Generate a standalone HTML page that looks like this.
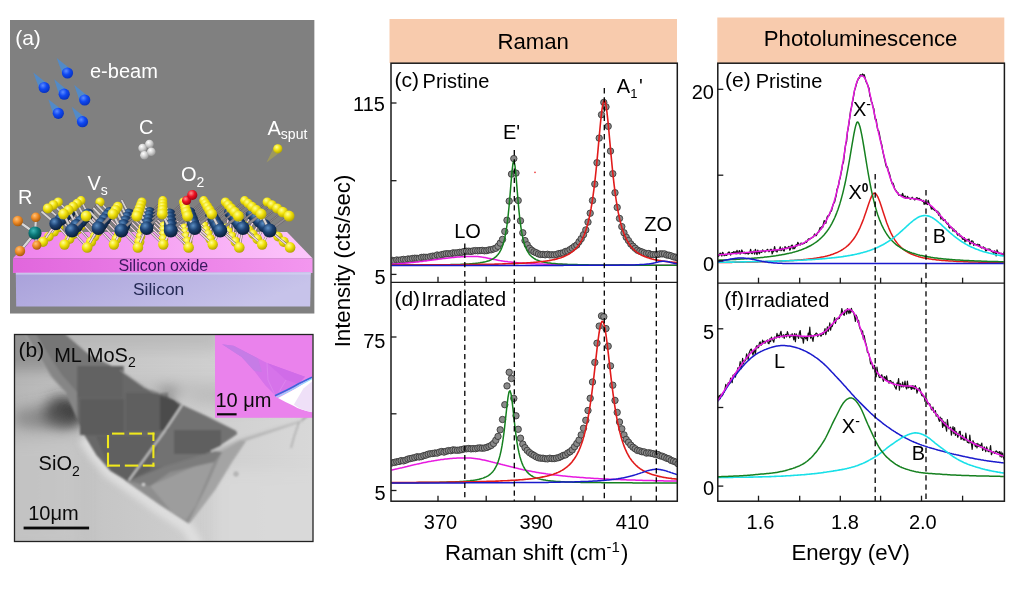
<!DOCTYPE html>
<html><head><meta charset="utf-8"><title>Figure</title>
<style>html,body{margin:0;padding:0;background:#fff}body{width:1024px;height:600px;overflow:hidden}svg{display:block}text{font-family:"Liberation Sans",Arial,sans-serif}</style>
</head><body>
<svg width="1024" height="600" viewBox="0 0 1024 600">
<defs>
<radialGradient id="gS" cx="0.38" cy="0.32" r="0.75"><stop offset="0" stop-color="#ffff9a"/><stop offset="0.45" stop-color="#f2e20c"/><stop offset="1" stop-color="#a89a00"/></radialGradient>
<radialGradient id="gMo" cx="0.38" cy="0.32" r="0.75"><stop offset="0" stop-color="#5d8fc4"/><stop offset="0.45" stop-color="#1d4272"/><stop offset="1" stop-color="#07172e"/></radialGradient>
<radialGradient id="gB" cx="0.38" cy="0.32" r="0.75"><stop offset="0" stop-color="#5c8cff"/><stop offset="0.45" stop-color="#0f48f2"/><stop offset="1" stop-color="#062eb4"/></radialGradient>
<radialGradient id="gR" cx="0.38" cy="0.32" r="0.75"><stop offset="0" stop-color="#ff8f8f"/><stop offset="0.45" stop-color="#ee1122"/><stop offset="1" stop-color="#8a0010"/></radialGradient>
<radialGradient id="gC" cx="0.38" cy="0.32" r="0.75"><stop offset="0" stop-color="#ffffff"/><stop offset="0.45" stop-color="#d4d4d4"/><stop offset="1" stop-color="#8e8e8e"/></radialGradient>
<radialGradient id="gO" cx="0.38" cy="0.32" r="0.75"><stop offset="0" stop-color="#ffc37a"/><stop offset="0.45" stop-color="#f08c28"/><stop offset="1" stop-color="#9a5208"/></radialGradient>
<radialGradient id="gT" cx="0.38" cy="0.32" r="0.75"><stop offset="0" stop-color="#3fb7b7"/><stop offset="0.45" stop-color="#0a7878"/><stop offset="1" stop-color="#033c3c"/></radialGradient>
<linearGradient id="gTop" x1="0" y1="0" x2="1" y2="0"><stop offset="0" stop-color="#ee82ec"/><stop offset="0.5" stop-color="#f6a4f3"/><stop offset="1" stop-color="#fcc6fb"/></linearGradient>
<linearGradient id="gOx" x1="0" y1="0" x2="1" y2="0"><stop offset="0" stop-color="#e166dd"/><stop offset="1" stop-color="#f397ef"/></linearGradient>
<linearGradient id="gSi" x1="0" y1="0" x2="1" y2="0.3"><stop offset="0" stop-color="#a9a1da"/><stop offset="1" stop-color="#c7c3ea"/></linearGradient>
<linearGradient id="gSem" x1="0" y1="0" x2="1" y2="0"><stop offset="0" stop-color="#b6b6b6"/><stop offset="0.3" stop-color="#c6c6c6"/><stop offset="1" stop-color="#d8d8d8"/></linearGradient>
<filter id="bl1" x="-10%" y="-10%" width="120%" height="120%"><feGaussianBlur stdDeviation="0.8"/></filter>
<filter id="bl3" x="-30%" y="-30%" width="160%" height="160%"><feGaussianBlur stdDeviation="3"/></filter>
<filter id="bl6" x="-50%" y="-50%" width="200%" height="200%"><feGaussianBlur stdDeviation="7"/></filter>
<filter id="bl05" x="-10%" y="-10%" width="120%" height="120%"><feGaussianBlur stdDeviation="0.45"/></filter>
<clipPath id="clipA"><rect x="10" y="20" width="304.6" height="293.7"/></clipPath>
<clipPath id="clipB"><rect x="14.5" y="334.5" width="298" height="206.5"/></clipPath>
<clipPath id="clipC"><rect x="391.5" y="63" width="285.5" height="219.3"/></clipPath>
<clipPath id="clipD"><rect x="391.5" y="282.3" width="285.5" height="218.7"/></clipPath>
<clipPath id="clipE"><rect x="718" y="63" width="286" height="220.2"/></clipPath>
<clipPath id="clipF"><rect x="718" y="283.2" width="286" height="217.8"/></clipPath>
</defs>
<rect width="1024" height="600" fill="#ffffff"/>
<g id="panelA" clip-path="url(#clipA)">
<rect x="10" y="20" width="304.6" height="293.7" fill="#808080"/>
<polygon points="13,258.3 312.5,258.3 287,232 37,232" fill="url(#gTop)"/>
<rect x="13" y="258.3" width="299.5" height="14.7" fill="url(#gOx)"/>
<polygon points="15.8,273 310.8,272 310.2,306.5 16.2,306.5" fill="url(#gSi)"/>
<rect x="15.8" y="272.6" width="295" height="2" fill="#d6d2f2" opacity="0.7"/>
<line x1="69.6" y1="212.6" x2="81.8" y2="225.8" stroke="#6a6468" stroke-width="2.0" stroke-linecap="round"/><line x1="69.6" y1="212.6" x2="81.8" y2="225.8" stroke="#f7dbe4" stroke-width="1.1" stroke-linecap="round"/>
<line x1="69.6" y1="212.6" x2="81.0" y2="200.6" stroke="#6a6468" stroke-width="1.8" stroke-linecap="round"/><line x1="69.6" y1="212.6" x2="81.0" y2="200.6" stroke="#8f8a8e" stroke-width="0.9" stroke-linecap="round"/>
<line x1="88.0" y1="214.2" x2="100.9" y2="227.8" stroke="#6a6468" stroke-width="2.0" stroke-linecap="round"/><line x1="88.0" y1="214.2" x2="100.9" y2="227.8" stroke="#f7dbe4" stroke-width="1.1" stroke-linecap="round"/>
<line x1="88.0" y1="214.2" x2="100.0" y2="202.0" stroke="#6a6468" stroke-width="1.8" stroke-linecap="round"/><line x1="88.0" y1="214.2" x2="100.0" y2="202.0" stroke="#8f8a8e" stroke-width="0.9" stroke-linecap="round"/>
<line x1="109.7" y1="212.6" x2="122.7" y2="225.8" stroke="#6a6468" stroke-width="2.0" stroke-linecap="round"/><line x1="109.7" y1="212.6" x2="122.7" y2="225.8" stroke="#f7dbe4" stroke-width="1.1" stroke-linecap="round"/>
<line x1="128.9" y1="214.2" x2="142.7" y2="227.8" stroke="#6a6468" stroke-width="2.0" stroke-linecap="round"/><line x1="128.9" y1="214.2" x2="142.7" y2="227.8" stroke="#f7dbe4" stroke-width="1.1" stroke-linecap="round"/>
<line x1="128.9" y1="214.2" x2="141.8" y2="202.0" stroke="#6a6468" stroke-width="1.8" stroke-linecap="round"/><line x1="128.9" y1="214.2" x2="141.8" y2="202.0" stroke="#8f8a8e" stroke-width="0.9" stroke-linecap="round"/>
<line x1="149.7" y1="212.6" x2="163.6" y2="225.8" stroke="#6a6468" stroke-width="2.0" stroke-linecap="round"/><line x1="149.7" y1="212.6" x2="163.6" y2="225.8" stroke="#f7dbe4" stroke-width="1.1" stroke-linecap="round"/>
<line x1="149.7" y1="212.6" x2="162.8" y2="200.6" stroke="#6a6468" stroke-width="1.8" stroke-linecap="round"/><line x1="149.7" y1="212.6" x2="162.8" y2="200.6" stroke="#8f8a8e" stroke-width="0.9" stroke-linecap="round"/>
<line x1="169.8" y1="214.2" x2="184.5" y2="227.8" stroke="#6a6468" stroke-width="2.0" stroke-linecap="round"/><line x1="169.8" y1="214.2" x2="184.5" y2="227.8" stroke="#f7dbe4" stroke-width="1.1" stroke-linecap="round"/>
<line x1="169.8" y1="214.2" x2="183.6" y2="202.0" stroke="#6a6468" stroke-width="1.8" stroke-linecap="round"/><line x1="169.8" y1="214.2" x2="183.6" y2="202.0" stroke="#8f8a8e" stroke-width="0.9" stroke-linecap="round"/>
<line x1="189.7" y1="212.6" x2="204.5" y2="225.8" stroke="#6a6468" stroke-width="2.0" stroke-linecap="round"/><line x1="189.7" y1="212.6" x2="204.5" y2="225.8" stroke="#f7dbe4" stroke-width="1.1" stroke-linecap="round"/>
<line x1="189.7" y1="212.6" x2="203.7" y2="200.6" stroke="#6a6468" stroke-width="1.8" stroke-linecap="round"/><line x1="189.7" y1="212.6" x2="203.7" y2="200.6" stroke="#8f8a8e" stroke-width="0.9" stroke-linecap="round"/>
<line x1="210.7" y1="214.2" x2="226.3" y2="227.8" stroke="#6a6468" stroke-width="2.0" stroke-linecap="round"/><line x1="210.7" y1="214.2" x2="226.3" y2="227.8" stroke="#f7dbe4" stroke-width="1.1" stroke-linecap="round"/>
<line x1="210.7" y1="214.2" x2="225.4" y2="202.0" stroke="#6a6468" stroke-width="1.8" stroke-linecap="round"/><line x1="210.7" y1="214.2" x2="225.4" y2="202.0" stroke="#8f8a8e" stroke-width="0.9" stroke-linecap="round"/>
<line x1="229.7" y1="212.6" x2="245.4" y2="225.8" stroke="#6a6468" stroke-width="2.0" stroke-linecap="round"/><line x1="229.7" y1="212.6" x2="245.4" y2="225.8" stroke="#f7dbe4" stroke-width="1.1" stroke-linecap="round"/>
<line x1="229.7" y1="212.6" x2="244.6" y2="200.6" stroke="#6a6468" stroke-width="1.8" stroke-linecap="round"/><line x1="229.7" y1="212.6" x2="244.6" y2="200.6" stroke="#8f8a8e" stroke-width="0.9" stroke-linecap="round"/>
<line x1="251.6" y1="214.2" x2="268.0" y2="227.8" stroke="#6a6468" stroke-width="2.0" stroke-linecap="round"/><line x1="251.6" y1="214.2" x2="268.0" y2="227.8" stroke="#f7dbe4" stroke-width="1.1" stroke-linecap="round"/>
<line x1="251.6" y1="214.2" x2="267.2" y2="202.0" stroke="#6a6468" stroke-width="1.8" stroke-linecap="round"/><line x1="251.6" y1="214.2" x2="267.2" y2="202.0" stroke="#8f8a8e" stroke-width="0.9" stroke-linecap="round"/>
<line x1="69.6" y1="212.6" x2="59.1" y2="227.8" stroke="#6a6468" stroke-width="2.3" stroke-linecap="round"/><line x1="69.6" y1="212.6" x2="59.1" y2="227.8" stroke="#f6d3df" stroke-width="1.4" stroke-linecap="round"/>
<line x1="88.0" y1="214.2" x2="81.8" y2="225.8" stroke="#6a6468" stroke-width="2.2" stroke-linecap="round"/><line x1="88.0" y1="214.2" x2="81.8" y2="225.8" stroke="#f6d3df" stroke-width="1.3" stroke-linecap="round"/>
<line x1="109.7" y1="212.6" x2="100.9" y2="227.8" stroke="#6a6468" stroke-width="2.3" stroke-linecap="round"/><line x1="109.7" y1="212.6" x2="100.9" y2="227.8" stroke="#f6d3df" stroke-width="1.4" stroke-linecap="round"/>
<line x1="128.9" y1="214.2" x2="122.7" y2="225.8" stroke="#6a6468" stroke-width="2.2" stroke-linecap="round"/><line x1="128.9" y1="214.2" x2="122.7" y2="225.8" stroke="#f6d3df" stroke-width="1.3" stroke-linecap="round"/>
<line x1="149.7" y1="212.6" x2="142.7" y2="227.8" stroke="#6a6468" stroke-width="2.3" stroke-linecap="round"/><line x1="149.7" y1="212.6" x2="142.7" y2="227.8" stroke="#f6d3df" stroke-width="1.4" stroke-linecap="round"/>
<line x1="169.8" y1="214.2" x2="163.6" y2="225.8" stroke="#6a6468" stroke-width="2.2" stroke-linecap="round"/><line x1="169.8" y1="214.2" x2="163.6" y2="225.8" stroke="#f6d3df" stroke-width="1.3" stroke-linecap="round"/>
<line x1="189.7" y1="212.6" x2="184.5" y2="227.8" stroke="#6a6468" stroke-width="2.3" stroke-linecap="round"/><line x1="189.7" y1="212.6" x2="184.5" y2="227.8" stroke="#f6d3df" stroke-width="1.4" stroke-linecap="round"/>
<line x1="210.7" y1="214.2" x2="204.5" y2="225.8" stroke="#6a6468" stroke-width="2.2" stroke-linecap="round"/><line x1="210.7" y1="214.2" x2="204.5" y2="225.8" stroke="#f6d3df" stroke-width="1.3" stroke-linecap="round"/>
<line x1="229.7" y1="212.6" x2="226.3" y2="227.8" stroke="#6a6468" stroke-width="2.3" stroke-linecap="round"/><line x1="229.7" y1="212.6" x2="226.3" y2="227.8" stroke="#f6d3df" stroke-width="1.4" stroke-linecap="round"/>
<line x1="251.6" y1="214.2" x2="245.4" y2="225.8" stroke="#6a6468" stroke-width="2.2" stroke-linecap="round"/><line x1="251.6" y1="214.2" x2="245.4" y2="225.8" stroke="#f6d3df" stroke-width="1.3" stroke-linecap="round"/>
<line x1="69.6" y1="212.6" x2="58.2" y2="202.0" stroke="#6a6468" stroke-width="2.6" stroke-linecap="round"/><line x1="69.6" y1="212.6" x2="58.2" y2="202.0" stroke="#d6d2d2" stroke-width="1.7" stroke-linecap="round"/>
<line x1="88.0" y1="214.2" x2="81.0" y2="200.6" stroke="#6a6468" stroke-width="2.6" stroke-linecap="round"/><line x1="88.0" y1="214.2" x2="81.0" y2="200.6" stroke="#d6d2d2" stroke-width="1.7" stroke-linecap="round"/>
<line x1="109.7" y1="212.6" x2="100.0" y2="202.0" stroke="#6a6468" stroke-width="2.6" stroke-linecap="round"/><line x1="109.7" y1="212.6" x2="100.0" y2="202.0" stroke="#d6d2d2" stroke-width="1.7" stroke-linecap="round"/>
<line x1="128.9" y1="214.2" x2="121.9" y2="200.6" stroke="#6a6468" stroke-width="2.6" stroke-linecap="round"/><line x1="128.9" y1="214.2" x2="121.9" y2="200.6" stroke="#d6d2d2" stroke-width="1.7" stroke-linecap="round"/>
<line x1="149.7" y1="212.6" x2="141.8" y2="202.0" stroke="#6a6468" stroke-width="2.6" stroke-linecap="round"/><line x1="149.7" y1="212.6" x2="141.8" y2="202.0" stroke="#d6d2d2" stroke-width="1.7" stroke-linecap="round"/>
<line x1="169.8" y1="214.2" x2="162.8" y2="200.6" stroke="#6a6468" stroke-width="2.6" stroke-linecap="round"/><line x1="169.8" y1="214.2" x2="162.8" y2="200.6" stroke="#d6d2d2" stroke-width="1.7" stroke-linecap="round"/>
<line x1="189.7" y1="212.6" x2="183.6" y2="202.0" stroke="#6a6468" stroke-width="2.6" stroke-linecap="round"/><line x1="189.7" y1="212.6" x2="183.6" y2="202.0" stroke="#d6d2d2" stroke-width="1.7" stroke-linecap="round"/>
<line x1="210.7" y1="214.2" x2="203.7" y2="200.6" stroke="#6a6468" stroke-width="2.6" stroke-linecap="round"/><line x1="210.7" y1="214.2" x2="203.7" y2="200.6" stroke="#d6d2d2" stroke-width="1.7" stroke-linecap="round"/>
<line x1="229.7" y1="212.6" x2="225.4" y2="202.0" stroke="#6a6468" stroke-width="2.6" stroke-linecap="round"/><line x1="229.7" y1="212.6" x2="225.4" y2="202.0" stroke="#d6d2d2" stroke-width="1.7" stroke-linecap="round"/>
<line x1="251.6" y1="214.2" x2="244.6" y2="200.6" stroke="#6a6468" stroke-width="2.6" stroke-linecap="round"/><line x1="251.6" y1="214.2" x2="244.6" y2="200.6" stroke="#d6d2d2" stroke-width="1.7" stroke-linecap="round"/>
<circle cx="69.6" cy="212.6" r="5.7" fill="url(#gMo)"/>
<circle cx="88.0" cy="214.2" r="5.8" fill="url(#gMo)"/>
<circle cx="109.7" cy="212.6" r="5.7" fill="url(#gMo)"/>
<circle cx="128.9" cy="214.2" r="5.8" fill="url(#gMo)"/>
<circle cx="149.7" cy="212.6" r="5.7" fill="url(#gMo)"/>
<circle cx="169.8" cy="214.2" r="5.8" fill="url(#gMo)"/>
<circle cx="189.7" cy="212.6" r="5.7" fill="url(#gMo)"/>
<circle cx="210.7" cy="214.2" r="5.8" fill="url(#gMo)"/>
<circle cx="229.7" cy="212.6" r="5.7" fill="url(#gMo)"/>
<circle cx="251.6" cy="214.2" r="5.8" fill="url(#gMo)"/>
<circle cx="58.2" cy="202.0" r="4.6" fill="url(#gS)"/>
<circle cx="81.0" cy="200.6" r="4.5" fill="url(#gS)"/>
<circle cx="100.0" cy="202.0" r="4.6" fill="url(#gS)"/>
<circle cx="141.8" cy="202.0" r="4.6" fill="url(#gS)"/>
<circle cx="162.8" cy="200.6" r="4.5" fill="url(#gS)"/>
<circle cx="183.6" cy="202.0" r="4.6" fill="url(#gS)"/>
<circle cx="203.7" cy="200.6" r="4.5" fill="url(#gS)"/>
<circle cx="225.4" cy="202.0" r="4.6" fill="url(#gS)"/>
<circle cx="244.6" cy="200.6" r="4.5" fill="url(#gS)"/>
<circle cx="267.2" cy="202.0" r="4.6" fill="url(#gS)"/>
<circle cx="59.1" cy="227.8" r="4.4" fill="url(#gS)"/>
<circle cx="81.8" cy="225.8" r="4.3" fill="url(#gS)"/>
<circle cx="100.9" cy="227.8" r="4.4" fill="url(#gS)"/>
<circle cx="122.7" cy="225.8" r="4.3" fill="url(#gS)"/>
<circle cx="142.7" cy="227.8" r="4.4" fill="url(#gS)"/>
<circle cx="163.6" cy="225.8" r="4.3" fill="url(#gS)"/>
<circle cx="184.5" cy="227.8" r="4.4" fill="url(#gS)"/>
<circle cx="204.5" cy="225.8" r="4.3" fill="url(#gS)"/>
<circle cx="226.3" cy="227.8" r="4.4" fill="url(#gS)"/>
<circle cx="245.4" cy="225.8" r="4.3" fill="url(#gS)"/>
<circle cx="268.0" cy="227.8" r="4.4" fill="url(#gS)"/>
<line x1="65.4" y1="215.9" x2="78.1" y2="229.9" stroke="#6a6468" stroke-width="2.1" stroke-linecap="round"/><line x1="65.4" y1="215.9" x2="78.1" y2="229.9" stroke="#f7dbe4" stroke-width="1.2" stroke-linecap="round"/>
<line x1="65.4" y1="215.9" x2="77.2" y2="203.5" stroke="#6a6468" stroke-width="1.9" stroke-linecap="round"/><line x1="65.4" y1="215.9" x2="77.2" y2="203.5" stroke="#8f8a8e" stroke-width="1.0" stroke-linecap="round"/>
<line x1="84.6" y1="217.7" x2="97.9" y2="232.0" stroke="#6a6468" stroke-width="2.0" stroke-linecap="round"/><line x1="84.6" y1="217.7" x2="97.9" y2="232.0" stroke="#f7dbe4" stroke-width="1.1" stroke-linecap="round"/>
<line x1="107.2" y1="215.9" x2="120.8" y2="229.9" stroke="#6a6468" stroke-width="2.1" stroke-linecap="round"/><line x1="107.2" y1="215.9" x2="120.8" y2="229.9" stroke="#f7dbe4" stroke-width="1.2" stroke-linecap="round"/>
<line x1="127.3" y1="217.7" x2="141.6" y2="232.0" stroke="#6a6468" stroke-width="2.0" stroke-linecap="round"/><line x1="127.3" y1="217.7" x2="141.6" y2="232.0" stroke="#f7dbe4" stroke-width="1.1" stroke-linecap="round"/>
<line x1="127.3" y1="217.7" x2="140.8" y2="205.0" stroke="#6a6468" stroke-width="1.9" stroke-linecap="round"/><line x1="127.3" y1="217.7" x2="140.8" y2="205.0" stroke="#8f8a8e" stroke-width="1.0" stroke-linecap="round"/>
<line x1="149.0" y1="215.9" x2="163.5" y2="229.9" stroke="#6a6468" stroke-width="2.1" stroke-linecap="round"/><line x1="149.0" y1="215.9" x2="163.5" y2="229.9" stroke="#f7dbe4" stroke-width="1.2" stroke-linecap="round"/>
<line x1="149.0" y1="215.9" x2="162.7" y2="203.5" stroke="#6a6468" stroke-width="1.9" stroke-linecap="round"/><line x1="149.0" y1="215.9" x2="162.7" y2="203.5" stroke="#8f8a8e" stroke-width="1.0" stroke-linecap="round"/>
<line x1="170.0" y1="217.7" x2="185.4" y2="232.0" stroke="#6a6468" stroke-width="2.0" stroke-linecap="round"/><line x1="170.0" y1="217.7" x2="185.4" y2="232.0" stroke="#f7dbe4" stroke-width="1.1" stroke-linecap="round"/>
<line x1="170.0" y1="217.7" x2="184.5" y2="205.0" stroke="#6a6468" stroke-width="1.9" stroke-linecap="round"/><line x1="170.0" y1="217.7" x2="184.5" y2="205.0" stroke="#8f8a8e" stroke-width="1.0" stroke-linecap="round"/>
<line x1="190.8" y1="215.9" x2="206.3" y2="229.9" stroke="#6a6468" stroke-width="2.1" stroke-linecap="round"/><line x1="190.8" y1="215.9" x2="206.3" y2="229.9" stroke="#f7dbe4" stroke-width="1.2" stroke-linecap="round"/>
<line x1="190.8" y1="215.9" x2="205.4" y2="203.5" stroke="#6a6468" stroke-width="1.9" stroke-linecap="round"/><line x1="190.8" y1="215.9" x2="205.4" y2="203.5" stroke="#8f8a8e" stroke-width="1.0" stroke-linecap="round"/>
<line x1="212.8" y1="217.7" x2="229.1" y2="232.0" stroke="#6a6468" stroke-width="2.0" stroke-linecap="round"/><line x1="212.8" y1="217.7" x2="229.1" y2="232.0" stroke="#f7dbe4" stroke-width="1.1" stroke-linecap="round"/>
<line x1="212.8" y1="217.7" x2="228.2" y2="205.0" stroke="#6a6468" stroke-width="1.9" stroke-linecap="round"/><line x1="212.8" y1="217.7" x2="228.2" y2="205.0" stroke="#8f8a8e" stroke-width="1.0" stroke-linecap="round"/>
<line x1="232.6" y1="215.9" x2="249.0" y2="229.9" stroke="#6a6468" stroke-width="2.1" stroke-linecap="round"/><line x1="232.6" y1="215.9" x2="249.0" y2="229.9" stroke="#f7dbe4" stroke-width="1.2" stroke-linecap="round"/>
<line x1="232.6" y1="215.9" x2="248.1" y2="203.5" stroke="#6a6468" stroke-width="1.9" stroke-linecap="round"/><line x1="232.6" y1="215.9" x2="248.1" y2="203.5" stroke="#8f8a8e" stroke-width="1.0" stroke-linecap="round"/>
<line x1="255.5" y1="217.7" x2="272.8" y2="232.0" stroke="#6a6468" stroke-width="2.0" stroke-linecap="round"/><line x1="255.5" y1="217.7" x2="272.8" y2="232.0" stroke="#f7dbe4" stroke-width="1.1" stroke-linecap="round"/>
<line x1="255.5" y1="217.7" x2="271.9" y2="205.0" stroke="#6a6468" stroke-width="1.9" stroke-linecap="round"/><line x1="255.5" y1="217.7" x2="271.9" y2="205.0" stroke="#8f8a8e" stroke-width="1.0" stroke-linecap="round"/>
<line x1="65.4" y1="215.9" x2="54.2" y2="232.0" stroke="#6a6468" stroke-width="2.3" stroke-linecap="round"/><line x1="65.4" y1="215.9" x2="54.2" y2="232.0" stroke="#f6d3df" stroke-width="1.4" stroke-linecap="round"/>
<line x1="84.6" y1="217.7" x2="78.1" y2="229.9" stroke="#6a6468" stroke-width="2.3" stroke-linecap="round"/><line x1="84.6" y1="217.7" x2="78.1" y2="229.9" stroke="#f6d3df" stroke-width="1.4" stroke-linecap="round"/>
<line x1="107.2" y1="215.9" x2="97.9" y2="232.0" stroke="#6a6468" stroke-width="2.3" stroke-linecap="round"/><line x1="107.2" y1="215.9" x2="97.9" y2="232.0" stroke="#f6d3df" stroke-width="1.4" stroke-linecap="round"/>
<line x1="127.3" y1="217.7" x2="120.8" y2="229.9" stroke="#6a6468" stroke-width="2.3" stroke-linecap="round"/><line x1="127.3" y1="217.7" x2="120.8" y2="229.9" stroke="#f6d3df" stroke-width="1.4" stroke-linecap="round"/>
<line x1="149.0" y1="215.9" x2="141.6" y2="232.0" stroke="#6a6468" stroke-width="2.3" stroke-linecap="round"/><line x1="149.0" y1="215.9" x2="141.6" y2="232.0" stroke="#f6d3df" stroke-width="1.4" stroke-linecap="round"/>
<line x1="170.0" y1="217.7" x2="163.5" y2="229.9" stroke="#6a6468" stroke-width="2.3" stroke-linecap="round"/><line x1="170.0" y1="217.7" x2="163.5" y2="229.9" stroke="#f6d3df" stroke-width="1.4" stroke-linecap="round"/>
<line x1="190.8" y1="215.9" x2="185.4" y2="232.0" stroke="#6a6468" stroke-width="2.3" stroke-linecap="round"/><line x1="190.8" y1="215.9" x2="185.4" y2="232.0" stroke="#f6d3df" stroke-width="1.4" stroke-linecap="round"/>
<line x1="212.8" y1="217.7" x2="206.3" y2="229.9" stroke="#6a6468" stroke-width="2.3" stroke-linecap="round"/><line x1="212.8" y1="217.7" x2="206.3" y2="229.9" stroke="#f6d3df" stroke-width="1.4" stroke-linecap="round"/>
<line x1="232.6" y1="215.9" x2="229.1" y2="232.0" stroke="#6a6468" stroke-width="2.3" stroke-linecap="round"/><line x1="232.6" y1="215.9" x2="229.1" y2="232.0" stroke="#f6d3df" stroke-width="1.4" stroke-linecap="round"/>
<line x1="255.5" y1="217.7" x2="249.0" y2="229.9" stroke="#6a6468" stroke-width="2.3" stroke-linecap="round"/><line x1="255.5" y1="217.7" x2="249.0" y2="229.9" stroke="#f6d3df" stroke-width="1.4" stroke-linecap="round"/>
<line x1="65.4" y1="215.9" x2="53.3" y2="205.0" stroke="#6a6468" stroke-width="2.7" stroke-linecap="round"/><line x1="65.4" y1="215.9" x2="53.3" y2="205.0" stroke="#d6d2d2" stroke-width="1.8" stroke-linecap="round"/>
<line x1="84.6" y1="217.7" x2="77.2" y2="203.5" stroke="#6a6468" stroke-width="2.6" stroke-linecap="round"/><line x1="84.6" y1="217.7" x2="77.2" y2="203.5" stroke="#d6d2d2" stroke-width="1.7" stroke-linecap="round"/>
<line x1="107.2" y1="215.9" x2="97.0" y2="205.0" stroke="#6a6468" stroke-width="2.7" stroke-linecap="round"/><line x1="107.2" y1="215.9" x2="97.0" y2="205.0" stroke="#d6d2d2" stroke-width="1.8" stroke-linecap="round"/>
<line x1="127.3" y1="217.7" x2="119.9" y2="203.5" stroke="#6a6468" stroke-width="2.6" stroke-linecap="round"/><line x1="127.3" y1="217.7" x2="119.9" y2="203.5" stroke="#d6d2d2" stroke-width="1.7" stroke-linecap="round"/>
<line x1="149.0" y1="215.9" x2="140.8" y2="205.0" stroke="#6a6468" stroke-width="2.7" stroke-linecap="round"/><line x1="149.0" y1="215.9" x2="140.8" y2="205.0" stroke="#d6d2d2" stroke-width="1.8" stroke-linecap="round"/>
<line x1="170.0" y1="217.7" x2="162.7" y2="203.5" stroke="#6a6468" stroke-width="2.6" stroke-linecap="round"/><line x1="170.0" y1="217.7" x2="162.7" y2="203.5" stroke="#d6d2d2" stroke-width="1.7" stroke-linecap="round"/>
<line x1="190.8" y1="215.9" x2="184.5" y2="205.0" stroke="#6a6468" stroke-width="2.7" stroke-linecap="round"/><line x1="190.8" y1="215.9" x2="184.5" y2="205.0" stroke="#d6d2d2" stroke-width="1.8" stroke-linecap="round"/>
<line x1="212.8" y1="217.7" x2="205.4" y2="203.5" stroke="#6a6468" stroke-width="2.6" stroke-linecap="round"/><line x1="212.8" y1="217.7" x2="205.4" y2="203.5" stroke="#d6d2d2" stroke-width="1.7" stroke-linecap="round"/>
<line x1="232.6" y1="215.9" x2="228.2" y2="205.0" stroke="#6a6468" stroke-width="2.7" stroke-linecap="round"/><line x1="232.6" y1="215.9" x2="228.2" y2="205.0" stroke="#d6d2d2" stroke-width="1.8" stroke-linecap="round"/>
<line x1="255.5" y1="217.7" x2="248.1" y2="203.5" stroke="#6a6468" stroke-width="2.6" stroke-linecap="round"/><line x1="255.5" y1="217.7" x2="248.1" y2="203.5" stroke="#d6d2d2" stroke-width="1.7" stroke-linecap="round"/>
<circle cx="65.4" cy="215.9" r="5.9" fill="url(#gMo)"/>
<circle cx="84.6" cy="217.7" r="6.1" fill="url(#gMo)"/>
<circle cx="107.2" cy="215.9" r="5.9" fill="url(#gMo)"/>
<circle cx="127.3" cy="217.7" r="6.1" fill="url(#gMo)"/>
<circle cx="149.0" cy="215.9" r="5.9" fill="url(#gMo)"/>
<circle cx="170.0" cy="217.7" r="6.1" fill="url(#gMo)"/>
<circle cx="190.8" cy="215.9" r="5.9" fill="url(#gMo)"/>
<circle cx="212.8" cy="217.7" r="6.1" fill="url(#gMo)"/>
<circle cx="232.6" cy="215.9" r="5.9" fill="url(#gMo)"/>
<circle cx="255.5" cy="217.7" r="6.1" fill="url(#gMo)"/>
<circle cx="53.3" cy="205.0" r="4.8" fill="url(#gS)"/>
<circle cx="77.2" cy="203.5" r="4.7" fill="url(#gS)"/>
<circle cx="140.8" cy="205.0" r="4.8" fill="url(#gS)"/>
<circle cx="162.7" cy="203.5" r="4.7" fill="url(#gS)"/>
<circle cx="184.5" cy="205.0" r="4.8" fill="url(#gS)"/>
<circle cx="205.4" cy="203.5" r="4.7" fill="url(#gS)"/>
<circle cx="228.2" cy="205.0" r="4.8" fill="url(#gS)"/>
<circle cx="248.1" cy="203.5" r="4.7" fill="url(#gS)"/>
<circle cx="271.9" cy="205.0" r="4.8" fill="url(#gS)"/>
<circle cx="54.2" cy="232.0" r="4.6" fill="url(#gS)"/>
<circle cx="78.1" cy="229.9" r="4.5" fill="url(#gS)"/>
<circle cx="97.9" cy="232.0" r="4.6" fill="url(#gS)"/>
<circle cx="120.8" cy="229.9" r="4.5" fill="url(#gS)"/>
<circle cx="141.6" cy="232.0" r="4.6" fill="url(#gS)"/>
<circle cx="163.5" cy="229.9" r="4.5" fill="url(#gS)"/>
<circle cx="185.4" cy="232.0" r="4.6" fill="url(#gS)"/>
<circle cx="206.3" cy="229.9" r="4.5" fill="url(#gS)"/>
<circle cx="229.1" cy="232.0" r="4.6" fill="url(#gS)"/>
<circle cx="249.0" cy="229.9" r="4.5" fill="url(#gS)"/>
<circle cx="272.8" cy="232.0" r="4.6" fill="url(#gS)"/>
<line x1="60.8" y1="219.6" x2="74.0" y2="234.3" stroke="#6a6468" stroke-width="2.1" stroke-linecap="round"/><line x1="60.8" y1="219.6" x2="74.0" y2="234.3" stroke="#f7dbe4" stroke-width="1.2" stroke-linecap="round"/>
<line x1="60.8" y1="219.6" x2="73.1" y2="206.7" stroke="#6a6468" stroke-width="1.9" stroke-linecap="round"/><line x1="60.8" y1="219.6" x2="73.1" y2="206.7" stroke="#8f8a8e" stroke-width="1.0" stroke-linecap="round"/>
<line x1="80.8" y1="221.6" x2="94.7" y2="236.6" stroke="#6a6468" stroke-width="2.1" stroke-linecap="round"/><line x1="80.8" y1="221.6" x2="94.7" y2="236.6" stroke="#f7dbe4" stroke-width="1.2" stroke-linecap="round"/>
<line x1="104.6" y1="219.6" x2="118.7" y2="234.3" stroke="#6a6468" stroke-width="2.1" stroke-linecap="round"/><line x1="104.6" y1="219.6" x2="118.7" y2="234.3" stroke="#f7dbe4" stroke-width="1.2" stroke-linecap="round"/>
<line x1="104.6" y1="219.6" x2="117.8" y2="206.7" stroke="#6a6468" stroke-width="1.9" stroke-linecap="round"/><line x1="104.6" y1="219.6" x2="117.8" y2="206.7" stroke="#8f8a8e" stroke-width="1.0" stroke-linecap="round"/>
<line x1="125.5" y1="221.6" x2="140.5" y2="236.6" stroke="#6a6468" stroke-width="2.1" stroke-linecap="round"/><line x1="125.5" y1="221.6" x2="140.5" y2="236.6" stroke="#f7dbe4" stroke-width="1.2" stroke-linecap="round"/>
<line x1="125.5" y1="221.6" x2="139.6" y2="208.4" stroke="#6a6468" stroke-width="1.9" stroke-linecap="round"/><line x1="125.5" y1="221.6" x2="139.6" y2="208.4" stroke="#8f8a8e" stroke-width="1.0" stroke-linecap="round"/>
<line x1="148.3" y1="219.6" x2="163.5" y2="234.3" stroke="#6a6468" stroke-width="2.1" stroke-linecap="round"/><line x1="148.3" y1="219.6" x2="163.5" y2="234.3" stroke="#f7dbe4" stroke-width="1.2" stroke-linecap="round"/>
<line x1="148.3" y1="219.6" x2="162.6" y2="206.7" stroke="#6a6468" stroke-width="1.9" stroke-linecap="round"/><line x1="148.3" y1="219.6" x2="162.6" y2="206.7" stroke="#8f8a8e" stroke-width="1.0" stroke-linecap="round"/>
<line x1="170.3" y1="221.6" x2="186.3" y2="236.6" stroke="#6a6468" stroke-width="2.1" stroke-linecap="round"/><line x1="170.3" y1="221.6" x2="186.3" y2="236.6" stroke="#f7dbe4" stroke-width="1.2" stroke-linecap="round"/>
<line x1="170.3" y1="221.6" x2="185.4" y2="208.4" stroke="#6a6468" stroke-width="1.9" stroke-linecap="round"/><line x1="170.3" y1="221.6" x2="185.4" y2="208.4" stroke="#8f8a8e" stroke-width="1.0" stroke-linecap="round"/>
<line x1="192.0" y1="219.6" x2="208.2" y2="234.3" stroke="#6a6468" stroke-width="2.1" stroke-linecap="round"/><line x1="192.0" y1="219.6" x2="208.2" y2="234.3" stroke="#f7dbe4" stroke-width="1.2" stroke-linecap="round"/>
<line x1="192.0" y1="219.6" x2="207.3" y2="206.7" stroke="#6a6468" stroke-width="1.9" stroke-linecap="round"/><line x1="192.0" y1="219.6" x2="207.3" y2="206.7" stroke="#8f8a8e" stroke-width="1.0" stroke-linecap="round"/>
<line x1="215.0" y1="221.6" x2="232.2" y2="236.6" stroke="#6a6468" stroke-width="2.1" stroke-linecap="round"/><line x1="215.0" y1="221.6" x2="232.2" y2="236.6" stroke="#f7dbe4" stroke-width="1.2" stroke-linecap="round"/>
<line x1="215.0" y1="221.6" x2="231.2" y2="208.4" stroke="#6a6468" stroke-width="1.9" stroke-linecap="round"/><line x1="215.0" y1="221.6" x2="231.2" y2="208.4" stroke="#8f8a8e" stroke-width="1.0" stroke-linecap="round"/>
<line x1="235.7" y1="219.6" x2="253.0" y2="234.3" stroke="#6a6468" stroke-width="2.1" stroke-linecap="round"/><line x1="235.7" y1="219.6" x2="253.0" y2="234.3" stroke="#f7dbe4" stroke-width="1.2" stroke-linecap="round"/>
<line x1="235.7" y1="219.6" x2="252.0" y2="206.7" stroke="#6a6468" stroke-width="1.9" stroke-linecap="round"/><line x1="235.7" y1="219.6" x2="252.0" y2="206.7" stroke="#8f8a8e" stroke-width="1.0" stroke-linecap="round"/>
<line x1="259.7" y1="221.6" x2="278.0" y2="236.6" stroke="#6a6468" stroke-width="2.1" stroke-linecap="round"/><line x1="259.7" y1="221.6" x2="278.0" y2="236.6" stroke="#f7dbe4" stroke-width="1.2" stroke-linecap="round"/>
<line x1="259.7" y1="221.6" x2="277.1" y2="208.4" stroke="#6a6468" stroke-width="1.9" stroke-linecap="round"/><line x1="259.7" y1="221.6" x2="277.1" y2="208.4" stroke="#8f8a8e" stroke-width="1.0" stroke-linecap="round"/>
<line x1="60.8" y1="219.6" x2="48.9" y2="236.6" stroke="#6a6468" stroke-width="2.4" stroke-linecap="round"/><line x1="60.8" y1="219.6" x2="48.9" y2="236.6" stroke="#f6d3df" stroke-width="1.5" stroke-linecap="round"/>
<line x1="80.8" y1="221.6" x2="74.0" y2="234.3" stroke="#6a6468" stroke-width="2.3" stroke-linecap="round"/><line x1="80.8" y1="221.6" x2="74.0" y2="234.3" stroke="#f6d3df" stroke-width="1.4" stroke-linecap="round"/>
<line x1="104.6" y1="219.6" x2="94.7" y2="236.6" stroke="#6a6468" stroke-width="2.4" stroke-linecap="round"/><line x1="104.6" y1="219.6" x2="94.7" y2="236.6" stroke="#f6d3df" stroke-width="1.5" stroke-linecap="round"/>
<line x1="125.5" y1="221.6" x2="118.7" y2="234.3" stroke="#6a6468" stroke-width="2.3" stroke-linecap="round"/><line x1="125.5" y1="221.6" x2="118.7" y2="234.3" stroke="#f6d3df" stroke-width="1.4" stroke-linecap="round"/>
<line x1="148.3" y1="219.6" x2="140.5" y2="236.6" stroke="#6a6468" stroke-width="2.4" stroke-linecap="round"/><line x1="148.3" y1="219.6" x2="140.5" y2="236.6" stroke="#f6d3df" stroke-width="1.5" stroke-linecap="round"/>
<line x1="170.3" y1="221.6" x2="163.5" y2="234.3" stroke="#6a6468" stroke-width="2.3" stroke-linecap="round"/><line x1="170.3" y1="221.6" x2="163.5" y2="234.3" stroke="#f6d3df" stroke-width="1.4" stroke-linecap="round"/>
<line x1="192.0" y1="219.6" x2="186.3" y2="236.6" stroke="#6a6468" stroke-width="2.4" stroke-linecap="round"/><line x1="192.0" y1="219.6" x2="186.3" y2="236.6" stroke="#f6d3df" stroke-width="1.5" stroke-linecap="round"/>
<line x1="215.0" y1="221.6" x2="208.2" y2="234.3" stroke="#6a6468" stroke-width="2.3" stroke-linecap="round"/><line x1="215.0" y1="221.6" x2="208.2" y2="234.3" stroke="#f6d3df" stroke-width="1.4" stroke-linecap="round"/>
<line x1="235.7" y1="219.6" x2="232.2" y2="236.6" stroke="#6a6468" stroke-width="2.4" stroke-linecap="round"/><line x1="235.7" y1="219.6" x2="232.2" y2="236.6" stroke="#f6d3df" stroke-width="1.5" stroke-linecap="round"/>
<line x1="259.7" y1="221.6" x2="253.0" y2="234.3" stroke="#6a6468" stroke-width="2.3" stroke-linecap="round"/><line x1="259.7" y1="221.6" x2="253.0" y2="234.3" stroke="#f6d3df" stroke-width="1.4" stroke-linecap="round"/>
<line x1="60.8" y1="219.6" x2="47.9" y2="208.4" stroke="#6a6468" stroke-width="2.8" stroke-linecap="round"/><line x1="60.8" y1="219.6" x2="47.9" y2="208.4" stroke="#d6d2d2" stroke-width="1.9" stroke-linecap="round"/>
<line x1="80.8" y1="221.6" x2="73.1" y2="206.7" stroke="#6a6468" stroke-width="2.7" stroke-linecap="round"/><line x1="80.8" y1="221.6" x2="73.1" y2="206.7" stroke="#d6d2d2" stroke-width="1.8" stroke-linecap="round"/>
<line x1="104.6" y1="219.6" x2="93.8" y2="208.4" stroke="#6a6468" stroke-width="2.8" stroke-linecap="round"/><line x1="104.6" y1="219.6" x2="93.8" y2="208.4" stroke="#d6d2d2" stroke-width="1.9" stroke-linecap="round"/>
<line x1="125.5" y1="221.6" x2="117.8" y2="206.7" stroke="#6a6468" stroke-width="2.7" stroke-linecap="round"/><line x1="125.5" y1="221.6" x2="117.8" y2="206.7" stroke="#d6d2d2" stroke-width="1.8" stroke-linecap="round"/>
<line x1="148.3" y1="219.6" x2="139.6" y2="208.4" stroke="#6a6468" stroke-width="2.8" stroke-linecap="round"/><line x1="148.3" y1="219.6" x2="139.6" y2="208.4" stroke="#d6d2d2" stroke-width="1.9" stroke-linecap="round"/>
<line x1="170.3" y1="221.6" x2="162.6" y2="206.7" stroke="#6a6468" stroke-width="2.7" stroke-linecap="round"/><line x1="170.3" y1="221.6" x2="162.6" y2="206.7" stroke="#d6d2d2" stroke-width="1.8" stroke-linecap="round"/>
<line x1="192.0" y1="219.6" x2="185.4" y2="208.4" stroke="#6a6468" stroke-width="2.8" stroke-linecap="round"/><line x1="192.0" y1="219.6" x2="185.4" y2="208.4" stroke="#d6d2d2" stroke-width="1.9" stroke-linecap="round"/>
<line x1="215.0" y1="221.6" x2="207.3" y2="206.7" stroke="#6a6468" stroke-width="2.7" stroke-linecap="round"/><line x1="215.0" y1="221.6" x2="207.3" y2="206.7" stroke="#d6d2d2" stroke-width="1.8" stroke-linecap="round"/>
<line x1="235.7" y1="219.6" x2="231.2" y2="208.4" stroke="#6a6468" stroke-width="2.8" stroke-linecap="round"/><line x1="235.7" y1="219.6" x2="231.2" y2="208.4" stroke="#d6d2d2" stroke-width="1.9" stroke-linecap="round"/>
<line x1="259.7" y1="221.6" x2="252.0" y2="206.7" stroke="#6a6468" stroke-width="2.7" stroke-linecap="round"/><line x1="259.7" y1="221.6" x2="252.0" y2="206.7" stroke="#d6d2d2" stroke-width="1.8" stroke-linecap="round"/>
<circle cx="60.8" cy="219.6" r="6.2" fill="url(#gMo)"/>
<circle cx="80.8" cy="221.6" r="6.3" fill="url(#gMo)"/>
<circle cx="104.6" cy="219.6" r="6.2" fill="url(#gMo)"/>
<circle cx="125.5" cy="221.6" r="6.3" fill="url(#gMo)"/>
<circle cx="148.3" cy="219.6" r="6.2" fill="url(#gMo)"/>
<circle cx="170.3" cy="221.6" r="6.3" fill="url(#gMo)"/>
<circle cx="192.0" cy="219.6" r="6.2" fill="url(#gMo)"/>
<circle cx="215.0" cy="221.6" r="6.3" fill="url(#gMo)"/>
<circle cx="235.7" cy="219.6" r="6.2" fill="url(#gMo)"/>
<circle cx="259.7" cy="221.6" r="6.3" fill="url(#gMo)"/>
<circle cx="47.9" cy="208.4" r="5.0" fill="url(#gS)"/>
<circle cx="73.1" cy="206.7" r="4.9" fill="url(#gS)"/>
<circle cx="117.8" cy="206.7" r="4.9" fill="url(#gS)"/>
<circle cx="139.6" cy="208.4" r="5.0" fill="url(#gS)"/>
<circle cx="162.6" cy="206.7" r="4.9" fill="url(#gS)"/>
<circle cx="185.4" cy="208.4" r="5.0" fill="url(#gS)"/>
<circle cx="207.3" cy="206.7" r="4.9" fill="url(#gS)"/>
<circle cx="231.2" cy="208.4" r="5.0" fill="url(#gS)"/>
<circle cx="252.0" cy="206.7" r="4.9" fill="url(#gS)"/>
<circle cx="277.1" cy="208.4" r="5.0" fill="url(#gS)"/>
<circle cx="48.9" cy="236.6" r="4.8" fill="url(#gS)"/>
<circle cx="74.0" cy="234.3" r="4.7" fill="url(#gS)"/>
<circle cx="94.7" cy="236.6" r="4.8" fill="url(#gS)"/>
<circle cx="118.7" cy="234.3" r="4.7" fill="url(#gS)"/>
<circle cx="140.5" cy="236.6" r="4.8" fill="url(#gS)"/>
<circle cx="163.5" cy="234.3" r="4.7" fill="url(#gS)"/>
<circle cx="186.3" cy="236.6" r="4.8" fill="url(#gS)"/>
<circle cx="208.2" cy="234.3" r="4.7" fill="url(#gS)"/>
<circle cx="232.2" cy="236.6" r="4.8" fill="url(#gS)"/>
<circle cx="253.0" cy="234.3" r="4.7" fill="url(#gS)"/>
<circle cx="278.0" cy="236.6" r="4.8" fill="url(#gS)"/>
<line x1="55.8" y1="223.7" x2="69.5" y2="239.1" stroke="#6a6468" stroke-width="2.2" stroke-linecap="round"/><line x1="55.8" y1="223.7" x2="69.5" y2="239.1" stroke="#f7dbe4" stroke-width="1.3" stroke-linecap="round"/>
<line x1="55.8" y1="223.7" x2="68.5" y2="210.1" stroke="#6a6468" stroke-width="2.0" stroke-linecap="round"/><line x1="55.8" y1="223.7" x2="68.5" y2="210.1" stroke="#8f8a8e" stroke-width="1.1" stroke-linecap="round"/>
<line x1="76.6" y1="225.8" x2="91.1" y2="241.8" stroke="#6a6468" stroke-width="2.1" stroke-linecap="round"/><line x1="76.6" y1="225.8" x2="91.1" y2="241.8" stroke="#f7dbe4" stroke-width="1.2" stroke-linecap="round"/>
<line x1="101.6" y1="223.7" x2="116.4" y2="239.1" stroke="#6a6468" stroke-width="2.2" stroke-linecap="round"/><line x1="101.6" y1="223.7" x2="116.4" y2="239.1" stroke="#f7dbe4" stroke-width="1.3" stroke-linecap="round"/>
<line x1="101.6" y1="223.7" x2="115.5" y2="210.1" stroke="#6a6468" stroke-width="2.0" stroke-linecap="round"/><line x1="101.6" y1="223.7" x2="115.5" y2="210.1" stroke="#8f8a8e" stroke-width="1.1" stroke-linecap="round"/>
<line x1="123.6" y1="225.8" x2="139.3" y2="241.8" stroke="#6a6468" stroke-width="2.1" stroke-linecap="round"/><line x1="123.6" y1="225.8" x2="139.3" y2="241.8" stroke="#f7dbe4" stroke-width="1.2" stroke-linecap="round"/>
<line x1="123.6" y1="225.8" x2="138.3" y2="212.0" stroke="#6a6468" stroke-width="1.9" stroke-linecap="round"/><line x1="123.6" y1="225.8" x2="138.3" y2="212.0" stroke="#8f8a8e" stroke-width="1.0" stroke-linecap="round"/>
<line x1="147.5" y1="223.7" x2="163.4" y2="239.1" stroke="#6a6468" stroke-width="2.2" stroke-linecap="round"/><line x1="147.5" y1="223.7" x2="163.4" y2="239.1" stroke="#f7dbe4" stroke-width="1.3" stroke-linecap="round"/>
<line x1="147.5" y1="223.7" x2="162.4" y2="210.1" stroke="#6a6468" stroke-width="2.0" stroke-linecap="round"/><line x1="147.5" y1="223.7" x2="162.4" y2="210.1" stroke="#8f8a8e" stroke-width="1.1" stroke-linecap="round"/>
<line x1="170.5" y1="225.8" x2="187.4" y2="241.8" stroke="#6a6468" stroke-width="2.1" stroke-linecap="round"/><line x1="170.5" y1="225.8" x2="187.4" y2="241.8" stroke="#f7dbe4" stroke-width="1.2" stroke-linecap="round"/>
<line x1="170.5" y1="225.8" x2="186.4" y2="212.0" stroke="#6a6468" stroke-width="1.9" stroke-linecap="round"/><line x1="170.5" y1="225.8" x2="186.4" y2="212.0" stroke="#8f8a8e" stroke-width="1.0" stroke-linecap="round"/>
<line x1="193.3" y1="223.7" x2="210.3" y2="239.1" stroke="#6a6468" stroke-width="2.2" stroke-linecap="round"/><line x1="193.3" y1="223.7" x2="210.3" y2="239.1" stroke="#f7dbe4" stroke-width="1.3" stroke-linecap="round"/>
<line x1="193.3" y1="223.7" x2="209.4" y2="210.1" stroke="#6a6468" stroke-width="2.0" stroke-linecap="round"/><line x1="193.3" y1="223.7" x2="209.4" y2="210.1" stroke="#8f8a8e" stroke-width="1.1" stroke-linecap="round"/>
<line x1="217.5" y1="225.8" x2="235.6" y2="241.8" stroke="#6a6468" stroke-width="2.1" stroke-linecap="round"/><line x1="217.5" y1="225.8" x2="235.6" y2="241.8" stroke="#f7dbe4" stroke-width="1.2" stroke-linecap="round"/>
<line x1="217.5" y1="225.8" x2="234.6" y2="212.0" stroke="#6a6468" stroke-width="1.9" stroke-linecap="round"/><line x1="217.5" y1="225.8" x2="234.6" y2="212.0" stroke="#8f8a8e" stroke-width="1.0" stroke-linecap="round"/>
<line x1="239.1" y1="223.7" x2="257.3" y2="239.1" stroke="#6a6468" stroke-width="2.2" stroke-linecap="round"/><line x1="239.1" y1="223.7" x2="257.3" y2="239.1" stroke="#f7dbe4" stroke-width="1.3" stroke-linecap="round"/>
<line x1="239.1" y1="223.7" x2="256.3" y2="210.1" stroke="#6a6468" stroke-width="2.0" stroke-linecap="round"/><line x1="239.1" y1="223.7" x2="256.3" y2="210.1" stroke="#8f8a8e" stroke-width="1.1" stroke-linecap="round"/>
<line x1="264.4" y1="225.8" x2="283.7" y2="241.8" stroke="#6a6468" stroke-width="2.1" stroke-linecap="round"/><line x1="264.4" y1="225.8" x2="283.7" y2="241.8" stroke="#f7dbe4" stroke-width="1.2" stroke-linecap="round"/>
<line x1="264.4" y1="225.8" x2="282.7" y2="212.0" stroke="#6a6468" stroke-width="1.9" stroke-linecap="round"/><line x1="264.4" y1="225.8" x2="282.7" y2="212.0" stroke="#8f8a8e" stroke-width="1.0" stroke-linecap="round"/>
<line x1="55.8" y1="223.7" x2="43.0" y2="241.8" stroke="#6a6468" stroke-width="2.5" stroke-linecap="round"/><line x1="55.8" y1="223.7" x2="43.0" y2="241.8" stroke="#f6d3df" stroke-width="1.6" stroke-linecap="round"/>
<line x1="76.6" y1="225.8" x2="69.5" y2="239.1" stroke="#6a6468" stroke-width="2.4" stroke-linecap="round"/><line x1="76.6" y1="225.8" x2="69.5" y2="239.1" stroke="#f6d3df" stroke-width="1.5" stroke-linecap="round"/>
<line x1="101.6" y1="223.7" x2="91.1" y2="241.8" stroke="#6a6468" stroke-width="2.5" stroke-linecap="round"/><line x1="101.6" y1="223.7" x2="91.1" y2="241.8" stroke="#f6d3df" stroke-width="1.6" stroke-linecap="round"/>
<line x1="123.6" y1="225.8" x2="116.4" y2="239.1" stroke="#6a6468" stroke-width="2.4" stroke-linecap="round"/><line x1="123.6" y1="225.8" x2="116.4" y2="239.1" stroke="#f6d3df" stroke-width="1.5" stroke-linecap="round"/>
<line x1="147.5" y1="223.7" x2="139.3" y2="241.8" stroke="#6a6468" stroke-width="2.5" stroke-linecap="round"/><line x1="147.5" y1="223.7" x2="139.3" y2="241.8" stroke="#f6d3df" stroke-width="1.6" stroke-linecap="round"/>
<line x1="170.5" y1="225.8" x2="163.4" y2="239.1" stroke="#6a6468" stroke-width="2.4" stroke-linecap="round"/><line x1="170.5" y1="225.8" x2="163.4" y2="239.1" stroke="#f6d3df" stroke-width="1.5" stroke-linecap="round"/>
<line x1="193.3" y1="223.7" x2="187.4" y2="241.8" stroke="#6a6468" stroke-width="2.5" stroke-linecap="round"/><line x1="193.3" y1="223.7" x2="187.4" y2="241.8" stroke="#f6d3df" stroke-width="1.6" stroke-linecap="round"/>
<line x1="217.5" y1="225.8" x2="210.3" y2="239.1" stroke="#6a6468" stroke-width="2.4" stroke-linecap="round"/><line x1="217.5" y1="225.8" x2="210.3" y2="239.1" stroke="#f6d3df" stroke-width="1.5" stroke-linecap="round"/>
<line x1="239.1" y1="223.7" x2="235.6" y2="241.8" stroke="#6a6468" stroke-width="2.5" stroke-linecap="round"/><line x1="239.1" y1="223.7" x2="235.6" y2="241.8" stroke="#f6d3df" stroke-width="1.6" stroke-linecap="round"/>
<line x1="264.4" y1="225.8" x2="257.3" y2="239.1" stroke="#6a6468" stroke-width="2.4" stroke-linecap="round"/><line x1="264.4" y1="225.8" x2="257.3" y2="239.1" stroke="#f6d3df" stroke-width="1.5" stroke-linecap="round"/>
<line x1="55.8" y1="223.7" x2="42.0" y2="212.0" stroke="#6a6468" stroke-width="2.8" stroke-linecap="round"/><line x1="55.8" y1="223.7" x2="42.0" y2="212.0" stroke="#d6d2d2" stroke-width="1.9" stroke-linecap="round"/>
<line x1="76.6" y1="225.8" x2="68.5" y2="210.1" stroke="#6a6468" stroke-width="2.8" stroke-linecap="round"/><line x1="76.6" y1="225.8" x2="68.5" y2="210.1" stroke="#d6d2d2" stroke-width="1.9" stroke-linecap="round"/>
<line x1="101.6" y1="223.7" x2="90.1" y2="212.0" stroke="#6a6468" stroke-width="2.8" stroke-linecap="round"/><line x1="101.6" y1="223.7" x2="90.1" y2="212.0" stroke="#d6d2d2" stroke-width="1.9" stroke-linecap="round"/>
<line x1="123.6" y1="225.8" x2="115.5" y2="210.1" stroke="#6a6468" stroke-width="2.8" stroke-linecap="round"/><line x1="123.6" y1="225.8" x2="115.5" y2="210.1" stroke="#d6d2d2" stroke-width="1.9" stroke-linecap="round"/>
<line x1="147.5" y1="223.7" x2="138.3" y2="212.0" stroke="#6a6468" stroke-width="2.8" stroke-linecap="round"/><line x1="147.5" y1="223.7" x2="138.3" y2="212.0" stroke="#d6d2d2" stroke-width="1.9" stroke-linecap="round"/>
<line x1="170.5" y1="225.8" x2="162.4" y2="210.1" stroke="#6a6468" stroke-width="2.8" stroke-linecap="round"/><line x1="170.5" y1="225.8" x2="162.4" y2="210.1" stroke="#d6d2d2" stroke-width="1.9" stroke-linecap="round"/>
<line x1="193.3" y1="223.7" x2="186.4" y2="212.0" stroke="#6a6468" stroke-width="2.8" stroke-linecap="round"/><line x1="193.3" y1="223.7" x2="186.4" y2="212.0" stroke="#d6d2d2" stroke-width="1.9" stroke-linecap="round"/>
<line x1="217.5" y1="225.8" x2="209.4" y2="210.1" stroke="#6a6468" stroke-width="2.8" stroke-linecap="round"/><line x1="217.5" y1="225.8" x2="209.4" y2="210.1" stroke="#d6d2d2" stroke-width="1.9" stroke-linecap="round"/>
<line x1="239.1" y1="223.7" x2="234.6" y2="212.0" stroke="#6a6468" stroke-width="2.8" stroke-linecap="round"/><line x1="239.1" y1="223.7" x2="234.6" y2="212.0" stroke="#d6d2d2" stroke-width="1.9" stroke-linecap="round"/>
<line x1="264.4" y1="225.8" x2="256.3" y2="210.1" stroke="#6a6468" stroke-width="2.8" stroke-linecap="round"/><line x1="264.4" y1="225.8" x2="256.3" y2="210.1" stroke="#d6d2d2" stroke-width="1.9" stroke-linecap="round"/>
<circle cx="55.8" cy="223.7" r="6.5" fill="url(#gMo)"/>
<circle cx="76.6" cy="225.8" r="6.7" fill="url(#gMo)"/>
<circle cx="101.6" cy="223.7" r="6.5" fill="url(#gMo)"/>
<circle cx="123.6" cy="225.8" r="6.7" fill="url(#gMo)"/>
<circle cx="147.5" cy="223.7" r="6.5" fill="url(#gMo)"/>
<circle cx="170.5" cy="225.8" r="6.7" fill="url(#gMo)"/>
<circle cx="193.3" cy="223.7" r="6.5" fill="url(#gMo)"/>
<circle cx="217.5" cy="225.8" r="6.7" fill="url(#gMo)"/>
<circle cx="239.1" cy="223.7" r="6.5" fill="url(#gMo)"/>
<circle cx="264.4" cy="225.8" r="6.7" fill="url(#gMo)"/>
<circle cx="68.5" cy="210.1" r="5.1" fill="url(#gS)"/>
<circle cx="115.5" cy="210.1" r="5.1" fill="url(#gS)"/>
<circle cx="138.3" cy="212.0" r="5.3" fill="url(#gS)"/>
<circle cx="162.4" cy="210.1" r="5.1" fill="url(#gS)"/>
<circle cx="186.4" cy="212.0" r="5.3" fill="url(#gS)"/>
<circle cx="209.4" cy="210.1" r="5.1" fill="url(#gS)"/>
<circle cx="234.6" cy="212.0" r="5.3" fill="url(#gS)"/>
<circle cx="256.3" cy="210.1" r="5.1" fill="url(#gS)"/>
<circle cx="282.7" cy="212.0" r="5.3" fill="url(#gS)"/>
<circle cx="43.0" cy="241.8" r="5.1" fill="url(#gS)"/>
<circle cx="69.5" cy="239.1" r="4.9" fill="url(#gS)"/>
<circle cx="91.1" cy="241.8" r="5.1" fill="url(#gS)"/>
<circle cx="116.4" cy="239.1" r="4.9" fill="url(#gS)"/>
<circle cx="139.3" cy="241.8" r="5.1" fill="url(#gS)"/>
<circle cx="163.4" cy="239.1" r="4.9" fill="url(#gS)"/>
<circle cx="187.4" cy="241.8" r="5.1" fill="url(#gS)"/>
<circle cx="210.3" cy="239.1" r="4.9" fill="url(#gS)"/>
<circle cx="235.6" cy="241.8" r="5.1" fill="url(#gS)"/>
<circle cx="257.3" cy="239.1" r="4.9" fill="url(#gS)"/>
<circle cx="283.7" cy="241.8" r="5.1" fill="url(#gS)"/>
<line x1="72.0" y1="230.5" x2="87.2" y2="247.4" stroke="#6a6468" stroke-width="2.2" stroke-linecap="round"/><line x1="72.0" y1="230.5" x2="87.2" y2="247.4" stroke="#f7dbe4" stroke-width="1.3" stroke-linecap="round"/>
<line x1="72.0" y1="230.5" x2="86.1" y2="216.1" stroke="#6a6468" stroke-width="2.8" stroke-linecap="round"/><line x1="72.0" y1="230.5" x2="86.1" y2="216.1" stroke="#8f8a8e" stroke-width="1.9" stroke-linecap="round"/>
<line x1="98.4" y1="228.1" x2="113.9" y2="244.5" stroke="#6a6468" stroke-width="2.2" stroke-linecap="round"/><line x1="98.4" y1="228.1" x2="113.9" y2="244.5" stroke="#f7dbe4" stroke-width="1.3" stroke-linecap="round"/>
<line x1="98.4" y1="228.1" x2="112.9" y2="214.0" stroke="#6a6468" stroke-width="2.9" stroke-linecap="round"/><line x1="98.4" y1="228.1" x2="112.9" y2="214.0" stroke="#8f8a8e" stroke-width="2.0" stroke-linecap="round"/>
<line x1="121.4" y1="230.5" x2="137.9" y2="247.4" stroke="#6a6468" stroke-width="2.2" stroke-linecap="round"/><line x1="121.4" y1="230.5" x2="137.9" y2="247.4" stroke="#f7dbe4" stroke-width="1.3" stroke-linecap="round"/>
<line x1="121.4" y1="230.5" x2="136.9" y2="216.1" stroke="#6a6468" stroke-width="2.8" stroke-linecap="round"/><line x1="121.4" y1="230.5" x2="136.9" y2="216.1" stroke="#8f8a8e" stroke-width="1.9" stroke-linecap="round"/>
<line x1="146.6" y1="228.1" x2="163.3" y2="244.5" stroke="#6a6468" stroke-width="2.2" stroke-linecap="round"/><line x1="146.6" y1="228.1" x2="163.3" y2="244.5" stroke="#f7dbe4" stroke-width="1.3" stroke-linecap="round"/>
<line x1="146.6" y1="228.1" x2="162.3" y2="214.0" stroke="#6a6468" stroke-width="2.9" stroke-linecap="round"/><line x1="146.6" y1="228.1" x2="162.3" y2="214.0" stroke="#8f8a8e" stroke-width="2.0" stroke-linecap="round"/>
<line x1="170.8" y1="230.5" x2="188.6" y2="247.4" stroke="#6a6468" stroke-width="2.2" stroke-linecap="round"/><line x1="170.8" y1="230.5" x2="188.6" y2="247.4" stroke="#f7dbe4" stroke-width="1.3" stroke-linecap="round"/>
<line x1="170.8" y1="230.5" x2="187.6" y2="216.1" stroke="#6a6468" stroke-width="2.8" stroke-linecap="round"/><line x1="170.8" y1="230.5" x2="187.6" y2="216.1" stroke="#8f8a8e" stroke-width="1.9" stroke-linecap="round"/>
<line x1="194.7" y1="228.1" x2="212.7" y2="244.5" stroke="#6a6468" stroke-width="2.2" stroke-linecap="round"/><line x1="194.7" y1="228.1" x2="212.7" y2="244.5" stroke="#f7dbe4" stroke-width="1.3" stroke-linecap="round"/>
<line x1="194.7" y1="228.1" x2="211.7" y2="214.0" stroke="#6a6468" stroke-width="2.9" stroke-linecap="round"/><line x1="194.7" y1="228.1" x2="211.7" y2="214.0" stroke="#8f8a8e" stroke-width="2.0" stroke-linecap="round"/>
<line x1="220.2" y1="230.5" x2="239.3" y2="247.4" stroke="#6a6468" stroke-width="2.2" stroke-linecap="round"/><line x1="220.2" y1="230.5" x2="239.3" y2="247.4" stroke="#f7dbe4" stroke-width="1.3" stroke-linecap="round"/>
<line x1="220.2" y1="230.5" x2="238.3" y2="216.1" stroke="#6a6468" stroke-width="2.8" stroke-linecap="round"/><line x1="220.2" y1="230.5" x2="238.3" y2="216.1" stroke="#8f8a8e" stroke-width="1.9" stroke-linecap="round"/>
<line x1="242.9" y1="228.1" x2="262.1" y2="244.5" stroke="#6a6468" stroke-width="2.2" stroke-linecap="round"/><line x1="242.9" y1="228.1" x2="262.1" y2="244.5" stroke="#f7dbe4" stroke-width="1.3" stroke-linecap="round"/>
<line x1="242.9" y1="228.1" x2="261.1" y2="214.0" stroke="#6a6468" stroke-width="2.9" stroke-linecap="round"/><line x1="242.9" y1="228.1" x2="261.1" y2="214.0" stroke="#8f8a8e" stroke-width="2.0" stroke-linecap="round"/>
<line x1="269.6" y1="230.5" x2="290.1" y2="247.4" stroke="#6a6468" stroke-width="2.2" stroke-linecap="round"/><line x1="269.6" y1="230.5" x2="290.1" y2="247.4" stroke="#f7dbe4" stroke-width="1.3" stroke-linecap="round"/>
<line x1="269.6" y1="230.5" x2="289.0" y2="216.1" stroke="#6a6468" stroke-width="2.8" stroke-linecap="round"/><line x1="269.6" y1="230.5" x2="289.0" y2="216.1" stroke="#8f8a8e" stroke-width="1.9" stroke-linecap="round"/>
<line x1="72.0" y1="230.5" x2="64.5" y2="244.5" stroke="#6a6468" stroke-width="2.5" stroke-linecap="round"/><line x1="72.0" y1="230.5" x2="64.5" y2="244.5" stroke="#f6d3df" stroke-width="1.6" stroke-linecap="round"/>
<line x1="98.4" y1="228.1" x2="87.2" y2="247.4" stroke="#6a6468" stroke-width="2.5" stroke-linecap="round"/><line x1="98.4" y1="228.1" x2="87.2" y2="247.4" stroke="#f6d3df" stroke-width="1.6" stroke-linecap="round"/>
<line x1="121.4" y1="230.5" x2="113.9" y2="244.5" stroke="#6a6468" stroke-width="2.5" stroke-linecap="round"/><line x1="121.4" y1="230.5" x2="113.9" y2="244.5" stroke="#f6d3df" stroke-width="1.6" stroke-linecap="round"/>
<line x1="146.6" y1="228.1" x2="137.9" y2="247.4" stroke="#6a6468" stroke-width="2.5" stroke-linecap="round"/><line x1="146.6" y1="228.1" x2="137.9" y2="247.4" stroke="#f6d3df" stroke-width="1.6" stroke-linecap="round"/>
<line x1="170.8" y1="230.5" x2="163.3" y2="244.5" stroke="#6a6468" stroke-width="2.5" stroke-linecap="round"/><line x1="170.8" y1="230.5" x2="163.3" y2="244.5" stroke="#f6d3df" stroke-width="1.6" stroke-linecap="round"/>
<line x1="194.7" y1="228.1" x2="188.6" y2="247.4" stroke="#6a6468" stroke-width="2.5" stroke-linecap="round"/><line x1="194.7" y1="228.1" x2="188.6" y2="247.4" stroke="#f6d3df" stroke-width="1.6" stroke-linecap="round"/>
<line x1="220.2" y1="230.5" x2="212.7" y2="244.5" stroke="#6a6468" stroke-width="2.5" stroke-linecap="round"/><line x1="220.2" y1="230.5" x2="212.7" y2="244.5" stroke="#f6d3df" stroke-width="1.6" stroke-linecap="round"/>
<line x1="242.9" y1="228.1" x2="239.3" y2="247.4" stroke="#6a6468" stroke-width="2.5" stroke-linecap="round"/><line x1="242.9" y1="228.1" x2="239.3" y2="247.4" stroke="#f6d3df" stroke-width="1.6" stroke-linecap="round"/>
<line x1="269.6" y1="230.5" x2="262.1" y2="244.5" stroke="#6a6468" stroke-width="2.5" stroke-linecap="round"/><line x1="269.6" y1="230.5" x2="262.1" y2="244.5" stroke="#f6d3df" stroke-width="1.6" stroke-linecap="round"/>
<line x1="72.0" y1="230.5" x2="63.5" y2="214.0" stroke="#6a6468" stroke-width="2.9" stroke-linecap="round"/><line x1="72.0" y1="230.5" x2="63.5" y2="214.0" stroke="#d6d2d2" stroke-width="2.0" stroke-linecap="round"/>
<line x1="98.4" y1="228.1" x2="86.1" y2="216.1" stroke="#6a6468" stroke-width="3.0" stroke-linecap="round"/><line x1="98.4" y1="228.1" x2="86.1" y2="216.1" stroke="#d6d2d2" stroke-width="2.1" stroke-linecap="round"/>
<line x1="121.4" y1="230.5" x2="112.9" y2="214.0" stroke="#6a6468" stroke-width="2.9" stroke-linecap="round"/><line x1="121.4" y1="230.5" x2="112.9" y2="214.0" stroke="#d6d2d2" stroke-width="2.0" stroke-linecap="round"/>
<line x1="146.6" y1="228.1" x2="136.9" y2="216.1" stroke="#6a6468" stroke-width="3.0" stroke-linecap="round"/><line x1="146.6" y1="228.1" x2="136.9" y2="216.1" stroke="#d6d2d2" stroke-width="2.1" stroke-linecap="round"/>
<line x1="170.8" y1="230.5" x2="162.3" y2="214.0" stroke="#6a6468" stroke-width="2.9" stroke-linecap="round"/><line x1="170.8" y1="230.5" x2="162.3" y2="214.0" stroke="#d6d2d2" stroke-width="2.0" stroke-linecap="round"/>
<line x1="194.7" y1="228.1" x2="187.6" y2="216.1" stroke="#6a6468" stroke-width="3.0" stroke-linecap="round"/><line x1="194.7" y1="228.1" x2="187.6" y2="216.1" stroke="#d6d2d2" stroke-width="2.1" stroke-linecap="round"/>
<line x1="220.2" y1="230.5" x2="211.7" y2="214.0" stroke="#6a6468" stroke-width="2.9" stroke-linecap="round"/><line x1="220.2" y1="230.5" x2="211.7" y2="214.0" stroke="#d6d2d2" stroke-width="2.0" stroke-linecap="round"/>
<line x1="242.9" y1="228.1" x2="238.3" y2="216.1" stroke="#6a6468" stroke-width="3.0" stroke-linecap="round"/><line x1="242.9" y1="228.1" x2="238.3" y2="216.1" stroke="#d6d2d2" stroke-width="2.1" stroke-linecap="round"/>
<line x1="269.6" y1="230.5" x2="261.1" y2="214.0" stroke="#6a6468" stroke-width="2.9" stroke-linecap="round"/><line x1="269.6" y1="230.5" x2="261.1" y2="214.0" stroke="#d6d2d2" stroke-width="2.0" stroke-linecap="round"/>
<circle cx="72.0" cy="230.5" r="7.0" fill="url(#gMo)"/>
<circle cx="98.4" cy="228.1" r="6.8" fill="url(#gMo)"/>
<circle cx="121.4" cy="230.5" r="7.0" fill="url(#gMo)"/>
<circle cx="146.6" cy="228.1" r="6.8" fill="url(#gMo)"/>
<circle cx="170.8" cy="230.5" r="7.0" fill="url(#gMo)"/>
<circle cx="194.7" cy="228.1" r="6.8" fill="url(#gMo)"/>
<circle cx="220.2" cy="230.5" r="7.0" fill="url(#gMo)"/>
<circle cx="242.9" cy="228.1" r="6.8" fill="url(#gMo)"/>
<circle cx="269.6" cy="230.5" r="7.0" fill="url(#gMo)"/>
<circle cx="63.5" cy="214.0" r="5.4" fill="url(#gS)"/>
<circle cx="86.1" cy="216.1" r="5.5" fill="url(#gS)"/>
<circle cx="112.9" cy="214.0" r="5.4" fill="url(#gS)"/>
<circle cx="136.9" cy="216.1" r="5.5" fill="url(#gS)"/>
<circle cx="162.3" cy="214.0" r="5.4" fill="url(#gS)"/>
<circle cx="187.6" cy="216.1" r="5.5" fill="url(#gS)"/>
<circle cx="211.7" cy="214.0" r="5.4" fill="url(#gS)"/>
<circle cx="238.3" cy="216.1" r="5.5" fill="url(#gS)"/>
<circle cx="261.1" cy="214.0" r="5.4" fill="url(#gS)"/>
<circle cx="289.0" cy="216.1" r="5.5" fill="url(#gS)"/>
<circle cx="64.5" cy="244.5" r="5.2" fill="url(#gS)"/>
<circle cx="87.2" cy="247.4" r="5.3" fill="url(#gS)"/>
<circle cx="113.9" cy="244.5" r="5.2" fill="url(#gS)"/>
<circle cx="137.9" cy="247.4" r="5.3" fill="url(#gS)"/>
<circle cx="163.3" cy="244.5" r="5.2" fill="url(#gS)"/>
<circle cx="188.6" cy="247.4" r="5.3" fill="url(#gS)"/>
<circle cx="212.7" cy="244.5" r="5.2" fill="url(#gS)"/>
<circle cx="239.3" cy="247.4" r="5.3" fill="url(#gS)"/>
<circle cx="262.1" cy="244.5" r="5.2" fill="url(#gS)"/>
<circle cx="290.1" cy="247.4" r="5.3" fill="url(#gS)"/>
<line x1="35.0" y1="233.0" x2="18.0" y2="221.0" stroke="#6a6468" stroke-width="3.1" stroke-linecap="round"/><line x1="35.0" y1="233.0" x2="18.0" y2="221.0" stroke="#d8d8d8" stroke-width="2.2" stroke-linecap="round"/>
<line x1="35.0" y1="233.0" x2="36.0" y2="217.5" stroke="#6a6468" stroke-width="3.1" stroke-linecap="round"/><line x1="35.0" y1="233.0" x2="36.0" y2="217.5" stroke="#d8d8d8" stroke-width="2.2" stroke-linecap="round"/>
<line x1="35.0" y1="233.0" x2="20.0" y2="251.0" stroke="#6a6468" stroke-width="3.1" stroke-linecap="round"/><line x1="35.0" y1="233.0" x2="20.0" y2="251.0" stroke="#d8d8d8" stroke-width="2.2" stroke-linecap="round"/>
<line x1="35.0" y1="233.0" x2="37.0" y2="245.0" stroke="#6a6468" stroke-width="3.1" stroke-linecap="round"/><line x1="35.0" y1="233.0" x2="37.0" y2="245.0" stroke="#d8d8d8" stroke-width="2.2" stroke-linecap="round"/>
<circle cx="36.8" cy="245.2" r="4.6" fill="url(#gO)"/>
<circle cx="17.8" cy="221.0" r="5.2" fill="url(#gO)"/>
<circle cx="35.8" cy="217.3" r="4.8" fill="url(#gO)"/>
<circle cx="20.0" cy="251.0" r="5.2" fill="url(#gO)"/>
<circle cx="35.0" cy="233.0" r="6.6" fill="url(#gT)"/>
<circle cx="186.6" cy="200.4" r="4.6" fill="url(#gR)"/>
<circle cx="192.3" cy="195.0" r="5.1" fill="url(#gR)"/>
<circle cx="142.6" cy="148.0" r="4.3" fill="url(#gC)"/>
<circle cx="149.4" cy="144.0" r="4.3" fill="url(#gC)"/>
<circle cx="144.4" cy="155.2" r="4.3" fill="url(#gC)"/>
<circle cx="151.3" cy="151.8" r="4.3" fill="url(#gC)"/>
<polygon points="266.5,162.5 274.3,146.5 281,151.5" fill="#b0a84a" opacity="0.6"/>
<circle cx="277.8" cy="148.8" r="4.6" fill="url(#gS)"/>
<polygon points="56.7,58.0 63.3,76.0 71.7,70.0" fill="#4a8cd4" opacity="0.85"/>
<circle cx="67.5" cy="73.0" r="5.6" fill="url(#gB)"/>
<polygon points="33.3,72.5 40.0,90.6 48.4,84.4" fill="#4a8cd4" opacity="0.85"/>
<circle cx="44.2" cy="87.5" r="5.6" fill="url(#gB)"/>
<polygon points="54.2,79.2 59.9,97.1 68.5,91.3" fill="#4a8cd4" opacity="0.85"/>
<circle cx="64.2" cy="94.2" r="5.6" fill="url(#gB)"/>
<polygon points="74.2,85.0 80.4,103.0 89.0,97.0" fill="#4a8cd4" opacity="0.85"/>
<circle cx="84.7" cy="100.0" r="5.6" fill="url(#gB)"/>
<polygon points="48.3,99.2 54.1,116.3 62.5,110.3" fill="#4a8cd4" opacity="0.85"/>
<circle cx="58.3" cy="113.3" r="5.6" fill="url(#gB)"/>
<polygon points="71.7,106.7 78.3,124.7 86.7,118.7" fill="#4a8cd4" opacity="0.85"/>
<circle cx="82.5" cy="121.7" r="5.6" fill="url(#gB)"/>
</g>
<text x="15.2" y="44.8" font-size="21" fill="#ffffff" text-anchor="start" >(a)</text>
<text x="90" y="78.3" font-size="20" fill="#ffffff" text-anchor="start" >e-beam</text>
<text x="139" y="133.6" font-size="20" fill="#ffffff" text-anchor="start" >C</text>
<text x="18" y="203.7" font-size="20" fill="#ffffff" text-anchor="start" >R</text>
<text x="87.5" y="190" font-size="20" fill="#ffffff">V<tspan font-size="14" dy="5">s</tspan></text>
<text x="181" y="181.2" font-size="20" fill="#ffffff">O<tspan font-size="14" dy="5.5">2</tspan></text>
<text x="267.5" y="134.8" font-size="20" fill="#ffffff">A<tspan font-size="14" dy="4.5">sput</tspan></text>
<text x="118.4" y="270.6" font-size="16" fill="#3a1a60" text-anchor="start" >Silicon oxide</text>
<text x="133" y="294.8" font-size="17.4" fill="#252a55" text-anchor="start" >Silicon</text>
<g id="panelB" clip-path="url(#clipB)">
<rect x="14" y="334" width="299" height="208" fill="url(#gSem)"/>
<g filter="url(#bl6)">
<rect x="0" y="320" width="60" height="50" fill="#8a8a8a" opacity="0.8"/>
<rect x="60" y="320" width="160" height="30" fill="#b0b0b0" opacity="0.6"/>
<rect x="100" y="382" width="220" height="14" fill="#b2b2b2" opacity="0.55"/>
<ellipse cx="64" cy="413" rx="21" ry="16" fill="#2c2c2c" opacity="0.95"/>
<ellipse cx="42" cy="418" rx="30" ry="11" fill="#6c6c6c" opacity="0.6"/>
<ellipse cx="168" cy="393" rx="10" ry="5" fill="#4a4a4a" opacity="0.7"/>
<ellipse cx="235" cy="400" rx="50" ry="6" fill="#aaa" opacity="0.5"/>
<rect x="215" y="470" width="120" height="90" fill="#dadada" opacity="0.8"/>
<rect x="0" y="440" width="80" height="110" fill="#c8c8c8" opacity="0.7"/>
</g>
<g filter="url(#bl3)">
<path d="M84,438 L94,454 L109,472 L126,484 L156,506 L187,527 L198,546" fill="none" stroke="#e0e0e0" stroke-width="12" opacity="0.9"/>
</g>
<g filter="url(#bl1)">
<polygon points="211,450 238,438.5 302,419.5 303,421.5 246,441 232,462 215,490 189,524 172,512" fill="#b6b6b6"/>
<polygon points="220,452 240,441 246,441 232,462 215,490 190,523 186,520 205,490" fill="#a4a4a4"/>
<polygon points="127,482 96,455 165,431 211,451 222,452 205,490 188,523 160,505" fill="#8e8e8e"/>
<polygon points="150,486 200,464 214,462 196,505 186,520 172,512" fill="#9d9d9d"/>
<polygon points="128,481 165,466 211,451 222,452 214,462 170,472 150,486" fill="#7c7c7c"/>
<polygon points="25,334 64.5,334 88.6,354.5 118.5,369.5 144.6,388 163.3,394 174,400 182,405 205.5,415.8 236,431 237,434 211,451.5 165,466 128,481.5 110.4,471 96,454.6 83,433 77.4,419.8 66.2,393.7 51.3,377 42,362" fill="#686868"/>
<polygon points="25,334 64.5,334 88.6,354.5 118.5,369.5 124,373 124,366 77,366 77,400 66.2,393.7 51.3,377 42,362" fill="#767676"/>
<polygon points="182,405 205.5,415.8 236,431 237,434 211,451.5 165,466 140,470 164.7,431" fill="#727272"/>
<polygon points="25,334 36,334 52,360 62,375 77,392 77.4,419.8 66.2,393.7 51.3,377 42,362" fill="#868686"/>
<rect x="77.5" y="366" width="45" height="31.5" fill="#626262"/>
<rect x="80" y="399" width="44" height="36" fill="#5b5b5b"/>
<rect x="126" y="393" width="42" height="38" fill="#5e5e5e"/>
<polygon points="160,396 174,400 180,406 166,430 160,430" fill="#4c4c4c"/>
<polygon points="96,436 160,436 150,470 128,481 110,470" fill="#606060"/>
<polygon points="174,430 221,430 221,446 211,451 205,454 174,454" fill="#5f5f5f"/>
<path d="M182,405 L164.7,431 L128.8,480.5" fill="none" stroke="#cfcfcf" stroke-width="1.7"/>
<path d="M120,370 L152,392 L172,396 L182,405" fill="none" stroke="#9a9a9a" stroke-width="1"/>
<path d="M211,451.5 L238.5,439 L302,420" fill="none" stroke="#cccccc" stroke-width="1.6"/>
<path d="M302,420 L310,414" fill="none" stroke="#888" stroke-width="1.2"/>
<path d="M299,422 L294,437 L291,448" fill="none" stroke="#999" stroke-width="1"/>
<path d="M25,334 L42,362 L51.3,377 L66.2,393.7" fill="none" stroke="#a8a8a8" stroke-width="1.2"/>
<circle cx="143.5" cy="484.5" r="1.2" fill="#fff"/>
<circle cx="236" cy="474" r="1.8" fill="none" stroke="#777" stroke-width="0.8"/>
</g>
<rect x="215" y="334" width="98" height="83.8" fill="#ea82ec"/>
<g filter="url(#bl05)">
<polygon points="222,344.2 233.7,345.8 267,363 305,376.7 298.6,383.8 275,395 265.4,385.4 254.3,371 241.6,357" fill="#d673ea"/>
<polygon points="222,344.2 233.7,345.8 258,358.5 262,372 254.3,371 241.6,357" fill="#c67be6"/>
<polygon points="267,363 305,376.7 298.6,383.8 286,380" fill="#d06ce8"/>
<path d="M267,363 L268,380 L275,395 M286,380 L279,392" fill="none" stroke="#dd86ee" stroke-width="0.8"/>
<path d="M278,398 Q296,389 312.5,378.3 L312.5,412.3 Q300,410 293.9,406 Q285,402 278,398 Z" fill="#ffffff"/>
<path d="M293.9,404.4 L303.4,388.5 L312.5,381 L312.5,412.3 Q300,410 293.9,404.4 Z" fill="#efe0f8"/>
<path d="M274.9,395.7 Q290,389 298.6,383.8 L312,377.3" fill="none" stroke="#3b66dc" stroke-width="1.6"/>
<path d="M276.5,397.2 Q291,390.5 300,385 L312,378.8" fill="none" stroke="#8fe0ff" stroke-width="1.1"/>
</g>
</g>
<rect x="14.5" y="334.5" width="298.5" height="207" fill="none" stroke="#222" stroke-width="1.3"/>
<line x1="112" y1="433.6" x2="124.4" y2="433.6" stroke="#f0e81c" stroke-width="2.1"/>
<line x1="129.2" y1="433.6" x2="142" y2="433.6" stroke="#f0e81c" stroke-width="2.1"/>
<line x1="147.6" y1="433.6" x2="154.4" y2="433.6" stroke="#f0e81c" stroke-width="2.1"/>
<line x1="107" y1="465.6" x2="120" y2="465.6" stroke="#f0e81c" stroke-width="2.1"/>
<line x1="124.8" y1="465.6" x2="138.4" y2="465.6" stroke="#f0e81c" stroke-width="2.1"/>
<line x1="142.8" y1="465.6" x2="154.4" y2="465.6" stroke="#f0e81c" stroke-width="2.1"/>
<line x1="108" y1="435" x2="108" y2="448.2" stroke="#f0e81c" stroke-width="2.1"/>
<line x1="108" y1="452.6" x2="108" y2="466.6" stroke="#f0e81c" stroke-width="2.1"/>
<line x1="153.4" y1="432.6" x2="153.4" y2="441" stroke="#f0e81c" stroke-width="2.1"/>
<line x1="153.4" y1="445" x2="153.4" y2="458.2" stroke="#f0e81c" stroke-width="2.1"/>
<line x1="153.4" y1="462.6" x2="153.4" y2="466.6" stroke="#f0e81c" stroke-width="2.1"/>
<rect x="23.6" y="526.6" width="65.5" height="2.8" fill="#0a0a0a"/>
<rect x="217" y="413.2" width="19.6" height="2.2" fill="#0a0a0a"/>
<text x="18.6" y="356.5" font-size="21" fill="#0a0a0a" text-anchor="start" >(b)</text>
<text x="54.2" y="362" font-size="20" fill="#0a0a0a">ML MoS<tspan font-size="14" dy="5">2</tspan></text>
<text x="38.6" y="470" font-size="20" fill="#0a0a0a">SiO<tspan font-size="14" dy="5.5">2</tspan></text>
<text x="28.2" y="519.8" font-size="20" fill="#0a0a0a" text-anchor="start" >10μm</text>
<text x="215.5" y="407.3" font-size="20" fill="#0a0a0a" text-anchor="start" >10 μm</text>
<rect x="389.5" y="19" width="287.5" height="44" fill="#f8cbad"/>
<rect x="717.3" y="17.5" width="287" height="45.5" fill="#f8cbad"/>
<text x="533.2" y="48.8" font-size="22.2" fill="#000" text-anchor="middle" >Raman</text>
<text x="860.6" y="46.3" font-size="22.2" fill="#000" text-anchor="middle" >Photoluminescence</text>
<g clip-path="url(#clipC)">
<circle cx="390.0" cy="260.7" r="3.2" fill="#8a8a8a" stroke="#3a3a3a" stroke-width="0.9"/>
<circle cx="392.2" cy="260.4" r="3.2" fill="#8a8a8a" stroke="#3a3a3a" stroke-width="0.9"/>
<circle cx="394.5" cy="260.8" r="3.2" fill="#8a8a8a" stroke="#3a3a3a" stroke-width="0.9"/>
<circle cx="396.8" cy="260.0" r="3.2" fill="#8a8a8a" stroke="#3a3a3a" stroke-width="0.9"/>
<circle cx="399.0" cy="260.3" r="3.2" fill="#8a8a8a" stroke="#3a3a3a" stroke-width="0.9"/>
<circle cx="401.2" cy="259.9" r="3.2" fill="#8a8a8a" stroke="#3a3a3a" stroke-width="0.9"/>
<circle cx="403.5" cy="259.4" r="3.2" fill="#8a8a8a" stroke="#3a3a3a" stroke-width="0.9"/>
<circle cx="405.8" cy="259.7" r="3.2" fill="#8a8a8a" stroke="#3a3a3a" stroke-width="0.9"/>
<circle cx="408.0" cy="259.0" r="3.2" fill="#8a8a8a" stroke="#3a3a3a" stroke-width="0.9"/>
<circle cx="410.2" cy="259.1" r="3.2" fill="#8a8a8a" stroke="#3a3a3a" stroke-width="0.9"/>
<circle cx="412.5" cy="258.5" r="3.2" fill="#8a8a8a" stroke="#3a3a3a" stroke-width="0.9"/>
<circle cx="414.8" cy="258.2" r="3.2" fill="#8a8a8a" stroke="#3a3a3a" stroke-width="0.9"/>
<circle cx="417.0" cy="258.3" r="3.2" fill="#8a8a8a" stroke="#3a3a3a" stroke-width="0.9"/>
<circle cx="419.2" cy="258.4" r="3.2" fill="#8a8a8a" stroke="#3a3a3a" stroke-width="0.9"/>
<circle cx="421.5" cy="257.4" r="3.2" fill="#8a8a8a" stroke="#3a3a3a" stroke-width="0.9"/>
<circle cx="423.8" cy="257.2" r="3.2" fill="#8a8a8a" stroke="#3a3a3a" stroke-width="0.9"/>
<circle cx="426.0" cy="257.3" r="3.2" fill="#8a8a8a" stroke="#3a3a3a" stroke-width="0.9"/>
<circle cx="428.2" cy="257.3" r="3.2" fill="#8a8a8a" stroke="#3a3a3a" stroke-width="0.9"/>
<circle cx="430.5" cy="256.6" r="3.2" fill="#8a8a8a" stroke="#3a3a3a" stroke-width="0.9"/>
<circle cx="432.8" cy="256.1" r="3.2" fill="#8a8a8a" stroke="#3a3a3a" stroke-width="0.9"/>
<circle cx="435.0" cy="256.3" r="3.2" fill="#8a8a8a" stroke="#3a3a3a" stroke-width="0.9"/>
<circle cx="437.2" cy="255.0" r="3.2" fill="#8a8a8a" stroke="#3a3a3a" stroke-width="0.9"/>
<circle cx="439.5" cy="255.5" r="3.2" fill="#8a8a8a" stroke="#3a3a3a" stroke-width="0.9"/>
<circle cx="441.8" cy="254.6" r="3.2" fill="#8a8a8a" stroke="#3a3a3a" stroke-width="0.9"/>
<circle cx="444.0" cy="254.1" r="3.2" fill="#8a8a8a" stroke="#3a3a3a" stroke-width="0.9"/>
<circle cx="446.2" cy="253.8" r="3.2" fill="#8a8a8a" stroke="#3a3a3a" stroke-width="0.9"/>
<circle cx="448.5" cy="253.7" r="3.2" fill="#8a8a8a" stroke="#3a3a3a" stroke-width="0.9"/>
<circle cx="450.8" cy="253.9" r="3.2" fill="#8a8a8a" stroke="#3a3a3a" stroke-width="0.9"/>
<circle cx="453.0" cy="252.9" r="3.2" fill="#8a8a8a" stroke="#3a3a3a" stroke-width="0.9"/>
<circle cx="455.2" cy="253.0" r="3.2" fill="#8a8a8a" stroke="#3a3a3a" stroke-width="0.9"/>
<circle cx="457.5" cy="252.8" r="3.2" fill="#8a8a8a" stroke="#3a3a3a" stroke-width="0.9"/>
<circle cx="459.8" cy="252.3" r="3.2" fill="#8a8a8a" stroke="#3a3a3a" stroke-width="0.9"/>
<circle cx="462.0" cy="252.2" r="3.2" fill="#8a8a8a" stroke="#3a3a3a" stroke-width="0.9"/>
<circle cx="464.2" cy="251.5" r="3.2" fill="#8a8a8a" stroke="#3a3a3a" stroke-width="0.9"/>
<circle cx="466.5" cy="251.2" r="3.2" fill="#8a8a8a" stroke="#3a3a3a" stroke-width="0.9"/>
<circle cx="468.8" cy="251.2" r="3.2" fill="#8a8a8a" stroke="#3a3a3a" stroke-width="0.9"/>
<circle cx="471.0" cy="251.4" r="3.2" fill="#8a8a8a" stroke="#3a3a3a" stroke-width="0.9"/>
<circle cx="473.2" cy="250.9" r="3.2" fill="#8a8a8a" stroke="#3a3a3a" stroke-width="0.9"/>
<circle cx="475.5" cy="250.6" r="3.2" fill="#8a8a8a" stroke="#3a3a3a" stroke-width="0.9"/>
<circle cx="477.8" cy="250.8" r="3.2" fill="#8a8a8a" stroke="#3a3a3a" stroke-width="0.9"/>
<circle cx="480.0" cy="250.6" r="3.2" fill="#8a8a8a" stroke="#3a3a3a" stroke-width="0.9"/>
<circle cx="482.2" cy="250.4" r="3.2" fill="#8a8a8a" stroke="#3a3a3a" stroke-width="0.9"/>
<circle cx="484.5" cy="250.8" r="3.2" fill="#8a8a8a" stroke="#3a3a3a" stroke-width="0.9"/>
<circle cx="486.8" cy="250.6" r="3.2" fill="#8a8a8a" stroke="#3a3a3a" stroke-width="0.9"/>
<circle cx="489.0" cy="249.9" r="3.2" fill="#8a8a8a" stroke="#3a3a3a" stroke-width="0.9"/>
<circle cx="491.2" cy="249.8" r="3.2" fill="#8a8a8a" stroke="#3a3a3a" stroke-width="0.9"/>
<circle cx="493.5" cy="249.0" r="3.2" fill="#8a8a8a" stroke="#3a3a3a" stroke-width="0.9"/>
<circle cx="495.8" cy="248.2" r="3.2" fill="#8a8a8a" stroke="#3a3a3a" stroke-width="0.9"/>
<circle cx="498.0" cy="246.3" r="3.2" fill="#8a8a8a" stroke="#3a3a3a" stroke-width="0.9"/>
<circle cx="500.2" cy="243.1" r="3.2" fill="#8a8a8a" stroke="#3a3a3a" stroke-width="0.9"/>
<circle cx="502.5" cy="239.4" r="3.2" fill="#8a8a8a" stroke="#3a3a3a" stroke-width="0.9"/>
<circle cx="504.8" cy="231.5" r="3.2" fill="#8a8a8a" stroke="#3a3a3a" stroke-width="0.9"/>
<circle cx="507.0" cy="220.2" r="3.2" fill="#8a8a8a" stroke="#3a3a3a" stroke-width="0.9"/>
<circle cx="509.2" cy="201.1" r="3.2" fill="#8a8a8a" stroke="#3a3a3a" stroke-width="0.9"/>
<circle cx="511.5" cy="174.1" r="3.2" fill="#8a8a8a" stroke="#3a3a3a" stroke-width="0.9"/>
<circle cx="513.8" cy="158.6" r="3.2" fill="#8a8a8a" stroke="#3a3a3a" stroke-width="0.9"/>
<circle cx="516.0" cy="173.1" r="3.2" fill="#8a8a8a" stroke="#3a3a3a" stroke-width="0.9"/>
<circle cx="518.2" cy="200.5" r="3.2" fill="#8a8a8a" stroke="#3a3a3a" stroke-width="0.9"/>
<circle cx="520.5" cy="220.8" r="3.2" fill="#8a8a8a" stroke="#3a3a3a" stroke-width="0.9"/>
<circle cx="522.8" cy="232.8" r="3.2" fill="#8a8a8a" stroke="#3a3a3a" stroke-width="0.9"/>
<circle cx="525.0" cy="240.6" r="3.2" fill="#8a8a8a" stroke="#3a3a3a" stroke-width="0.9"/>
<circle cx="527.2" cy="244.8" r="3.2" fill="#8a8a8a" stroke="#3a3a3a" stroke-width="0.9"/>
<circle cx="529.5" cy="248.3" r="3.2" fill="#8a8a8a" stroke="#3a3a3a" stroke-width="0.9"/>
<circle cx="531.8" cy="250.3" r="3.2" fill="#8a8a8a" stroke="#3a3a3a" stroke-width="0.9"/>
<circle cx="534.0" cy="251.8" r="3.2" fill="#8a8a8a" stroke="#3a3a3a" stroke-width="0.9"/>
<circle cx="536.2" cy="252.7" r="3.2" fill="#8a8a8a" stroke="#3a3a3a" stroke-width="0.9"/>
<circle cx="538.5" cy="253.9" r="3.2" fill="#8a8a8a" stroke="#3a3a3a" stroke-width="0.9"/>
<circle cx="540.8" cy="254.5" r="3.2" fill="#8a8a8a" stroke="#3a3a3a" stroke-width="0.9"/>
<circle cx="543.0" cy="254.4" r="3.2" fill="#8a8a8a" stroke="#3a3a3a" stroke-width="0.9"/>
<circle cx="545.2" cy="254.8" r="3.2" fill="#8a8a8a" stroke="#3a3a3a" stroke-width="0.9"/>
<circle cx="547.5" cy="254.3" r="3.2" fill="#8a8a8a" stroke="#3a3a3a" stroke-width="0.9"/>
<circle cx="549.8" cy="254.9" r="3.2" fill="#8a8a8a" stroke="#3a3a3a" stroke-width="0.9"/>
<circle cx="552.0" cy="254.8" r="3.2" fill="#8a8a8a" stroke="#3a3a3a" stroke-width="0.9"/>
<circle cx="554.2" cy="254.9" r="3.2" fill="#8a8a8a" stroke="#3a3a3a" stroke-width="0.9"/>
<circle cx="556.5" cy="254.5" r="3.2" fill="#8a8a8a" stroke="#3a3a3a" stroke-width="0.9"/>
<circle cx="558.8" cy="253.6" r="3.2" fill="#8a8a8a" stroke="#3a3a3a" stroke-width="0.9"/>
<circle cx="561.0" cy="253.2" r="3.2" fill="#8a8a8a" stroke="#3a3a3a" stroke-width="0.9"/>
<circle cx="563.2" cy="252.9" r="3.2" fill="#8a8a8a" stroke="#3a3a3a" stroke-width="0.9"/>
<circle cx="565.5" cy="251.5" r="3.2" fill="#8a8a8a" stroke="#3a3a3a" stroke-width="0.9"/>
<circle cx="567.8" cy="251.0" r="3.2" fill="#8a8a8a" stroke="#3a3a3a" stroke-width="0.9"/>
<circle cx="570.0" cy="249.6" r="3.2" fill="#8a8a8a" stroke="#3a3a3a" stroke-width="0.9"/>
<circle cx="572.2" cy="248.2" r="3.2" fill="#8a8a8a" stroke="#3a3a3a" stroke-width="0.9"/>
<circle cx="574.5" cy="246.4" r="3.2" fill="#8a8a8a" stroke="#3a3a3a" stroke-width="0.9"/>
<circle cx="576.8" cy="245.0" r="3.2" fill="#8a8a8a" stroke="#3a3a3a" stroke-width="0.9"/>
<circle cx="579.0" cy="241.8" r="3.2" fill="#8a8a8a" stroke="#3a3a3a" stroke-width="0.9"/>
<circle cx="581.2" cy="238.7" r="3.2" fill="#8a8a8a" stroke="#3a3a3a" stroke-width="0.9"/>
<circle cx="583.5" cy="234.7" r="3.2" fill="#8a8a8a" stroke="#3a3a3a" stroke-width="0.9"/>
<circle cx="585.8" cy="229.9" r="3.2" fill="#8a8a8a" stroke="#3a3a3a" stroke-width="0.9"/>
<circle cx="588.0" cy="222.1" r="3.2" fill="#8a8a8a" stroke="#3a3a3a" stroke-width="0.9"/>
<circle cx="590.2" cy="213.2" r="3.2" fill="#8a8a8a" stroke="#3a3a3a" stroke-width="0.9"/>
<circle cx="592.5" cy="200.5" r="3.2" fill="#8a8a8a" stroke="#3a3a3a" stroke-width="0.9"/>
<circle cx="594.8" cy="184.1" r="3.2" fill="#8a8a8a" stroke="#3a3a3a" stroke-width="0.9"/>
<circle cx="597.0" cy="162.7" r="3.2" fill="#8a8a8a" stroke="#3a3a3a" stroke-width="0.9"/>
<circle cx="599.2" cy="138.1" r="3.2" fill="#8a8a8a" stroke="#3a3a3a" stroke-width="0.9"/>
<circle cx="601.5" cy="114.7" r="3.2" fill="#8a8a8a" stroke="#3a3a3a" stroke-width="0.9"/>
<circle cx="603.8" cy="102.4" r="3.2" fill="#8a8a8a" stroke="#3a3a3a" stroke-width="0.9"/>
<circle cx="606.0" cy="106.9" r="3.2" fill="#8a8a8a" stroke="#3a3a3a" stroke-width="0.9"/>
<circle cx="608.2" cy="126.3" r="3.2" fill="#8a8a8a" stroke="#3a3a3a" stroke-width="0.9"/>
<circle cx="610.5" cy="151.1" r="3.2" fill="#8a8a8a" stroke="#3a3a3a" stroke-width="0.9"/>
<circle cx="612.8" cy="173.7" r="3.2" fill="#8a8a8a" stroke="#3a3a3a" stroke-width="0.9"/>
<circle cx="615.0" cy="192.7" r="3.2" fill="#8a8a8a" stroke="#3a3a3a" stroke-width="0.9"/>
<circle cx="617.2" cy="207.4" r="3.2" fill="#8a8a8a" stroke="#3a3a3a" stroke-width="0.9"/>
<circle cx="619.5" cy="218.4" r="3.2" fill="#8a8a8a" stroke="#3a3a3a" stroke-width="0.9"/>
<circle cx="621.8" cy="226.6" r="3.2" fill="#8a8a8a" stroke="#3a3a3a" stroke-width="0.9"/>
<circle cx="624.0" cy="232.8" r="3.2" fill="#8a8a8a" stroke="#3a3a3a" stroke-width="0.9"/>
<circle cx="626.2" cy="237.2" r="3.2" fill="#8a8a8a" stroke="#3a3a3a" stroke-width="0.9"/>
<circle cx="628.5" cy="240.6" r="3.2" fill="#8a8a8a" stroke="#3a3a3a" stroke-width="0.9"/>
<circle cx="630.8" cy="244.0" r="3.2" fill="#8a8a8a" stroke="#3a3a3a" stroke-width="0.9"/>
<circle cx="633.0" cy="246.2" r="3.2" fill="#8a8a8a" stroke="#3a3a3a" stroke-width="0.9"/>
<circle cx="635.2" cy="248.3" r="3.2" fill="#8a8a8a" stroke="#3a3a3a" stroke-width="0.9"/>
<circle cx="637.5" cy="250.2" r="3.2" fill="#8a8a8a" stroke="#3a3a3a" stroke-width="0.9"/>
<circle cx="639.8" cy="251.2" r="3.2" fill="#8a8a8a" stroke="#3a3a3a" stroke-width="0.9"/>
<circle cx="642.0" cy="252.0" r="3.2" fill="#8a8a8a" stroke="#3a3a3a" stroke-width="0.9"/>
<circle cx="644.2" cy="252.9" r="3.2" fill="#8a8a8a" stroke="#3a3a3a" stroke-width="0.9"/>
<circle cx="646.5" cy="253.6" r="3.2" fill="#8a8a8a" stroke="#3a3a3a" stroke-width="0.9"/>
<circle cx="648.8" cy="253.5" r="3.2" fill="#8a8a8a" stroke="#3a3a3a" stroke-width="0.9"/>
<circle cx="651.0" cy="254.6" r="3.2" fill="#8a8a8a" stroke="#3a3a3a" stroke-width="0.9"/>
<circle cx="653.2" cy="254.6" r="3.2" fill="#8a8a8a" stroke="#3a3a3a" stroke-width="0.9"/>
<circle cx="655.5" cy="254.7" r="3.2" fill="#8a8a8a" stroke="#3a3a3a" stroke-width="0.9"/>
<circle cx="657.8" cy="254.4" r="3.2" fill="#8a8a8a" stroke="#3a3a3a" stroke-width="0.9"/>
<circle cx="660.0" cy="253.9" r="3.2" fill="#8a8a8a" stroke="#3a3a3a" stroke-width="0.9"/>
<circle cx="662.2" cy="253.9" r="3.2" fill="#8a8a8a" stroke="#3a3a3a" stroke-width="0.9"/>
<circle cx="664.5" cy="253.9" r="3.2" fill="#8a8a8a" stroke="#3a3a3a" stroke-width="0.9"/>
<circle cx="666.8" cy="255.0" r="3.2" fill="#8a8a8a" stroke="#3a3a3a" stroke-width="0.9"/>
<circle cx="669.0" cy="255.2" r="3.2" fill="#8a8a8a" stroke="#3a3a3a" stroke-width="0.9"/>
<circle cx="671.2" cy="255.9" r="3.2" fill="#8a8a8a" stroke="#3a3a3a" stroke-width="0.9"/>
<circle cx="673.5" cy="256.8" r="3.2" fill="#8a8a8a" stroke="#3a3a3a" stroke-width="0.9"/>
<circle cx="675.8" cy="257.3" r="3.2" fill="#8a8a8a" stroke="#3a3a3a" stroke-width="0.9"/>
<circle cx="678.0" cy="258.0" r="3.2" fill="#8a8a8a" stroke="#3a3a3a" stroke-width="0.9"/>
<path d="M391.0,264.2 L392.0,264.2 L393.0,264.1 L394.0,264.1 L395.0,264.0 L396.0,263.9 L397.0,263.9 L398.0,263.8 L399.0,263.7 L400.0,263.6 L401.0,263.6 L402.0,263.5 L403.0,263.4 L404.0,263.3 L405.0,263.2 L406.0,263.1 L407.0,263.0 L408.0,262.9 L409.0,262.8 L410.0,262.7 L411.0,262.6 L412.0,262.5 L413.0,262.4 L414.0,262.3 L415.0,262.2 L416.0,262.1 L417.0,262.0 L418.0,261.9 L419.0,261.7 L420.0,261.6 L421.0,261.5 L422.0,261.4 L423.0,261.2 L424.0,261.1 L425.0,261.0 L426.0,260.9 L427.0,260.7 L428.0,260.6 L429.0,260.5 L430.0,260.3 L431.0,260.2 L432.0,260.1 L433.0,259.9 L434.0,259.8 L435.0,259.7 L436.0,259.5 L437.0,259.4 L438.0,259.3 L439.0,259.1 L440.0,259.0 L441.0,258.9 L442.0,258.8 L443.0,258.6 L444.0,258.5 L445.0,258.4 L446.0,258.3 L447.0,258.2 L448.0,258.0 L449.0,257.9 L450.0,257.8 L451.0,257.7 L452.0,257.6 L453.0,257.5 L454.0,257.4 L455.0,257.3 L456.0,257.2 L457.0,257.1 L458.0,257.1 L459.0,257.0 L460.0,256.9 L461.0,256.8 L462.0,256.8 L463.0,256.7 L464.0,256.7 L465.0,256.6 L466.0,256.6 L467.0,256.5 L468.0,256.5 L469.0,256.5 L470.0,256.4 L471.0,256.4 L472.0,256.4 L473.0,256.4 L474.0,256.4 L475.0,256.4 L476.0,256.4 L477.0,256.5 L478.0,256.6 L479.0,256.7 L480.0,256.8 L481.0,256.9 L482.0,257.1 L483.0,257.2 L484.0,257.4 L485.0,257.6 L486.0,257.8 L487.0,258.0 L488.0,258.2 L489.0,258.4 L490.0,258.6 L491.0,258.8 L492.0,259.0 L493.0,259.2 L494.0,259.4 L495.0,259.6 L496.0,259.8 L497.0,260.0 L498.0,260.2 L499.0,260.4 L500.0,260.6 L501.0,260.7 L502.0,260.9 L503.0,261.1 L504.0,261.2 L505.0,261.4 L506.0,261.5 L507.0,261.6 L508.0,261.8 L509.0,261.9 L510.0,262.0 L511.0,262.1 L512.0,262.2 L513.0,262.3 L514.0,262.4 L515.0,262.5 L516.0,262.6 L517.0,262.7 L518.0,262.8 L519.0,262.9 L520.0,263.0 L521.0,263.0 L522.0,263.1 L523.0,263.2 L524.0,263.3 L525.0,263.3 L526.0,263.4 L527.0,263.4 L528.0,263.5 L529.0,263.5 L530.0,263.6 L531.0,263.7 L532.0,263.7 L533.0,263.7 L534.0,263.8 L535.0,263.8 L536.0,263.9 L537.0,263.9 L538.0,264.0 L539.0,264.0 L540.0,264.0 L541.0,264.1 L542.0,264.1 L543.0,264.1 L544.0,264.2 L545.0,264.2 L546.0,264.2 L547.0,264.2 L548.0,264.3 L549.0,264.3 L550.0,264.3 L551.0,264.3 L552.0,264.4 L553.0,264.4 L554.0,264.4 L555.0,264.4 L556.0,264.5 L557.0,264.5 L558.0,264.5 L559.0,264.5 L560.0,264.5 L561.0,264.6 L562.0,264.6 L563.0,264.6 L564.0,264.6 L565.0,264.6 L566.0,264.6 L567.0,264.7 L568.0,264.7 L569.0,264.7 L570.0,264.7 L571.0,264.7 L572.0,264.7 L573.0,264.7 L574.0,264.7 L575.0,264.8 L576.0,264.8 L577.0,264.8 L578.0,264.8 L579.0,264.8 L580.0,264.8 L581.0,264.8 L582.0,264.8 L583.0,264.8 L584.0,264.9 L585.0,264.9 L586.0,264.9 L587.0,264.9 L588.0,264.9 L589.0,264.9 L590.0,264.9 L591.0,264.9 L592.0,264.9 L593.0,264.9 L594.0,264.9 L595.0,264.9 L596.0,264.9 L597.0,265.0 L598.0,265.0 L599.0,265.0 L600.0,265.0 L601.0,265.0 L602.0,265.0 L603.0,265.0 L604.0,265.0 L605.0,265.0 L606.0,265.0 L607.0,265.0 L608.0,265.0 L609.0,265.0 L610.0,265.0 L611.0,265.0 L612.0,265.0 L613.0,265.0 L614.0,265.1 L615.0,265.1 L616.0,265.1 L617.0,265.1 L618.0,265.1 L619.0,265.1 L620.0,265.1 L621.0,265.1 L622.0,265.1 L623.0,265.1 L624.0,265.1 L625.0,265.1 L626.0,265.1 L627.0,265.1 L628.0,265.1 L629.0,265.1 L630.0,265.1 L631.0,265.1 L632.0,265.1 L633.0,265.1 L634.0,265.1 L635.0,265.1 L636.0,265.1 L637.0,265.1 L638.0,265.1 L639.0,265.1 L640.0,265.2 L641.0,265.2 L642.0,265.2 L643.0,265.2 L644.0,265.2 L645.0,265.2 L646.0,265.2 L647.0,265.2 L648.0,265.2 L649.0,265.2 L650.0,265.2 L651.0,265.2 L652.0,265.2 L653.0,265.2 L654.0,265.2 L655.0,265.2 L656.0,265.2 L657.0,265.2 L658.0,265.2 L659.0,265.2 L660.0,265.2 L661.0,265.2 L662.0,265.2 L663.0,265.2 L664.0,265.2 L665.0,265.2 L666.0,265.2 L667.0,265.2 L668.0,265.2 L669.0,265.2 L670.0,265.2 L671.0,265.2 L672.0,265.2 L673.0,265.2 L674.0,265.2 L675.0,265.2 L676.0,265.2 L677.0,265.2" fill="none" stroke="#e718e0" stroke-width="1.5" stroke-linejoin="round" />
<path d="M391.0,265.2 L392.0,265.2 L393.0,265.2 L394.0,265.2 L395.0,265.2 L396.0,265.2 L397.0,265.2 L398.0,265.2 L399.0,265.2 L400.0,265.2 L401.0,265.2 L402.0,265.2 L403.0,265.2 L404.0,265.1 L405.0,265.1 L406.0,265.1 L407.0,265.1 L408.0,265.1 L409.0,265.1 L410.0,265.1 L411.0,265.1 L412.0,265.1 L413.0,265.1 L414.0,265.1 L415.0,265.1 L416.0,265.1 L417.0,265.1 L418.0,265.1 L419.0,265.1 L420.0,265.1 L421.0,265.0 L422.0,265.0 L423.0,265.0 L424.0,265.0 L425.0,265.0 L426.0,265.0 L427.0,265.0 L428.0,265.0 L429.0,265.0 L430.0,265.0 L431.0,265.0 L432.0,264.9 L433.0,264.9 L434.0,264.9 L435.0,264.9 L436.0,264.9 L437.0,264.9 L438.0,264.9 L439.0,264.9 L440.0,264.8 L441.0,264.8 L442.0,264.8 L443.0,264.8 L444.0,264.8 L445.0,264.8 L446.0,264.7 L447.0,264.7 L448.0,264.7 L449.0,264.7 L450.0,264.7 L451.0,264.6 L452.0,264.6 L453.0,264.6 L454.0,264.6 L455.0,264.5 L456.0,264.5 L457.0,264.5 L458.0,264.4 L459.0,264.4 L460.0,264.4 L461.0,264.3 L462.0,264.3 L463.0,264.2 L464.0,264.2 L465.0,264.1 L466.0,264.1 L467.0,264.0 L468.0,264.0 L469.0,263.9 L470.0,263.8 L471.0,263.8 L472.0,263.7 L473.0,263.6 L474.0,263.5 L475.0,263.4 L476.0,263.3 L477.0,263.2 L478.0,263.1 L479.0,262.9 L480.0,262.8 L481.0,262.6 L482.0,262.5 L483.0,262.3 L484.0,262.1 L485.0,261.9 L486.0,261.6 L487.0,261.3 L488.0,261.0 L489.0,260.7 L490.0,260.3 L491.0,259.8 L492.0,259.4 L493.0,258.8 L494.0,258.2 L495.0,257.4 L496.0,256.6 L497.0,255.6 L498.0,254.5 L499.0,253.1 L500.0,251.5 L501.0,249.6 L502.0,247.3 L503.0,244.5 L504.0,241.1 L505.0,236.8 L506.0,231.5 L507.0,225.0 L508.0,216.9 L509.0,207.0 L510.0,195.5 L511.0,183.0 L512.0,171.3 L513.0,163.1 L514.0,161.0 L515.0,165.8 L516.0,175.8 L517.0,188.1 L518.0,200.3 L519.0,211.2 L520.0,220.3 L521.0,227.8 L522.0,233.8 L523.0,238.6 L524.0,242.5 L525.0,245.7 L526.0,248.3 L527.0,250.4 L528.0,252.2 L529.0,253.7 L530.0,255.0 L531.0,256.0 L532.0,256.9 L533.0,257.7 L534.0,258.4 L535.0,259.0 L536.0,259.6 L537.0,260.0 L538.0,260.4 L539.0,260.8 L540.0,261.1 L541.0,261.4 L542.0,261.7 L543.0,261.9 L544.0,262.2 L545.0,262.4 L546.0,262.5 L547.0,262.7 L548.0,262.9 L549.0,263.0 L550.0,263.1 L551.0,263.2 L552.0,263.4 L553.0,263.5 L554.0,263.5 L555.0,263.6 L556.0,263.7 L557.0,263.8 L558.0,263.9 L559.0,263.9 L560.0,264.0 L561.0,264.0 L562.0,264.1 L563.0,264.2 L564.0,264.2 L565.0,264.3 L566.0,264.3 L567.0,264.3 L568.0,264.4 L569.0,264.4 L570.0,264.4 L571.0,264.5 L572.0,264.5 L573.0,264.5 L574.0,264.6 L575.0,264.6 L576.0,264.6 L577.0,264.6 L578.0,264.7 L579.0,264.7 L580.0,264.7 L581.0,264.7 L582.0,264.7 L583.0,264.8 L584.0,264.8 L585.0,264.8 L586.0,264.8 L587.0,264.8 L588.0,264.8 L589.0,264.9 L590.0,264.9 L591.0,264.9 L592.0,264.9 L593.0,264.9 L594.0,264.9 L595.0,264.9 L596.0,265.0 L597.0,265.0 L598.0,265.0 L599.0,265.0 L600.0,265.0 L601.0,265.0 L602.0,265.0 L603.0,265.0 L604.0,265.0 L605.0,265.0 L606.0,265.0 L607.0,265.1 L608.0,265.1 L609.0,265.1 L610.0,265.1 L611.0,265.1 L612.0,265.1 L613.0,265.1 L614.0,265.1 L615.0,265.1 L616.0,265.1 L617.0,265.1 L618.0,265.1 L619.0,265.1 L620.0,265.1 L621.0,265.1 L622.0,265.1 L623.0,265.1 L624.0,265.1 L625.0,265.2 L626.0,265.2 L627.0,265.2 L628.0,265.2 L629.0,265.2 L630.0,265.2 L631.0,265.2 L632.0,265.2 L633.0,265.2 L634.0,265.2 L635.0,265.2 L636.0,265.2 L637.0,265.2 L638.0,265.2 L639.0,265.2 L640.0,265.2 L641.0,265.2 L642.0,265.2 L643.0,265.2 L644.0,265.2 L645.0,265.2 L646.0,265.2 L647.0,265.2 L648.0,265.2 L649.0,265.2 L650.0,265.2 L651.0,265.2 L652.0,265.2 L653.0,265.2 L654.0,265.2 L655.0,265.2 L656.0,265.2 L657.0,265.3 L658.0,265.3 L659.0,265.3 L660.0,265.3 L661.0,265.3 L662.0,265.3 L663.0,265.3 L664.0,265.3 L665.0,265.3 L666.0,265.3 L667.0,265.3 L668.0,265.3 L669.0,265.3 L670.0,265.3 L671.0,265.3 L672.0,265.3 L673.0,265.3 L674.0,265.3 L675.0,265.3 L676.0,265.3 L677.0,265.3" fill="none" stroke="#15801f" stroke-width="1.5" stroke-linejoin="round" />
<path d="M391.0,265.1 L392.0,265.1 L393.0,265.1 L394.0,265.1 L395.0,265.1 L396.0,265.1 L397.0,265.0 L398.0,265.0 L399.0,265.0 L400.0,265.0 L401.0,265.0 L402.0,265.0 L403.0,265.0 L404.0,265.0 L405.0,265.0 L406.0,265.0 L407.0,265.0 L408.0,265.0 L409.0,265.0 L410.0,265.0 L411.0,265.0 L412.0,265.0 L413.0,265.0 L414.0,265.0 L415.0,265.0 L416.0,265.0 L417.0,265.0 L418.0,265.0 L419.0,265.0 L420.0,265.0 L421.0,264.9 L422.0,264.9 L423.0,264.9 L424.0,264.9 L425.0,264.9 L426.0,264.9 L427.0,264.9 L428.0,264.9 L429.0,264.9 L430.0,264.9 L431.0,264.9 L432.0,264.9 L433.0,264.9 L434.0,264.9 L435.0,264.9 L436.0,264.9 L437.0,264.9 L438.0,264.9 L439.0,264.8 L440.0,264.8 L441.0,264.8 L442.0,264.8 L443.0,264.8 L444.0,264.8 L445.0,264.8 L446.0,264.8 L447.0,264.8 L448.0,264.8 L449.0,264.8 L450.0,264.8 L451.0,264.8 L452.0,264.7 L453.0,264.7 L454.0,264.7 L455.0,264.7 L456.0,264.7 L457.0,264.7 L458.0,264.7 L459.0,264.7 L460.0,264.7 L461.0,264.7 L462.0,264.7 L463.0,264.6 L464.0,264.6 L465.0,264.6 L466.0,264.6 L467.0,264.6 L468.0,264.6 L469.0,264.6 L470.0,264.6 L471.0,264.5 L472.0,264.5 L473.0,264.5 L474.0,264.5 L475.0,264.5 L476.0,264.5 L477.0,264.5 L478.0,264.5 L479.0,264.4 L480.0,264.4 L481.0,264.4 L482.0,264.4 L483.0,264.4 L484.0,264.4 L485.0,264.3 L486.0,264.3 L487.0,264.3 L488.0,264.3 L489.0,264.3 L490.0,264.2 L491.0,264.2 L492.0,264.2 L493.0,264.2 L494.0,264.2 L495.0,264.1 L496.0,264.1 L497.0,264.1 L498.0,264.1 L499.0,264.0 L500.0,264.0 L501.0,264.0 L502.0,264.0 L503.0,263.9 L504.0,263.9 L505.0,263.9 L506.0,263.8 L507.0,263.8 L508.0,263.8 L509.0,263.7 L510.0,263.7 L511.0,263.7 L512.0,263.6 L513.0,263.6 L514.0,263.6 L515.0,263.5 L516.0,263.5 L517.0,263.4 L518.0,263.4 L519.0,263.3 L520.0,263.3 L521.0,263.2 L522.0,263.2 L523.0,263.1 L524.0,263.1 L525.0,263.0 L526.0,263.0 L527.0,262.9 L528.0,262.8 L529.0,262.8 L530.0,262.7 L531.0,262.6 L532.0,262.5 L533.0,262.5 L534.0,262.4 L535.0,262.3 L536.0,262.2 L537.0,262.1 L538.0,262.0 L539.0,261.9 L540.0,261.8 L541.0,261.7 L542.0,261.6 L543.0,261.5 L544.0,261.3 L545.0,261.2 L546.0,261.0 L547.0,260.9 L548.0,260.7 L549.0,260.6 L550.0,260.4 L551.0,260.2 L552.0,260.0 L553.0,259.8 L554.0,259.6 L555.0,259.4 L556.0,259.1 L557.0,258.9 L558.0,258.6 L559.0,258.3 L560.0,258.0 L561.0,257.7 L562.0,257.3 L563.0,256.9 L564.0,256.5 L565.0,256.1 L566.0,255.6 L567.0,255.1 L568.0,254.6 L569.0,254.0 L570.0,253.4 L571.0,252.7 L572.0,252.0 L573.0,251.2 L574.0,250.3 L575.0,249.4 L576.0,248.4 L577.0,247.2 L578.0,246.0 L579.0,244.6 L580.0,243.1 L581.0,241.5 L582.0,239.6 L583.0,237.5 L584.0,235.2 L585.0,232.7 L586.0,229.8 L587.0,226.6 L588.0,222.9 L589.0,218.8 L590.0,214.1 L591.0,208.9 L592.0,202.9 L593.0,196.2 L594.0,188.7 L595.0,180.3 L596.0,171.0 L597.0,160.9 L598.0,150.1 L599.0,138.9 L600.0,128.0 L601.0,117.8 L602.0,109.4 L603.0,103.4 L604.0,100.6 L605.0,101.3 L606.0,105.4 L607.0,112.5 L608.0,121.7 L609.0,132.3 L610.0,143.4 L611.0,154.4 L612.0,165.0 L613.0,174.8 L614.0,183.8 L615.0,191.8 L616.0,199.0 L617.0,205.4 L618.0,211.1 L619.0,216.1 L620.0,220.5 L621.0,224.4 L622.0,227.9 L623.0,231.0 L624.0,233.7 L625.0,236.2 L626.0,238.4 L627.0,240.4 L628.0,242.1 L629.0,243.7 L630.0,245.2 L631.0,246.5 L632.0,247.7 L633.0,248.8 L634.0,249.8 L635.0,250.7 L636.0,251.5 L637.0,252.3 L638.0,253.0 L639.0,253.7 L640.0,254.3 L641.0,254.8 L642.0,255.4 L643.0,255.8 L644.0,256.3 L645.0,256.7 L646.0,257.1 L647.0,257.5 L648.0,257.8 L649.0,258.1 L650.0,258.4 L651.0,258.7 L652.0,259.0 L653.0,259.2 L654.0,259.5 L655.0,259.7 L656.0,259.9 L657.0,260.1 L658.0,260.3 L659.0,260.5 L660.0,260.6 L661.0,260.8 L662.0,261.0 L663.0,261.1 L664.0,261.2 L665.0,261.4 L666.0,261.5 L667.0,261.6 L668.0,261.7 L669.0,261.8 L670.0,262.0 L671.0,262.1 L672.0,262.1 L673.0,262.2 L674.0,262.3 L675.0,262.4 L676.0,262.5 L677.0,262.6" fill="none" stroke="#e11b1b" stroke-width="1.6" stroke-linejoin="round" />
<path d="M391.0,265.4 L392.0,265.4 L393.0,265.4 L394.0,265.4 L395.0,265.4 L396.0,265.4 L397.0,265.4 L398.0,265.4 L399.0,265.4 L400.0,265.4 L401.0,265.4 L402.0,265.4 L403.0,265.4 L404.0,265.4 L405.0,265.4 L406.0,265.4 L407.0,265.4 L408.0,265.4 L409.0,265.4 L410.0,265.4 L411.0,265.4 L412.0,265.4 L413.0,265.4 L414.0,265.4 L415.0,265.4 L416.0,265.4 L417.0,265.4 L418.0,265.4 L419.0,265.4 L420.0,265.4 L421.0,265.4 L422.0,265.4 L423.0,265.4 L424.0,265.4 L425.0,265.4 L426.0,265.4 L427.0,265.4 L428.0,265.4 L429.0,265.4 L430.0,265.4 L431.0,265.4 L432.0,265.4 L433.0,265.4 L434.0,265.4 L435.0,265.4 L436.0,265.4 L437.0,265.4 L438.0,265.4 L439.0,265.4 L440.0,265.4 L441.0,265.4 L442.0,265.4 L443.0,265.4 L444.0,265.4 L445.0,265.4 L446.0,265.4 L447.0,265.4 L448.0,265.4 L449.0,265.4 L450.0,265.4 L451.0,265.4 L452.0,265.4 L453.0,265.4 L454.0,265.4 L455.0,265.4 L456.0,265.4 L457.0,265.4 L458.0,265.4 L459.0,265.4 L460.0,265.4 L461.0,265.4 L462.0,265.4 L463.0,265.4 L464.0,265.4 L465.0,265.4 L466.0,265.4 L467.0,265.4 L468.0,265.4 L469.0,265.4 L470.0,265.4 L471.0,265.4 L472.0,265.4 L473.0,265.4 L474.0,265.4 L475.0,265.4 L476.0,265.4 L477.0,265.4 L478.0,265.4 L479.0,265.4 L480.0,265.4 L481.0,265.4 L482.0,265.4 L483.0,265.4 L484.0,265.4 L485.0,265.4 L486.0,265.4 L487.0,265.4 L488.0,265.4 L489.0,265.4 L490.0,265.4 L491.0,265.4 L492.0,265.4 L493.0,265.4 L494.0,265.4 L495.0,265.4 L496.0,265.4 L497.0,265.4 L498.0,265.4 L499.0,265.4 L500.0,265.4 L501.0,265.4 L502.0,265.4 L503.0,265.4 L504.0,265.4 L505.0,265.4 L506.0,265.4 L507.0,265.4 L508.0,265.4 L509.0,265.4 L510.0,265.4 L511.0,265.4 L512.0,265.4 L513.0,265.4 L514.0,265.4 L515.0,265.4 L516.0,265.4 L517.0,265.4 L518.0,265.4 L519.0,265.4 L520.0,265.4 L521.0,265.4 L522.0,265.4 L523.0,265.4 L524.0,265.4 L525.0,265.4 L526.0,265.4 L527.0,265.4 L528.0,265.4 L529.0,265.4 L530.0,265.4 L531.0,265.4 L532.0,265.4 L533.0,265.4 L534.0,265.4 L535.0,265.4 L536.0,265.4 L537.0,265.4 L538.0,265.4 L539.0,265.4 L540.0,265.4 L541.0,265.4 L542.0,265.4 L543.0,265.4 L544.0,265.4 L545.0,265.4 L546.0,265.4 L547.0,265.4 L548.0,265.4 L549.0,265.4 L550.0,265.4 L551.0,265.4 L552.0,265.4 L553.0,265.4 L554.0,265.4 L555.0,265.4 L556.0,265.4 L557.0,265.4 L558.0,265.4 L559.0,265.4 L560.0,265.4 L561.0,265.4 L562.0,265.4 L563.0,265.4 L564.0,265.3 L565.0,265.3 L566.0,265.3 L567.0,265.3 L568.0,265.3 L569.0,265.3 L570.0,265.3 L571.0,265.3 L572.0,265.3 L573.0,265.3 L574.0,265.3 L575.0,265.3 L576.0,265.3 L577.0,265.3 L578.0,265.3 L579.0,265.3 L580.0,265.3 L581.0,265.3 L582.0,265.3 L583.0,265.3 L584.0,265.3 L585.0,265.3 L586.0,265.3 L587.0,265.3 L588.0,265.3 L589.0,265.3 L590.0,265.3 L591.0,265.3 L592.0,265.3 L593.0,265.3 L594.0,265.3 L595.0,265.3 L596.0,265.3 L597.0,265.3 L598.0,265.3 L599.0,265.3 L600.0,265.3 L601.0,265.3 L602.0,265.3 L603.0,265.3 L604.0,265.3 L605.0,265.3 L606.0,265.3 L607.0,265.2 L608.0,265.2 L609.0,265.2 L610.0,265.2 L611.0,265.2 L612.0,265.2 L613.0,265.2 L614.0,265.2 L615.0,265.2 L616.0,265.2 L617.0,265.2 L618.0,265.2 L619.0,265.2 L620.0,265.1 L621.0,265.1 L622.0,265.1 L623.0,265.1 L624.0,265.1 L625.0,265.1 L626.0,265.1 L627.0,265.1 L628.0,265.0 L629.0,265.0 L630.0,265.0 L631.0,265.0 L632.0,264.9 L633.0,264.9 L634.0,264.9 L635.0,264.9 L636.0,264.8 L637.0,264.8 L638.0,264.7 L639.0,264.7 L640.0,264.6 L641.0,264.6 L642.0,264.5 L643.0,264.5 L644.0,264.4 L645.0,264.3 L646.0,264.2 L647.0,264.1 L648.0,264.0 L649.0,263.9 L650.0,263.7 L651.0,263.6 L652.0,263.4 L653.0,263.2 L654.0,263.0 L655.0,262.8 L656.0,262.5 L657.0,262.3 L658.0,262.0 L659.0,261.8 L660.0,261.6 L661.0,261.4 L662.0,261.3 L663.0,261.2 L664.0,261.2 L665.0,261.3 L666.0,261.4 L667.0,261.6 L668.0,261.8 L669.0,262.0 L670.0,262.3 L671.0,262.5 L672.0,262.8 L673.0,263.0 L674.0,263.2 L675.0,263.4 L676.0,263.6 L677.0,263.7" fill="none" stroke="#1a1acc" stroke-width="1.5" stroke-linejoin="round" />
</g>
<g clip-path="url(#clipD)">
<circle cx="390.0" cy="463.4" r="3.2" fill="#8a8a8a" stroke="#3a3a3a" stroke-width="0.9"/>
<circle cx="392.2" cy="462.8" r="3.2" fill="#8a8a8a" stroke="#3a3a3a" stroke-width="0.9"/>
<circle cx="394.5" cy="462.4" r="3.2" fill="#8a8a8a" stroke="#3a3a3a" stroke-width="0.9"/>
<circle cx="396.8" cy="461.8" r="3.2" fill="#8a8a8a" stroke="#3a3a3a" stroke-width="0.9"/>
<circle cx="399.0" cy="461.5" r="3.2" fill="#8a8a8a" stroke="#3a3a3a" stroke-width="0.9"/>
<circle cx="401.2" cy="460.6" r="3.2" fill="#8a8a8a" stroke="#3a3a3a" stroke-width="0.9"/>
<circle cx="403.5" cy="460.9" r="3.2" fill="#8a8a8a" stroke="#3a3a3a" stroke-width="0.9"/>
<circle cx="405.8" cy="460.1" r="3.2" fill="#8a8a8a" stroke="#3a3a3a" stroke-width="0.9"/>
<circle cx="408.0" cy="459.1" r="3.2" fill="#8a8a8a" stroke="#3a3a3a" stroke-width="0.9"/>
<circle cx="410.2" cy="458.6" r="3.2" fill="#8a8a8a" stroke="#3a3a3a" stroke-width="0.9"/>
<circle cx="412.5" cy="458.1" r="3.2" fill="#8a8a8a" stroke="#3a3a3a" stroke-width="0.9"/>
<circle cx="414.8" cy="457.6" r="3.2" fill="#8a8a8a" stroke="#3a3a3a" stroke-width="0.9"/>
<circle cx="417.0" cy="456.8" r="3.2" fill="#8a8a8a" stroke="#3a3a3a" stroke-width="0.9"/>
<circle cx="419.2" cy="457.0" r="3.2" fill="#8a8a8a" stroke="#3a3a3a" stroke-width="0.9"/>
<circle cx="421.5" cy="456.6" r="3.2" fill="#8a8a8a" stroke="#3a3a3a" stroke-width="0.9"/>
<circle cx="423.8" cy="455.6" r="3.2" fill="#8a8a8a" stroke="#3a3a3a" stroke-width="0.9"/>
<circle cx="426.0" cy="455.1" r="3.2" fill="#8a8a8a" stroke="#3a3a3a" stroke-width="0.9"/>
<circle cx="428.2" cy="454.2" r="3.2" fill="#8a8a8a" stroke="#3a3a3a" stroke-width="0.9"/>
<circle cx="430.5" cy="453.7" r="3.2" fill="#8a8a8a" stroke="#3a3a3a" stroke-width="0.9"/>
<circle cx="432.8" cy="453.5" r="3.2" fill="#8a8a8a" stroke="#3a3a3a" stroke-width="0.9"/>
<circle cx="435.0" cy="453.0" r="3.2" fill="#8a8a8a" stroke="#3a3a3a" stroke-width="0.9"/>
<circle cx="437.2" cy="453.1" r="3.2" fill="#8a8a8a" stroke="#3a3a3a" stroke-width="0.9"/>
<circle cx="439.5" cy="452.1" r="3.2" fill="#8a8a8a" stroke="#3a3a3a" stroke-width="0.9"/>
<circle cx="441.8" cy="451.5" r="3.2" fill="#8a8a8a" stroke="#3a3a3a" stroke-width="0.9"/>
<circle cx="444.0" cy="452.1" r="3.2" fill="#8a8a8a" stroke="#3a3a3a" stroke-width="0.9"/>
<circle cx="446.2" cy="451.3" r="3.2" fill="#8a8a8a" stroke="#3a3a3a" stroke-width="0.9"/>
<circle cx="448.5" cy="450.6" r="3.2" fill="#8a8a8a" stroke="#3a3a3a" stroke-width="0.9"/>
<circle cx="450.8" cy="450.7" r="3.2" fill="#8a8a8a" stroke="#3a3a3a" stroke-width="0.9"/>
<circle cx="453.0" cy="449.9" r="3.2" fill="#8a8a8a" stroke="#3a3a3a" stroke-width="0.9"/>
<circle cx="455.2" cy="450.1" r="3.2" fill="#8a8a8a" stroke="#3a3a3a" stroke-width="0.9"/>
<circle cx="457.5" cy="450.3" r="3.2" fill="#8a8a8a" stroke="#3a3a3a" stroke-width="0.9"/>
<circle cx="459.8" cy="450.0" r="3.2" fill="#8a8a8a" stroke="#3a3a3a" stroke-width="0.9"/>
<circle cx="462.0" cy="449.6" r="3.2" fill="#8a8a8a" stroke="#3a3a3a" stroke-width="0.9"/>
<circle cx="464.2" cy="448.9" r="3.2" fill="#8a8a8a" stroke="#3a3a3a" stroke-width="0.9"/>
<circle cx="466.5" cy="448.8" r="3.2" fill="#8a8a8a" stroke="#3a3a3a" stroke-width="0.9"/>
<circle cx="468.8" cy="448.5" r="3.2" fill="#8a8a8a" stroke="#3a3a3a" stroke-width="0.9"/>
<circle cx="471.0" cy="448.9" r="3.2" fill="#8a8a8a" stroke="#3a3a3a" stroke-width="0.9"/>
<circle cx="473.2" cy="448.6" r="3.2" fill="#8a8a8a" stroke="#3a3a3a" stroke-width="0.9"/>
<circle cx="475.5" cy="448.7" r="3.2" fill="#8a8a8a" stroke="#3a3a3a" stroke-width="0.9"/>
<circle cx="477.8" cy="448.1" r="3.2" fill="#8a8a8a" stroke="#3a3a3a" stroke-width="0.9"/>
<circle cx="480.0" cy="447.9" r="3.2" fill="#8a8a8a" stroke="#3a3a3a" stroke-width="0.9"/>
<circle cx="482.2" cy="448.2" r="3.2" fill="#8a8a8a" stroke="#3a3a3a" stroke-width="0.9"/>
<circle cx="484.5" cy="448.0" r="3.2" fill="#8a8a8a" stroke="#3a3a3a" stroke-width="0.9"/>
<circle cx="486.8" cy="447.4" r="3.2" fill="#8a8a8a" stroke="#3a3a3a" stroke-width="0.9"/>
<circle cx="489.0" cy="446.5" r="3.2" fill="#8a8a8a" stroke="#3a3a3a" stroke-width="0.9"/>
<circle cx="491.2" cy="445.4" r="3.2" fill="#8a8a8a" stroke="#3a3a3a" stroke-width="0.9"/>
<circle cx="493.5" cy="443.5" r="3.2" fill="#8a8a8a" stroke="#3a3a3a" stroke-width="0.9"/>
<circle cx="495.8" cy="440.3" r="3.2" fill="#8a8a8a" stroke="#3a3a3a" stroke-width="0.9"/>
<circle cx="498.0" cy="436.4" r="3.2" fill="#8a8a8a" stroke="#3a3a3a" stroke-width="0.9"/>
<circle cx="500.2" cy="429.8" r="3.2" fill="#8a8a8a" stroke="#3a3a3a" stroke-width="0.9"/>
<circle cx="502.5" cy="419.5" r="3.2" fill="#8a8a8a" stroke="#3a3a3a" stroke-width="0.9"/>
<circle cx="504.8" cy="404.7" r="3.2" fill="#8a8a8a" stroke="#3a3a3a" stroke-width="0.9"/>
<circle cx="507.0" cy="385.9" r="3.2" fill="#8a8a8a" stroke="#3a3a3a" stroke-width="0.9"/>
<circle cx="509.2" cy="372.3" r="3.2" fill="#8a8a8a" stroke="#3a3a3a" stroke-width="0.9"/>
<circle cx="511.5" cy="378.5" r="3.2" fill="#8a8a8a" stroke="#3a3a3a" stroke-width="0.9"/>
<circle cx="513.8" cy="398.4" r="3.2" fill="#8a8a8a" stroke="#3a3a3a" stroke-width="0.9"/>
<circle cx="516.0" cy="415.8" r="3.2" fill="#8a8a8a" stroke="#3a3a3a" stroke-width="0.9"/>
<circle cx="518.2" cy="429.3" r="3.2" fill="#8a8a8a" stroke="#3a3a3a" stroke-width="0.9"/>
<circle cx="520.5" cy="438.2" r="3.2" fill="#8a8a8a" stroke="#3a3a3a" stroke-width="0.9"/>
<circle cx="522.8" cy="444.1" r="3.2" fill="#8a8a8a" stroke="#3a3a3a" stroke-width="0.9"/>
<circle cx="525.0" cy="447.7" r="3.2" fill="#8a8a8a" stroke="#3a3a3a" stroke-width="0.9"/>
<circle cx="527.2" cy="450.4" r="3.2" fill="#8a8a8a" stroke="#3a3a3a" stroke-width="0.9"/>
<circle cx="529.5" cy="452.6" r="3.2" fill="#8a8a8a" stroke="#3a3a3a" stroke-width="0.9"/>
<circle cx="531.8" cy="454.2" r="3.2" fill="#8a8a8a" stroke="#3a3a3a" stroke-width="0.9"/>
<circle cx="534.0" cy="455.4" r="3.2" fill="#8a8a8a" stroke="#3a3a3a" stroke-width="0.9"/>
<circle cx="536.2" cy="456.8" r="3.2" fill="#8a8a8a" stroke="#3a3a3a" stroke-width="0.9"/>
<circle cx="538.5" cy="457.8" r="3.2" fill="#8a8a8a" stroke="#3a3a3a" stroke-width="0.9"/>
<circle cx="540.8" cy="458.2" r="3.2" fill="#8a8a8a" stroke="#3a3a3a" stroke-width="0.9"/>
<circle cx="543.0" cy="458.2" r="3.2" fill="#8a8a8a" stroke="#3a3a3a" stroke-width="0.9"/>
<circle cx="545.2" cy="458.7" r="3.2" fill="#8a8a8a" stroke="#3a3a3a" stroke-width="0.9"/>
<circle cx="547.5" cy="458.9" r="3.2" fill="#8a8a8a" stroke="#3a3a3a" stroke-width="0.9"/>
<circle cx="549.8" cy="458.2" r="3.2" fill="#8a8a8a" stroke="#3a3a3a" stroke-width="0.9"/>
<circle cx="552.0" cy="458.6" r="3.2" fill="#8a8a8a" stroke="#3a3a3a" stroke-width="0.9"/>
<circle cx="554.2" cy="458.6" r="3.2" fill="#8a8a8a" stroke="#3a3a3a" stroke-width="0.9"/>
<circle cx="556.5" cy="458.1" r="3.2" fill="#8a8a8a" stroke="#3a3a3a" stroke-width="0.9"/>
<circle cx="558.8" cy="457.6" r="3.2" fill="#8a8a8a" stroke="#3a3a3a" stroke-width="0.9"/>
<circle cx="561.0" cy="456.6" r="3.2" fill="#8a8a8a" stroke="#3a3a3a" stroke-width="0.9"/>
<circle cx="563.2" cy="455.4" r="3.2" fill="#8a8a8a" stroke="#3a3a3a" stroke-width="0.9"/>
<circle cx="565.5" cy="454.9" r="3.2" fill="#8a8a8a" stroke="#3a3a3a" stroke-width="0.9"/>
<circle cx="567.8" cy="453.0" r="3.2" fill="#8a8a8a" stroke="#3a3a3a" stroke-width="0.9"/>
<circle cx="570.0" cy="451.8" r="3.2" fill="#8a8a8a" stroke="#3a3a3a" stroke-width="0.9"/>
<circle cx="572.2" cy="449.9" r="3.2" fill="#8a8a8a" stroke="#3a3a3a" stroke-width="0.9"/>
<circle cx="574.5" cy="446.7" r="3.2" fill="#8a8a8a" stroke="#3a3a3a" stroke-width="0.9"/>
<circle cx="576.8" cy="443.5" r="3.2" fill="#8a8a8a" stroke="#3a3a3a" stroke-width="0.9"/>
<circle cx="579.0" cy="440.1" r="3.2" fill="#8a8a8a" stroke="#3a3a3a" stroke-width="0.9"/>
<circle cx="581.2" cy="434.9" r="3.2" fill="#8a8a8a" stroke="#3a3a3a" stroke-width="0.9"/>
<circle cx="583.5" cy="428.2" r="3.2" fill="#8a8a8a" stroke="#3a3a3a" stroke-width="0.9"/>
<circle cx="585.8" cy="420.3" r="3.2" fill="#8a8a8a" stroke="#3a3a3a" stroke-width="0.9"/>
<circle cx="588.0" cy="410.5" r="3.2" fill="#8a8a8a" stroke="#3a3a3a" stroke-width="0.9"/>
<circle cx="590.2" cy="398.3" r="3.2" fill="#8a8a8a" stroke="#3a3a3a" stroke-width="0.9"/>
<circle cx="592.5" cy="382.0" r="3.2" fill="#8a8a8a" stroke="#3a3a3a" stroke-width="0.9"/>
<circle cx="594.8" cy="362.4" r="3.2" fill="#8a8a8a" stroke="#3a3a3a" stroke-width="0.9"/>
<circle cx="597.0" cy="343.2" r="3.2" fill="#8a8a8a" stroke="#3a3a3a" stroke-width="0.9"/>
<circle cx="599.2" cy="326.1" r="3.2" fill="#8a8a8a" stroke="#3a3a3a" stroke-width="0.9"/>
<circle cx="601.5" cy="315.9" r="3.2" fill="#8a8a8a" stroke="#3a3a3a" stroke-width="0.9"/>
<circle cx="603.8" cy="316.7" r="3.2" fill="#8a8a8a" stroke="#3a3a3a" stroke-width="0.9"/>
<circle cx="606.0" cy="328.6" r="3.2" fill="#8a8a8a" stroke="#3a3a3a" stroke-width="0.9"/>
<circle cx="608.2" cy="346.2" r="3.2" fill="#8a8a8a" stroke="#3a3a3a" stroke-width="0.9"/>
<circle cx="610.5" cy="365.9" r="3.2" fill="#8a8a8a" stroke="#3a3a3a" stroke-width="0.9"/>
<circle cx="612.8" cy="385.2" r="3.2" fill="#8a8a8a" stroke="#3a3a3a" stroke-width="0.9"/>
<circle cx="615.0" cy="400.4" r="3.2" fill="#8a8a8a" stroke="#3a3a3a" stroke-width="0.9"/>
<circle cx="617.2" cy="412.4" r="3.2" fill="#8a8a8a" stroke="#3a3a3a" stroke-width="0.9"/>
<circle cx="619.5" cy="422.0" r="3.2" fill="#8a8a8a" stroke="#3a3a3a" stroke-width="0.9"/>
<circle cx="621.8" cy="428.8" r="3.2" fill="#8a8a8a" stroke="#3a3a3a" stroke-width="0.9"/>
<circle cx="624.0" cy="434.9" r="3.2" fill="#8a8a8a" stroke="#3a3a3a" stroke-width="0.9"/>
<circle cx="626.2" cy="439.4" r="3.2" fill="#8a8a8a" stroke="#3a3a3a" stroke-width="0.9"/>
<circle cx="628.5" cy="442.3" r="3.2" fill="#8a8a8a" stroke="#3a3a3a" stroke-width="0.9"/>
<circle cx="630.8" cy="445.1" r="3.2" fill="#8a8a8a" stroke="#3a3a3a" stroke-width="0.9"/>
<circle cx="633.0" cy="447.2" r="3.2" fill="#8a8a8a" stroke="#3a3a3a" stroke-width="0.9"/>
<circle cx="635.2" cy="448.8" r="3.2" fill="#8a8a8a" stroke="#3a3a3a" stroke-width="0.9"/>
<circle cx="637.5" cy="450.4" r="3.2" fill="#8a8a8a" stroke="#3a3a3a" stroke-width="0.9"/>
<circle cx="639.8" cy="450.9" r="3.2" fill="#8a8a8a" stroke="#3a3a3a" stroke-width="0.9"/>
<circle cx="642.0" cy="451.8" r="3.2" fill="#8a8a8a" stroke="#3a3a3a" stroke-width="0.9"/>
<circle cx="644.2" cy="451.9" r="3.2" fill="#8a8a8a" stroke="#3a3a3a" stroke-width="0.9"/>
<circle cx="646.5" cy="453.1" r="3.2" fill="#8a8a8a" stroke="#3a3a3a" stroke-width="0.9"/>
<circle cx="648.8" cy="452.8" r="3.2" fill="#8a8a8a" stroke="#3a3a3a" stroke-width="0.9"/>
<circle cx="651.0" cy="453.2" r="3.2" fill="#8a8a8a" stroke="#3a3a3a" stroke-width="0.9"/>
<circle cx="653.2" cy="453.7" r="3.2" fill="#8a8a8a" stroke="#3a3a3a" stroke-width="0.9"/>
<circle cx="655.5" cy="454.4" r="3.2" fill="#8a8a8a" stroke="#3a3a3a" stroke-width="0.9"/>
<circle cx="657.8" cy="454.5" r="3.2" fill="#8a8a8a" stroke="#3a3a3a" stroke-width="0.9"/>
<circle cx="660.0" cy="455.8" r="3.2" fill="#8a8a8a" stroke="#3a3a3a" stroke-width="0.9"/>
<circle cx="662.2" cy="456.2" r="3.2" fill="#8a8a8a" stroke="#3a3a3a" stroke-width="0.9"/>
<circle cx="664.5" cy="457.2" r="3.2" fill="#8a8a8a" stroke="#3a3a3a" stroke-width="0.9"/>
<circle cx="666.8" cy="458.3" r="3.2" fill="#8a8a8a" stroke="#3a3a3a" stroke-width="0.9"/>
<circle cx="669.0" cy="458.9" r="3.2" fill="#8a8a8a" stroke="#3a3a3a" stroke-width="0.9"/>
<circle cx="671.2" cy="460.4" r="3.2" fill="#8a8a8a" stroke="#3a3a3a" stroke-width="0.9"/>
<circle cx="673.5" cy="461.2" r="3.2" fill="#8a8a8a" stroke="#3a3a3a" stroke-width="0.9"/>
<circle cx="675.8" cy="462.1" r="3.2" fill="#8a8a8a" stroke="#3a3a3a" stroke-width="0.9"/>
<circle cx="678.0" cy="463.8" r="3.2" fill="#8a8a8a" stroke="#3a3a3a" stroke-width="0.9"/>
<path d="M391.0,470.3 L392.0,470.0 L393.0,469.8 L394.0,469.6 L395.0,469.3 L396.0,469.1 L397.0,468.9 L398.0,468.6 L399.0,468.4 L400.0,468.1 L401.0,467.9 L402.0,467.7 L403.0,467.4 L404.0,467.2 L405.0,466.9 L406.0,466.7 L407.0,466.5 L408.0,466.2 L409.0,466.0 L410.0,465.8 L411.0,465.5 L412.0,465.3 L413.0,465.1 L414.0,464.8 L415.0,464.6 L416.0,464.4 L417.0,464.1 L418.0,463.9 L419.0,463.7 L420.0,463.5 L421.0,463.3 L422.0,463.0 L423.0,462.8 L424.0,462.6 L425.0,462.4 L426.0,462.2 L427.0,462.0 L428.0,461.8 L429.0,461.6 L430.0,461.4 L431.0,461.3 L432.0,461.1 L433.0,460.9 L434.0,460.7 L435.0,460.6 L436.0,460.4 L437.0,460.2 L438.0,460.1 L439.0,459.9 L440.0,459.8 L441.0,459.6 L442.0,459.5 L443.0,459.4 L444.0,459.2 L445.0,459.1 L446.0,459.0 L447.0,458.9 L448.0,458.8 L449.0,458.7 L450.0,458.6 L451.0,458.5 L452.0,458.4 L453.0,458.3 L454.0,458.3 L455.0,458.2 L456.0,458.2 L457.0,458.1 L458.0,458.1 L459.0,458.0 L460.0,458.0 L461.0,457.9 L462.0,457.9 L463.0,457.9 L464.0,457.9 L465.0,457.9 L466.0,457.9 L467.0,457.9 L468.0,458.0 L469.0,458.0 L470.0,458.1 L471.0,458.1 L472.0,458.2 L473.0,458.3 L474.0,458.4 L475.0,458.5 L476.0,458.7 L477.0,458.8 L478.0,459.0 L479.0,459.1 L480.0,459.3 L481.0,459.5 L482.0,459.7 L483.0,459.9 L484.0,460.1 L485.0,460.3 L486.0,460.5 L487.0,460.7 L488.0,460.9 L489.0,461.2 L490.0,461.4 L491.0,461.7 L492.0,461.9 L493.0,462.2 L494.0,462.4 L495.0,462.7 L496.0,462.9 L497.0,463.2 L498.0,463.5 L499.0,463.7 L500.0,464.0 L501.0,464.3 L502.0,464.5 L503.0,464.8 L504.0,465.0 L505.0,465.3 L506.0,465.6 L507.0,465.8 L508.0,466.1 L509.0,466.3 L510.0,466.6 L511.0,466.8 L512.0,467.1 L513.0,467.3 L514.0,467.6 L515.0,467.8 L516.0,468.1 L517.0,468.3 L518.0,468.5 L519.0,468.8 L520.0,469.0 L521.0,469.2 L522.0,469.4 L523.0,469.7 L524.0,469.9 L525.0,470.1 L526.0,470.3 L527.0,470.5 L528.0,470.7 L529.0,470.9 L530.0,471.1 L531.0,471.3 L532.0,471.5 L533.0,471.7 L534.0,471.8 L535.0,472.0 L536.0,472.2 L537.0,472.4 L538.0,472.5 L539.0,472.7 L540.0,472.9 L541.0,473.0 L542.0,473.2 L543.0,473.3 L544.0,473.5 L545.0,473.6 L546.0,473.8 L547.0,473.9 L548.0,474.1 L549.0,474.2 L550.0,474.3 L551.0,474.5 L552.0,474.6 L553.0,474.7 L554.0,474.9 L555.0,475.0 L556.0,475.1 L557.0,475.2 L558.0,475.3 L559.0,475.5 L560.0,475.6 L561.0,475.7 L562.0,475.8 L563.0,475.9 L564.0,476.0 L565.0,476.1 L566.0,476.2 L567.0,476.3 L568.0,476.4 L569.0,476.5 L570.0,476.6 L571.0,476.7 L572.0,476.8 L573.0,476.9 L574.0,476.9 L575.0,477.0 L576.0,477.1 L577.0,477.2 L578.0,477.3 L579.0,477.3 L580.0,477.4 L581.0,477.5 L582.0,477.6 L583.0,477.6 L584.0,477.7 L585.0,477.8 L586.0,477.9 L587.0,477.9 L588.0,478.0 L589.0,478.1 L590.0,478.1 L591.0,478.2 L592.0,478.3 L593.0,478.3 L594.0,478.4 L595.0,478.4 L596.0,478.5 L597.0,478.5 L598.0,478.6 L599.0,478.7 L600.0,478.7 L601.0,478.8 L602.0,478.8 L603.0,478.9 L604.0,478.9 L605.0,479.0 L606.0,479.0 L607.0,479.1 L608.0,479.1 L609.0,479.2 L610.0,479.2 L611.0,479.2 L612.0,479.3 L613.0,479.3 L614.0,479.4 L615.0,479.4 L616.0,479.5 L617.0,479.5 L618.0,479.5 L619.0,479.6 L620.0,479.6 L621.0,479.7 L622.0,479.7 L623.0,479.7 L624.0,479.8 L625.0,479.8 L626.0,479.8 L627.0,479.9 L628.0,479.9 L629.0,479.9 L630.0,480.0 L631.0,480.0 L632.0,480.0 L633.0,480.1 L634.0,480.1 L635.0,480.1 L636.0,480.2 L637.0,480.2 L638.0,480.2 L639.0,480.3 L640.0,480.3 L641.0,480.3 L642.0,480.3 L643.0,480.4 L644.0,480.4 L645.0,480.4 L646.0,480.5 L647.0,480.5 L648.0,480.5 L649.0,480.5 L650.0,480.6 L651.0,480.6 L652.0,480.6 L653.0,480.6 L654.0,480.7 L655.0,480.7 L656.0,480.7 L657.0,480.7 L658.0,480.7 L659.0,480.8 L660.0,480.8 L661.0,480.8 L662.0,480.8 L663.0,480.8 L664.0,480.9 L665.0,480.9 L666.0,480.9 L667.0,480.9 L668.0,480.9 L669.0,481.0 L670.0,481.0 L671.0,481.0 L672.0,481.0 L673.0,481.0 L674.0,481.1 L675.0,481.1 L676.0,481.1 L677.0,481.1" fill="none" stroke="#e718e0" stroke-width="1.5" stroke-linejoin="round" />
<path d="M391.0,482.8 L392.0,482.8 L393.0,482.8 L394.0,482.8 L395.0,482.8 L396.0,482.8 L397.0,482.8 L398.0,482.8 L399.0,482.8 L400.0,482.8 L401.0,482.8 L402.0,482.8 L403.0,482.8 L404.0,482.8 L405.0,482.8 L406.0,482.7 L407.0,482.7 L408.0,482.7 L409.0,482.7 L410.0,482.7 L411.0,482.7 L412.0,482.7 L413.0,482.7 L414.0,482.7 L415.0,482.7 L416.0,482.7 L417.0,482.7 L418.0,482.7 L419.0,482.6 L420.0,482.6 L421.0,482.6 L422.0,482.6 L423.0,482.6 L424.0,482.6 L425.0,482.6 L426.0,482.6 L427.0,482.6 L428.0,482.5 L429.0,482.5 L430.0,482.5 L431.0,482.5 L432.0,482.5 L433.0,482.5 L434.0,482.4 L435.0,482.4 L436.0,482.4 L437.0,482.4 L438.0,482.4 L439.0,482.4 L440.0,482.3 L441.0,482.3 L442.0,482.3 L443.0,482.3 L444.0,482.2 L445.0,482.2 L446.0,482.2 L447.0,482.1 L448.0,482.1 L449.0,482.1 L450.0,482.1 L451.0,482.0 L452.0,482.0 L453.0,481.9 L454.0,481.9 L455.0,481.9 L456.0,481.8 L457.0,481.8 L458.0,481.7 L459.0,481.7 L460.0,481.6 L461.0,481.5 L462.0,481.5 L463.0,481.4 L464.0,481.3 L465.0,481.2 L466.0,481.2 L467.0,481.1 L468.0,481.0 L469.0,480.9 L470.0,480.8 L471.0,480.6 L472.0,480.5 L473.0,480.4 L474.0,480.2 L475.0,480.1 L476.0,479.9 L477.0,479.7 L478.0,479.5 L479.0,479.3 L480.0,479.0 L481.0,478.7 L482.0,478.4 L483.0,478.1 L484.0,477.7 L485.0,477.3 L486.0,476.9 L487.0,476.3 L488.0,475.8 L489.0,475.1 L490.0,474.3 L491.0,473.5 L492.0,472.5 L493.0,471.4 L494.0,470.1 L495.0,468.5 L496.0,466.7 L497.0,464.6 L498.0,462.1 L499.0,459.1 L500.0,455.4 L501.0,451.1 L502.0,445.9 L503.0,439.7 L504.0,432.3 L505.0,423.9 L506.0,414.7 L507.0,405.5 L508.0,397.4 L509.0,392.0 L510.0,390.7 L511.0,393.7 L512.0,400.4 L513.0,409.1 L514.0,418.4 L515.0,427.4 L516.0,435.4 L517.0,442.3 L518.0,448.1 L519.0,452.9 L520.0,457.0 L521.0,460.3 L522.0,463.1 L523.0,465.5 L524.0,467.5 L525.0,469.2 L526.0,470.6 L527.0,471.9 L528.0,472.9 L529.0,473.9 L530.0,474.7 L531.0,475.4 L532.0,476.0 L533.0,476.6 L534.0,477.1 L535.0,477.5 L536.0,477.9 L537.0,478.2 L538.0,478.6 L539.0,478.9 L540.0,479.1 L541.0,479.4 L542.0,479.6 L543.0,479.8 L544.0,480.0 L545.0,480.1 L546.0,480.3 L547.0,480.4 L548.0,480.6 L549.0,480.7 L550.0,480.8 L551.0,480.9 L552.0,481.0 L553.0,481.1 L554.0,481.2 L555.0,481.3 L556.0,481.4 L557.0,481.4 L558.0,481.5 L559.0,481.6 L560.0,481.6 L561.0,481.7 L562.0,481.7 L563.0,481.8 L564.0,481.8 L565.0,481.9 L566.0,481.9 L567.0,482.0 L568.0,482.0 L569.0,482.0 L570.0,482.1 L571.0,482.1 L572.0,482.1 L573.0,482.2 L574.0,482.2 L575.0,482.2 L576.0,482.2 L577.0,482.3 L578.0,482.3 L579.0,482.3 L580.0,482.3 L581.0,482.4 L582.0,482.4 L583.0,482.4 L584.0,482.4 L585.0,482.4 L586.0,482.5 L587.0,482.5 L588.0,482.5 L589.0,482.5 L590.0,482.5 L591.0,482.5 L592.0,482.5 L593.0,482.6 L594.0,482.6 L595.0,482.6 L596.0,482.6 L597.0,482.6 L598.0,482.6 L599.0,482.6 L600.0,482.6 L601.0,482.6 L602.0,482.7 L603.0,482.7 L604.0,482.7 L605.0,482.7 L606.0,482.7 L607.0,482.7 L608.0,482.7 L609.0,482.7 L610.0,482.7 L611.0,482.7 L612.0,482.7 L613.0,482.7 L614.0,482.8 L615.0,482.8 L616.0,482.8 L617.0,482.8 L618.0,482.8 L619.0,482.8 L620.0,482.8 L621.0,482.8 L622.0,482.8 L623.0,482.8 L624.0,482.8 L625.0,482.8 L626.0,482.8 L627.0,482.8 L628.0,482.8 L629.0,482.8 L630.0,482.8 L631.0,482.8 L632.0,482.8 L633.0,482.9 L634.0,482.9 L635.0,482.9 L636.0,482.9 L637.0,482.9 L638.0,482.9 L639.0,482.9 L640.0,482.9 L641.0,482.9 L642.0,482.9 L643.0,482.9 L644.0,482.9 L645.0,482.9 L646.0,482.9 L647.0,482.9 L648.0,482.9 L649.0,482.9 L650.0,482.9 L651.0,482.9 L652.0,482.9 L653.0,482.9 L654.0,482.9 L655.0,482.9 L656.0,482.9 L657.0,482.9 L658.0,482.9 L659.0,482.9 L660.0,482.9 L661.0,482.9 L662.0,482.9 L663.0,482.9 L664.0,482.9 L665.0,482.9 L666.0,482.9 L667.0,482.9 L668.0,482.9 L669.0,483.0 L670.0,483.0 L671.0,483.0 L672.0,483.0 L673.0,483.0 L674.0,483.0 L675.0,483.0 L676.0,483.0 L677.0,483.0" fill="none" stroke="#15801f" stroke-width="1.5" stroke-linejoin="round" />
<path d="M391.0,482.6 L392.0,482.6 L393.0,482.6 L394.0,482.6 L395.0,482.6 L396.0,482.6 L397.0,482.6 L398.0,482.6 L399.0,482.6 L400.0,482.6 L401.0,482.5 L402.0,482.5 L403.0,482.5 L404.0,482.5 L405.0,482.5 L406.0,482.5 L407.0,482.5 L408.0,482.5 L409.0,482.5 L410.0,482.5 L411.0,482.5 L412.0,482.5 L413.0,482.5 L414.0,482.5 L415.0,482.5 L416.0,482.5 L417.0,482.4 L418.0,482.4 L419.0,482.4 L420.0,482.4 L421.0,482.4 L422.0,482.4 L423.0,482.4 L424.0,482.4 L425.0,482.4 L426.0,482.4 L427.0,482.4 L428.0,482.4 L429.0,482.4 L430.0,482.3 L431.0,482.3 L432.0,482.3 L433.0,482.3 L434.0,482.3 L435.0,482.3 L436.0,482.3 L437.0,482.3 L438.0,482.3 L439.0,482.3 L440.0,482.2 L441.0,482.2 L442.0,482.2 L443.0,482.2 L444.0,482.2 L445.0,482.2 L446.0,482.2 L447.0,482.2 L448.0,482.2 L449.0,482.1 L450.0,482.1 L451.0,482.1 L452.0,482.1 L453.0,482.1 L454.0,482.1 L455.0,482.1 L456.0,482.1 L457.0,482.0 L458.0,482.0 L459.0,482.0 L460.0,482.0 L461.0,482.0 L462.0,482.0 L463.0,481.9 L464.0,481.9 L465.0,481.9 L466.0,481.9 L467.0,481.9 L468.0,481.9 L469.0,481.8 L470.0,481.8 L471.0,481.8 L472.0,481.8 L473.0,481.8 L474.0,481.7 L475.0,481.7 L476.0,481.7 L477.0,481.7 L478.0,481.7 L479.0,481.6 L480.0,481.6 L481.0,481.6 L482.0,481.6 L483.0,481.5 L484.0,481.5 L485.0,481.5 L486.0,481.5 L487.0,481.4 L488.0,481.4 L489.0,481.4 L490.0,481.3 L491.0,481.3 L492.0,481.3 L493.0,481.2 L494.0,481.2 L495.0,481.2 L496.0,481.1 L497.0,481.1 L498.0,481.1 L499.0,481.0 L500.0,481.0 L501.0,480.9 L502.0,480.9 L503.0,480.8 L504.0,480.8 L505.0,480.8 L506.0,480.7 L507.0,480.7 L508.0,480.6 L509.0,480.6 L510.0,480.5 L511.0,480.4 L512.0,480.4 L513.0,480.3 L514.0,480.3 L515.0,480.2 L516.0,480.1 L517.0,480.1 L518.0,480.0 L519.0,479.9 L520.0,479.8 L521.0,479.8 L522.0,479.7 L523.0,479.6 L524.0,479.5 L525.0,479.4 L526.0,479.3 L527.0,479.2 L528.0,479.1 L529.0,479.0 L530.0,478.9 L531.0,478.8 L532.0,478.7 L533.0,478.5 L534.0,478.4 L535.0,478.3 L536.0,478.1 L537.0,478.0 L538.0,477.8 L539.0,477.7 L540.0,477.5 L541.0,477.3 L542.0,477.1 L543.0,476.9 L544.0,476.7 L545.0,476.5 L546.0,476.3 L547.0,476.1 L548.0,475.8 L549.0,475.6 L550.0,475.3 L551.0,475.0 L552.0,474.7 L553.0,474.4 L554.0,474.0 L555.0,473.6 L556.0,473.3 L557.0,472.8 L558.0,472.4 L559.0,471.9 L560.0,471.5 L561.0,470.9 L562.0,470.4 L563.0,469.8 L564.0,469.1 L565.0,468.4 L566.0,467.7 L567.0,466.9 L568.0,466.0 L569.0,465.1 L570.0,464.1 L571.0,463.1 L572.0,461.9 L573.0,460.6 L574.0,459.3 L575.0,457.8 L576.0,456.1 L577.0,454.3 L578.0,452.4 L579.0,450.3 L580.0,447.9 L581.0,445.3 L582.0,442.5 L583.0,439.4 L584.0,435.9 L585.0,432.1 L586.0,427.8 L587.0,423.2 L588.0,418.0 L589.0,412.3 L590.0,406.1 L591.0,399.3 L592.0,391.9 L593.0,384.0 L594.0,375.6 L595.0,366.8 L596.0,357.9 L597.0,349.2 L598.0,340.9 L599.0,333.5 L600.0,327.5 L601.0,323.3 L602.0,321.3 L603.0,321.5 L604.0,324.0 L605.0,328.6 L606.0,334.9 L607.0,342.5 L608.0,350.9 L609.0,359.7 L610.0,368.6 L611.0,377.3 L612.0,385.6 L613.0,393.4 L614.0,400.7 L615.0,407.4 L616.0,413.5 L617.0,419.1 L618.0,424.1 L619.0,428.7 L620.0,432.9 L621.0,436.6 L622.0,440.0 L623.0,443.1 L624.0,445.9 L625.0,448.4 L626.0,450.7 L627.0,452.8 L628.0,454.7 L629.0,456.5 L630.0,458.1 L631.0,459.5 L632.0,460.9 L633.0,462.1 L634.0,463.3 L635.0,464.3 L636.0,465.3 L637.0,466.2 L638.0,467.1 L639.0,467.8 L640.0,468.6 L641.0,469.3 L642.0,469.9 L643.0,470.5 L644.0,471.0 L645.0,471.6 L646.0,472.0 L647.0,472.5 L648.0,472.9 L649.0,473.3 L650.0,473.7 L651.0,474.1 L652.0,474.4 L653.0,474.7 L654.0,475.0 L655.0,475.3 L656.0,475.6 L657.0,475.9 L658.0,476.1 L659.0,476.4 L660.0,476.6 L661.0,476.8 L662.0,477.0 L663.0,477.2 L664.0,477.4 L665.0,477.5 L666.0,477.7 L667.0,477.9 L668.0,478.0 L669.0,478.2 L670.0,478.3 L671.0,478.4 L672.0,478.6 L673.0,478.7 L674.0,478.8 L675.0,478.9 L676.0,479.0 L677.0,479.1" fill="none" stroke="#e11b1b" stroke-width="1.6" stroke-linejoin="round" />
<path d="M391.0,483.0 L392.0,483.0 L393.0,483.0 L394.0,483.0 L395.0,483.0 L396.0,483.0 L397.0,483.0 L398.0,483.0 L399.0,483.0 L400.0,483.0 L401.0,483.0 L402.0,483.0 L403.0,483.0 L404.0,483.0 L405.0,483.0 L406.0,483.0 L407.0,483.0 L408.0,483.0 L409.0,482.9 L410.0,482.9 L411.0,482.9 L412.0,482.9 L413.0,482.9 L414.0,482.9 L415.0,482.9 L416.0,482.9 L417.0,482.9 L418.0,482.9 L419.0,482.9 L420.0,482.9 L421.0,482.9 L422.0,482.9 L423.0,482.9 L424.0,482.9 L425.0,482.9 L426.0,482.9 L427.0,482.9 L428.0,482.9 L429.0,482.9 L430.0,482.9 L431.0,482.9 L432.0,482.9 L433.0,482.9 L434.0,482.9 L435.0,482.9 L436.0,482.9 L437.0,482.9 L438.0,482.9 L439.0,482.9 L440.0,482.9 L441.0,482.9 L442.0,482.9 L443.0,482.9 L444.0,482.9 L445.0,482.9 L446.0,482.9 L447.0,482.9 L448.0,482.9 L449.0,482.9 L450.0,482.9 L451.0,482.9 L452.0,482.9 L453.0,482.9 L454.0,482.9 L455.0,482.9 L456.0,482.9 L457.0,482.9 L458.0,482.9 L459.0,482.9 L460.0,482.9 L461.0,482.9 L462.0,482.9 L463.0,482.9 L464.0,482.9 L465.0,482.9 L466.0,482.8 L467.0,482.8 L468.0,482.8 L469.0,482.8 L470.0,482.8 L471.0,482.8 L472.0,482.8 L473.0,482.8 L474.0,482.8 L475.0,482.8 L476.0,482.8 L477.0,482.8 L478.0,482.8 L479.0,482.8 L480.0,482.8 L481.0,482.8 L482.0,482.8 L483.0,482.8 L484.0,482.8 L485.0,482.8 L486.0,482.8 L487.0,482.8 L488.0,482.8 L489.0,482.8 L490.0,482.8 L491.0,482.8 L492.0,482.8 L493.0,482.8 L494.0,482.8 L495.0,482.8 L496.0,482.7 L497.0,482.7 L498.0,482.7 L499.0,482.7 L500.0,482.7 L501.0,482.7 L502.0,482.7 L503.0,482.7 L504.0,482.7 L505.0,482.7 L506.0,482.7 L507.0,482.7 L508.0,482.7 L509.0,482.7 L510.0,482.7 L511.0,482.7 L512.0,482.7 L513.0,482.7 L514.0,482.7 L515.0,482.6 L516.0,482.6 L517.0,482.6 L518.0,482.6 L519.0,482.6 L520.0,482.6 L521.0,482.6 L522.0,482.6 L523.0,482.6 L524.0,482.6 L525.0,482.6 L526.0,482.6 L527.0,482.6 L528.0,482.6 L529.0,482.5 L530.0,482.5 L531.0,482.5 L532.0,482.5 L533.0,482.5 L534.0,482.5 L535.0,482.5 L536.0,482.5 L537.0,482.5 L538.0,482.5 L539.0,482.5 L540.0,482.4 L541.0,482.4 L542.0,482.4 L543.0,482.4 L544.0,482.4 L545.0,482.4 L546.0,482.4 L547.0,482.4 L548.0,482.4 L549.0,482.3 L550.0,482.3 L551.0,482.3 L552.0,482.3 L553.0,482.3 L554.0,482.3 L555.0,482.3 L556.0,482.2 L557.0,482.2 L558.0,482.2 L559.0,482.2 L560.0,482.2 L561.0,482.1 L562.0,482.1 L563.0,482.1 L564.0,482.1 L565.0,482.1 L566.0,482.0 L567.0,482.0 L568.0,482.0 L569.0,482.0 L570.0,482.0 L571.0,481.9 L572.0,481.9 L573.0,481.9 L574.0,481.9 L575.0,481.8 L576.0,481.8 L577.0,481.8 L578.0,481.7 L579.0,481.7 L580.0,481.7 L581.0,481.6 L582.0,481.6 L583.0,481.6 L584.0,481.5 L585.0,481.5 L586.0,481.4 L587.0,481.4 L588.0,481.4 L589.0,481.3 L590.0,481.3 L591.0,481.2 L592.0,481.2 L593.0,481.1 L594.0,481.1 L595.0,481.0 L596.0,480.9 L597.0,480.9 L598.0,480.8 L599.0,480.8 L600.0,480.7 L601.0,480.6 L602.0,480.5 L603.0,480.5 L604.0,480.4 L605.0,480.3 L606.0,480.2 L607.0,480.1 L608.0,480.0 L609.0,479.9 L610.0,479.8 L611.0,479.7 L612.0,479.6 L613.0,479.5 L614.0,479.3 L615.0,479.2 L616.0,479.1 L617.0,478.9 L618.0,478.8 L619.0,478.6 L620.0,478.5 L621.0,478.3 L622.0,478.1 L623.0,477.9 L624.0,477.7 L625.0,477.5 L626.0,477.3 L627.0,477.1 L628.0,476.8 L629.0,476.6 L630.0,476.3 L631.0,476.1 L632.0,475.8 L633.0,475.5 L634.0,475.2 L635.0,474.9 L636.0,474.6 L637.0,474.3 L638.0,473.9 L639.0,473.6 L640.0,473.3 L641.0,472.9 L642.0,472.6 L643.0,472.2 L644.0,471.9 L645.0,471.6 L646.0,471.2 L647.0,470.9 L648.0,470.6 L649.0,470.4 L650.0,470.1 L651.0,469.9 L652.0,469.7 L653.0,469.5 L654.0,469.4 L655.0,469.3 L656.0,469.3 L657.0,469.3 L658.0,469.3 L659.0,469.4 L660.0,469.5 L661.0,469.7 L662.0,469.9 L663.0,470.1 L664.0,470.4 L665.0,470.6 L666.0,470.9 L667.0,471.2 L668.0,471.6 L669.0,471.9 L670.0,472.2 L671.0,472.6 L672.0,472.9 L673.0,473.3 L674.0,473.6 L675.0,473.9 L676.0,474.3 L677.0,474.6" fill="none" stroke="#1a1acc" stroke-width="1.5" stroke-linejoin="round" />
</g>
<g clip-path="url(#clipE)">
<path d="M717.8,255.7 L718.6,256.2 L719.4,254.6 L720.2,253.1 L721.0,254.0 L721.8,256.0 L722.6,252.4 L723.4,253.7 L724.2,255.7 L725.0,255.4 L725.8,254.3 L726.6,255.2 L727.4,254.3 L728.2,252.5 L729.0,252.0 L729.8,253.1 L730.6,255.1 L731.4,253.1 L732.2,252.6 L733.0,252.7 L733.8,251.6 L734.6,253.4 L735.4,251.9 L736.2,253.9 L737.0,250.3 L737.8,253.7 L738.6,252.4 L739.4,250.6 L740.2,254.0 L741.0,252.6 L741.8,250.0 L742.6,251.7 L743.4,253.2 L744.2,252.1 L745.0,253.6 L745.8,253.5 L746.6,253.4 L747.4,252.8 L748.2,254.1 L749.0,253.1 L749.8,252.8 L750.6,249.4 L751.4,253.2 L752.2,253.6 L753.0,251.5 L753.8,251.2 L754.6,254.2 L755.4,249.3 L756.2,252.2 L757.0,254.6 L757.8,250.2 L758.6,252.2 L759.4,253.7 L760.2,251.1 L761.0,251.9 L761.8,252.3 L762.6,249.9 L763.4,250.9 L764.2,251.3 L765.0,252.0 L765.8,250.8 L766.6,250.5 L767.4,249.4 L768.2,250.2 L769.0,251.7 L769.8,250.6 L770.6,249.3 L771.4,249.3 L772.2,253.8 L773.0,251.7 L773.8,251.0 L774.6,246.7 L775.4,250.8 L776.2,250.5 L777.0,252.0 L777.8,250.2 L778.6,249.5 L779.4,250.1 L780.2,246.8 L781.0,250.6 L781.8,249.5 L782.6,248.1 L783.4,250.6 L784.2,251.0 L785.0,246.7 L785.8,247.5 L786.6,248.6 L787.4,248.3 L788.2,247.3 L789.0,246.4 L789.8,250.2 L790.6,248.6 L791.4,245.5 L792.2,245.1 L793.0,248.8 L793.8,247.7 L794.6,248.5 L795.4,247.0 L796.2,244.6 L797.0,245.8 L797.8,242.4 L798.6,244.0 L799.4,244.6 L800.2,245.0 L801.0,243.1 L801.8,243.6 L802.6,244.0 L803.4,243.5 L804.2,243.4 L805.0,242.5 L805.8,241.3 L806.6,242.3 L807.4,240.8 L808.2,239.2 L809.0,238.9 L809.8,239.1 L810.6,238.4 L811.4,238.2 L812.2,237.4 L813.0,237.1 L813.8,236.1 L814.6,234.0 L815.4,235.5 L816.2,235.6 L817.0,234.0 L817.8,232.4 L818.6,232.4 L819.4,229.7 L820.2,227.5 L821.0,229.0 L821.8,226.6 L822.6,227.6 L823.4,224.0 L824.2,220.7 L825.0,221.3 L825.8,223.3 L826.6,219.3 L827.4,216.5 L828.2,215.7 L829.0,215.6 L829.8,213.8 L830.6,211.5 L831.4,211.2 L832.2,208.0 L833.0,204.8 L833.8,203.2 L834.6,202.0 L835.4,198.3 L836.2,195.5 L837.0,189.6 L837.8,187.5 L838.6,185.1 L839.4,180.1 L840.2,178.0 L841.0,173.4 L841.8,169.6 L842.6,163.8 L843.4,162.7 L844.2,155.9 L845.0,148.8 L845.8,143.7 L846.6,141.5 L847.4,132.2 L848.2,128.3 L849.0,123.2 L849.8,117.0 L850.6,110.7 L851.4,107.7 L852.2,103.2 L853.0,99.6 L853.8,95.0 L854.6,90.1 L855.4,87.9 L856.2,84.8 L857.0,82.0 L857.8,79.9 L858.6,78.0 L859.4,78.0 L860.2,74.9 L861.0,75.0 L861.8,75.7 L862.6,74.0 L863.4,75.9 L864.2,74.7 L865.0,77.7 L865.8,80.9 L866.6,82.7 L867.4,84.1 L868.2,86.6 L869.0,88.2 L869.8,95.8 L870.6,97.6 L871.4,101.9 L872.2,102.9 L873.0,107.2 L873.8,108.6 L874.6,115.6 L875.4,119.5 L876.2,119.5 L877.0,125.6 L877.8,130.2 L878.6,130.7 L879.4,134.1 L880.2,138.5 L881.0,142.5 L881.8,144.9 L882.6,150.1 L883.4,153.8 L884.2,157.5 L885.0,160.8 L885.8,164.9 L886.6,167.4 L887.4,166.9 L888.2,170.7 L889.0,172.5 L889.8,175.0 L890.6,178.7 L891.4,181.1 L892.2,183.9 L893.0,183.1 L893.8,185.4 L894.6,188.7 L895.4,189.9 L896.2,191.0 L897.0,192.4 L897.8,192.5 L898.6,195.1 L899.4,195.3 L900.2,195.3 L901.0,195.1 L901.8,196.2 L902.6,193.4 L903.4,196.0 L904.2,197.7 L905.0,195.9 L905.8,198.3 L906.6,198.3 L907.4,196.4 L908.2,197.9 L909.0,197.9 L909.8,198.9 L910.6,199.1 L911.4,198.3 L912.2,197.3 L913.0,198.4 L913.8,198.6 L914.6,199.8 L915.4,199.4 L916.2,198.2 L917.0,197.6 L917.8,199.0 L918.6,198.7 L919.4,198.4 L920.2,199.9 L921.0,199.6 L921.8,200.6 L922.6,201.4 L923.4,200.5 L924.2,204.4 L925.0,201.3 L925.8,203.6 L926.6,202.8 L927.4,204.5 L928.2,200.5 L929.0,203.2 L929.8,205.1 L930.6,206.2 L931.4,209.1 L932.2,207.2 L933.0,209.2 L933.8,209.3 L934.6,210.3 L935.4,210.6 L936.2,210.6 L937.0,212.4 L937.8,211.3 L938.6,215.1 L939.4,213.2 L940.2,215.8 L941.0,219.1 L941.8,217.0 L942.6,218.2 L943.4,220.6 L944.2,219.9 L945.0,219.7 L945.8,221.9 L946.6,223.2 L947.4,224.2 L948.2,223.2 L949.0,227.3 L949.8,228.0 L950.6,226.7 L951.4,227.9 L952.2,227.8 L953.0,231.0 L953.8,229.0 L954.6,231.6 L955.4,230.9 L956.2,231.3 L957.0,233.9 L957.8,235.3 L958.6,234.3 L959.4,234.0 L960.2,236.6 L961.0,236.0 L961.8,237.1 L962.6,239.2 L963.4,239.3 L964.2,237.7 L965.0,241.8 L965.8,239.4 L966.6,240.9 L967.4,239.5 L968.2,240.8 L969.0,239.0 L969.8,244.0 L970.6,243.9 L971.4,241.0 L972.2,241.0 L973.0,241.3 L973.8,245.3 L974.6,243.6 L975.4,244.5 L976.2,244.6 L977.0,245.2 L977.8,244.3 L978.6,246.1 L979.4,244.6 L980.2,246.7 L981.0,247.5 L981.8,248.1 L982.6,247.5 L983.4,246.9 L984.2,248.6 L985.0,248.0 L985.8,251.0 L986.6,250.2 L987.4,249.4 L988.2,249.2 L989.0,249.1 L989.8,249.1 L990.6,250.1 L991.4,251.2 L992.2,251.7 L993.0,252.0 L993.8,254.2 L994.6,250.8 L995.4,252.0 L996.2,255.8 L997.0,250.0 L997.8,251.9 L998.6,253.0 L999.4,253.2 L1000.2,253.8 L1001.0,253.2 L1001.8,254.2 L1002.6,254.0 L1003.4,255.1 L1004.2,251.8 L1005.0,253.3" fill="none" stroke="#111" stroke-width="1.3" stroke-linejoin="round" />
<path d="M717.8,262.5 L718.8,262.5 L719.8,262.5 L720.8,262.5 L721.8,262.5 L722.8,262.5 L723.8,262.5 L724.8,262.4 L725.8,262.4 L726.8,262.4 L727.8,262.4 L728.8,262.4 L729.8,262.4 L730.8,262.4 L731.8,262.4 L732.8,262.3 L733.8,262.3 L734.8,262.3 L735.8,262.3 L736.8,262.3 L737.8,262.3 L738.8,262.2 L739.8,262.2 L740.8,262.2 L741.8,262.2 L742.8,262.2 L743.8,262.2 L744.8,262.1 L745.8,262.1 L746.8,262.1 L747.8,262.1 L748.8,262.1 L749.8,262.0 L750.8,262.0 L751.8,262.0 L752.8,262.0 L753.8,262.0 L754.8,261.9 L755.8,261.9 L756.8,261.9 L757.8,261.9 L758.8,261.8 L759.8,261.8 L760.8,261.8 L761.8,261.8 L762.8,261.7 L763.8,261.7 L764.8,261.7 L765.8,261.6 L766.8,261.6 L767.8,261.6 L768.8,261.6 L769.8,261.5 L770.8,261.5 L771.8,261.5 L772.8,261.4 L773.8,261.4 L774.8,261.3 L775.8,261.3 L776.8,261.3 L777.8,261.2 L778.8,261.2 L779.8,261.1 L780.8,261.1 L781.8,261.1 L782.8,261.0 L783.8,261.0 L784.8,260.9 L785.8,260.9 L786.8,260.8 L787.8,260.7 L788.8,260.7 L789.8,260.6 L790.8,260.6 L791.8,260.5 L792.8,260.5 L793.8,260.4 L794.8,260.3 L795.8,260.2 L796.8,260.2 L797.8,260.1 L798.8,260.0 L799.8,259.9 L800.8,259.9 L801.8,259.8 L802.8,259.7 L803.8,259.6 L804.8,259.5 L805.8,259.4 L806.8,259.3 L807.8,259.2 L808.8,259.1 L809.8,259.0 L810.8,258.8 L811.8,258.7 L812.8,258.6 L813.8,258.4 L814.8,258.3 L815.8,258.2 L816.8,258.0 L817.8,257.8 L818.8,257.7 L819.8,257.5 L820.8,257.3 L821.8,257.1 L822.8,256.9 L823.8,256.7 L824.8,256.5 L825.8,256.2 L826.8,256.0 L827.8,255.7 L828.8,255.4 L829.8,255.2 L830.8,254.8 L831.8,254.5 L832.8,254.2 L833.8,253.8 L834.8,253.4 L835.8,253.0 L836.8,252.6 L837.8,252.2 L838.8,251.7 L839.8,251.2 L840.8,250.6 L841.8,250.0 L842.8,249.4 L843.8,248.7 L844.8,248.0 L845.8,247.3 L846.8,246.4 L847.8,245.6 L848.8,244.6 L849.8,243.6 L850.8,242.5 L851.8,241.3 L852.8,240.1 L853.8,238.7 L854.8,237.3 L855.8,235.7 L856.8,234.0 L857.8,232.2 L858.8,230.2 L859.8,228.1 L860.8,225.8 L861.8,223.4 L862.8,220.9 L863.8,218.2 L864.8,215.3 L865.8,212.4 L866.8,209.4 L867.8,206.4 L868.8,203.5 L869.8,200.7 L870.8,198.1 L871.8,195.9 L872.8,194.3 L873.8,193.3 L874.8,193.2 L875.8,193.8 L876.8,195.1 L877.8,196.9 L878.8,199.2 L879.8,201.8 L880.8,204.7 L881.8,207.8 L882.8,210.9 L883.8,214.0 L884.8,217.1 L885.8,220.1 L886.8,222.9 L887.8,225.5 L888.8,228.1 L889.8,230.4 L890.8,232.6 L891.8,234.6 L892.8,236.5 L893.8,238.2 L894.8,239.8 L895.8,241.3 L896.8,242.6 L897.8,243.9 L898.8,245.1 L899.8,246.1 L900.8,247.1 L901.8,248.0 L902.8,248.9 L903.8,249.6 L904.8,250.4 L905.8,251.1 L906.8,251.7 L907.8,252.3 L908.8,252.8 L909.8,253.3 L910.8,253.8 L911.8,254.2 L912.8,254.6 L913.8,255.0 L914.8,255.4 L915.8,255.7 L916.8,256.1 L917.8,256.4 L918.8,256.7 L919.8,256.9 L920.8,257.2 L921.8,257.4 L922.8,257.7 L923.8,257.9 L924.8,258.1 L925.8,258.3 L926.8,258.4 L927.8,258.6 L928.8,258.8 L929.8,258.9 L930.8,259.1 L931.8,259.2 L932.8,259.4 L933.8,259.5 L934.8,259.6 L935.8,259.7 L936.8,259.9 L937.8,260.0 L938.8,260.1 L939.8,260.2 L940.8,260.3 L941.8,260.4 L942.8,260.4 L943.8,260.5 L944.8,260.6 L945.8,260.7 L946.8,260.8 L947.8,260.8 L948.8,260.9 L949.8,261.0 L950.8,261.0 L951.8,261.1 L952.8,261.1 L953.8,261.2 L954.8,261.3 L955.8,261.3 L956.8,261.4 L957.8,261.4 L958.8,261.5 L959.8,261.5 L960.8,261.5 L961.8,261.6 L962.8,261.6 L963.8,261.7 L964.8,261.7 L965.8,261.8 L966.8,261.8 L967.8,261.8 L968.8,261.9 L969.8,261.9 L970.8,261.9 L971.8,262.0 L972.8,262.0 L973.8,262.0 L974.8,262.0 L975.8,262.1 L976.8,262.1 L977.8,262.1 L978.8,262.2 L979.8,262.2 L980.8,262.2 L981.8,262.2 L982.8,262.2 L983.8,262.3 L984.8,262.3 L985.8,262.3 L986.8,262.3 L987.8,262.4 L988.8,262.4 L989.8,262.4 L990.8,262.4 L991.8,262.4 L992.8,262.4 L993.8,262.5 L994.8,262.5 L995.8,262.5 L996.8,262.5 L997.8,262.5 L998.8,262.5 L999.8,262.6 L1000.8,262.6 L1001.8,262.6 L1002.8,262.6 L1003.8,262.6" fill="none" stroke="#e11b1b" stroke-width="1.5" stroke-linejoin="round" />
<path d="M717.8,260.2 L718.8,260.2 L719.8,260.1 L720.8,260.1 L721.8,260.0 L722.8,260.0 L723.8,260.0 L724.8,259.9 L725.8,259.9 L726.8,259.8 L727.8,259.8 L728.8,259.7 L729.8,259.7 L730.8,259.6 L731.8,259.6 L732.8,259.5 L733.8,259.5 L734.8,259.4 L735.8,259.4 L736.8,259.3 L737.8,259.3 L738.8,259.2 L739.8,259.2 L740.8,259.1 L741.8,259.0 L742.8,259.0 L743.8,258.9 L744.8,258.8 L745.8,258.8 L746.8,258.7 L747.8,258.6 L748.8,258.6 L749.8,258.5 L750.8,258.4 L751.8,258.3 L752.8,258.3 L753.8,258.2 L754.8,258.1 L755.8,258.0 L756.8,257.9 L757.8,257.8 L758.8,257.7 L759.8,257.7 L760.8,257.6 L761.8,257.5 L762.8,257.4 L763.8,257.3 L764.8,257.1 L765.8,257.0 L766.8,256.9 L767.8,256.8 L768.8,256.7 L769.8,256.6 L770.8,256.4 L771.8,256.3 L772.8,256.2 L773.8,256.0 L774.8,255.9 L775.8,255.8 L776.8,255.6 L777.8,255.5 L778.8,255.3 L779.8,255.1 L780.8,255.0 L781.8,254.8 L782.8,254.6 L783.8,254.4 L784.8,254.2 L785.8,254.0 L786.8,253.8 L787.8,253.6 L788.8,253.4 L789.8,253.1 L790.8,252.9 L791.8,252.7 L792.8,252.4 L793.8,252.1 L794.8,251.9 L795.8,251.6 L796.8,251.3 L797.8,251.0 L798.8,250.6 L799.8,250.3 L800.8,250.0 L801.8,249.6 L802.8,249.2 L803.8,248.8 L804.8,248.4 L805.8,248.0 L806.8,247.5 L807.8,247.0 L808.8,246.5 L809.8,246.0 L810.8,245.5 L811.8,244.9 L812.8,244.3 L813.8,243.7 L814.8,243.0 L815.8,242.3 L816.8,241.6 L817.8,240.8 L818.8,240.0 L819.8,239.1 L820.8,238.2 L821.8,237.3 L822.8,236.2 L823.8,235.2 L824.8,234.0 L825.8,232.8 L826.8,231.5 L827.8,230.1 L828.8,228.7 L829.8,227.1 L830.8,225.4 L831.8,223.6 L832.8,221.7 L833.8,219.7 L834.8,217.5 L835.8,215.1 L836.8,212.6 L837.8,209.9 L838.8,207.0 L839.8,203.9 L840.8,200.5 L841.8,196.9 L842.8,193.1 L843.8,188.9 L844.8,184.5 L845.8,179.8 L846.8,174.7 L847.8,169.4 L848.8,163.9 L849.8,158.1 L850.8,152.2 L851.8,146.2 L852.8,140.3 L853.8,134.7 L854.8,129.7 L855.8,125.4 L856.8,122.5 L857.8,122.0 L858.8,123.4 L859.8,126.3 L860.8,130.3 L861.8,135.1 L862.8,140.6 L863.8,146.5 L864.8,152.7 L865.8,158.9 L866.8,165.0 L867.8,171.0 L868.8,176.7 L869.8,182.2 L870.8,187.3 L871.8,192.2 L872.8,196.7 L873.8,200.9 L874.8,204.8 L875.8,208.4 L876.8,211.8 L877.8,214.9 L878.8,217.7 L879.8,220.4 L880.8,222.8 L881.8,225.1 L882.8,227.2 L883.8,229.1 L884.8,230.9 L885.8,232.6 L886.8,234.2 L887.8,235.6 L888.8,237.0 L889.8,238.2 L890.8,239.4 L891.8,240.5 L892.8,241.5 L893.8,242.5 L894.8,243.4 L895.8,244.3 L896.8,245.1 L897.8,245.8 L898.8,246.5 L899.8,247.2 L900.8,247.8 L901.8,248.4 L902.8,249.0 L903.8,249.5 L904.8,250.0 L905.8,250.5 L906.8,250.9 L907.8,251.4 L908.8,251.8 L909.8,252.2 L910.8,252.5 L911.8,252.9 L912.8,253.2 L913.8,253.5 L914.8,253.8 L915.8,254.1 L916.8,254.4 L917.8,254.7 L918.8,254.9 L919.8,255.2 L920.8,255.4 L921.8,255.6 L922.8,255.8 L923.8,256.0 L924.8,256.2 L925.8,256.4 L926.8,256.6 L927.8,256.8 L928.8,257.0 L929.8,257.1 L930.8,257.3 L931.8,257.4 L932.8,257.6 L933.8,257.7 L934.8,257.9 L935.8,258.0 L936.8,258.1 L937.8,258.2 L938.8,258.4 L939.8,258.5 L940.8,258.6 L941.8,258.7 L942.8,258.8 L943.8,258.9 L944.8,259.0 L945.8,259.1 L946.8,259.2 L947.8,259.3 L948.8,259.3 L949.8,259.4 L950.8,259.5 L951.8,259.6 L952.8,259.7 L953.8,259.7 L954.8,259.8 L955.8,259.9 L956.8,259.9 L957.8,260.0 L958.8,260.1 L959.8,260.1 L960.8,260.2 L961.8,260.2 L962.8,260.3 L963.8,260.4 L964.8,260.4 L965.8,260.5 L966.8,260.5 L967.8,260.6 L968.8,260.6 L969.8,260.7 L970.8,260.7 L971.8,260.8 L972.8,260.8 L973.8,260.8 L974.8,260.9 L975.8,260.9 L976.8,261.0 L977.8,261.0 L978.8,261.0 L979.8,261.1 L980.8,261.1 L981.8,261.2 L982.8,261.2 L983.8,261.2 L984.8,261.3 L985.8,261.3 L986.8,261.3 L987.8,261.4 L988.8,261.4 L989.8,261.4 L990.8,261.4 L991.8,261.5 L992.8,261.5 L993.8,261.5 L994.8,261.6 L995.8,261.6 L996.8,261.6 L997.8,261.6 L998.8,261.7 L999.8,261.7 L1000.8,261.7 L1001.8,261.7 L1002.8,261.7 L1003.8,261.8" fill="none" stroke="#15801f" stroke-width="1.5" stroke-linejoin="round" />
<path d="M717.8,262.3 L718.8,262.3 L719.8,262.2 L720.8,262.2 L721.8,262.2 L722.8,262.2 L723.8,262.2 L724.8,262.2 L725.8,262.2 L726.8,262.1 L727.8,262.1 L728.8,262.1 L729.8,262.1 L730.8,262.1 L731.8,262.1 L732.8,262.1 L733.8,262.1 L734.8,262.0 L735.8,262.0 L736.8,262.0 L737.8,262.0 L738.8,262.0 L739.8,262.0 L740.8,261.9 L741.8,261.9 L742.8,261.9 L743.8,261.9 L744.8,261.9 L745.8,261.9 L746.8,261.8 L747.8,261.8 L748.8,261.8 L749.8,261.8 L750.8,261.8 L751.8,261.7 L752.8,261.7 L753.8,261.7 L754.8,261.7 L755.8,261.7 L756.8,261.6 L757.8,261.6 L758.8,261.6 L759.8,261.6 L760.8,261.6 L761.8,261.5 L762.8,261.5 L763.8,261.5 L764.8,261.5 L765.8,261.4 L766.8,261.4 L767.8,261.4 L768.8,261.4 L769.8,261.3 L770.8,261.3 L771.8,261.3 L772.8,261.3 L773.8,261.2 L774.8,261.2 L775.8,261.2 L776.8,261.1 L777.8,261.1 L778.8,261.1 L779.8,261.0 L780.8,261.0 L781.8,261.0 L782.8,260.9 L783.8,260.9 L784.8,260.9 L785.8,260.8 L786.8,260.8 L787.8,260.8 L788.8,260.7 L789.8,260.7 L790.8,260.6 L791.8,260.6 L792.8,260.6 L793.8,260.5 L794.8,260.5 L795.8,260.4 L796.8,260.4 L797.8,260.3 L798.8,260.3 L799.8,260.3 L800.8,260.2 L801.8,260.2 L802.8,260.1 L803.8,260.0 L804.8,260.0 L805.8,259.9 L806.8,259.9 L807.8,259.8 L808.8,259.8 L809.8,259.7 L810.8,259.6 L811.8,259.6 L812.8,259.5 L813.8,259.5 L814.8,259.4 L815.8,259.3 L816.8,259.2 L817.8,259.2 L818.8,259.1 L819.8,259.0 L820.8,258.9 L821.8,258.9 L822.8,258.8 L823.8,258.7 L824.8,258.6 L825.8,258.5 L826.8,258.4 L827.8,258.3 L828.8,258.2 L829.8,258.1 L830.8,258.0 L831.8,257.9 L832.8,257.8 L833.8,257.7 L834.8,257.6 L835.8,257.5 L836.8,257.4 L837.8,257.3 L838.8,257.1 L839.8,257.0 L840.8,256.9 L841.8,256.7 L842.8,256.6 L843.8,256.4 L844.8,256.3 L845.8,256.1 L846.8,256.0 L847.8,255.8 L848.8,255.6 L849.8,255.5 L850.8,255.3 L851.8,255.1 L852.8,254.9 L853.8,254.7 L854.8,254.5 L855.8,254.3 L856.8,254.1 L857.8,253.8 L858.8,253.6 L859.8,253.4 L860.8,253.1 L861.8,252.8 L862.8,252.6 L863.8,252.3 L864.8,252.0 L865.8,251.7 L866.8,251.4 L867.8,251.1 L868.8,250.8 L869.8,250.4 L870.8,250.1 L871.8,249.7 L872.8,249.3 L873.8,249.0 L874.8,248.5 L875.8,248.1 L876.8,247.7 L877.8,247.2 L878.8,246.8 L879.8,246.3 L880.8,245.8 L881.8,245.3 L882.8,244.8 L883.8,244.2 L884.8,243.6 L885.8,243.0 L886.8,242.4 L887.8,241.8 L888.8,241.1 L889.8,240.5 L890.8,239.8 L891.8,239.1 L892.8,238.3 L893.8,237.6 L894.8,236.8 L895.8,236.0 L896.8,235.2 L897.8,234.4 L898.8,233.5 L899.8,232.6 L900.8,231.7 L901.8,230.8 L902.8,229.9 L903.8,229.0 L904.8,228.1 L905.8,227.2 L906.8,226.2 L907.8,225.3 L908.8,224.4 L909.8,223.5 L910.8,222.7 L911.8,221.8 L912.8,221.0 L913.8,220.2 L914.8,219.5 L915.8,218.8 L916.8,218.1 L917.8,217.5 L918.8,217.0 L919.8,216.6 L920.8,216.2 L921.8,215.9 L922.8,215.7 L923.8,215.6 L924.8,215.5 L925.8,215.5 L926.8,215.7 L927.8,215.9 L928.8,216.1 L929.8,216.5 L930.8,216.9 L931.8,217.4 L932.8,218.0 L933.8,218.6 L934.8,219.3 L935.8,220.0 L936.8,220.8 L937.8,221.6 L938.8,222.5 L939.8,223.3 L940.8,224.2 L941.8,225.1 L942.8,226.1 L943.8,227.0 L944.8,227.9 L945.8,228.8 L946.8,229.8 L947.8,230.7 L948.8,231.6 L949.8,232.5 L950.8,233.3 L951.8,234.2 L952.8,235.0 L953.8,235.8 L954.8,236.6 L955.8,237.4 L956.8,238.2 L957.8,238.9 L958.8,239.6 L959.8,240.3 L960.8,241.0 L961.8,241.7 L962.8,242.3 L963.8,242.9 L964.8,243.5 L965.8,244.1 L966.8,244.6 L967.8,245.2 L968.8,245.7 L969.8,246.2 L970.8,246.7 L971.8,247.2 L972.8,247.6 L973.8,248.0 L974.8,248.5 L975.8,248.9 L976.8,249.3 L977.8,249.6 L978.8,250.0 L979.8,250.4 L980.8,250.7 L981.8,251.0 L982.8,251.4 L983.8,251.7 L984.8,252.0 L985.8,252.2 L986.8,252.5 L987.8,252.8 L988.8,253.1 L989.8,253.3 L990.8,253.5 L991.8,253.8 L992.8,254.0 L993.8,254.2 L994.8,254.4 L995.8,254.7 L996.8,254.9 L997.8,255.0 L998.8,255.2 L999.8,255.4 L1000.8,255.6 L1001.8,255.8 L1002.8,255.9 L1003.8,256.1" fill="none" stroke="#19e0e8" stroke-width="1.6" stroke-linejoin="round" />
<path d="M717.8,261.7 L718.8,261.5 L719.8,261.3 L720.8,261.1 L721.8,260.9 L722.8,260.7 L723.8,260.5 L724.8,260.3 L725.8,260.1 L726.8,259.9 L727.8,259.7 L728.8,259.5 L729.8,259.3 L730.8,259.1 L731.8,258.9 L732.8,258.7 L733.8,258.6 L734.8,258.4 L735.8,258.3 L736.8,258.2 L737.8,258.1 L738.8,258.1 L739.8,258.0 L740.8,258.0 L741.8,258.0 L742.8,258.0 L743.8,258.1 L744.8,258.2 L745.8,258.3 L746.8,258.4 L747.8,258.5 L748.8,258.6 L749.8,258.8 L750.8,259.0 L751.8,259.2 L752.8,259.4 L753.8,259.6 L754.8,259.8 L755.8,260.0 L756.8,260.2 L757.8,260.4 L758.8,260.6 L759.8,260.9 L760.8,261.1 L761.8,261.3 L762.8,261.4 L763.8,261.6 L764.8,261.8 L765.8,262.0 L766.8,262.1 L767.8,262.3 L768.8,262.4 L769.8,262.5 L770.8,262.6 L771.8,262.7 L772.8,262.8 L773.8,262.9 L774.8,263.0 L775.8,263.0 L776.8,263.1 L777.8,263.2 L778.8,263.2 L779.8,263.3 L780.8,263.3 L781.8,263.3 L782.8,263.4 L783.8,263.4 L784.8,263.4 L785.8,263.4 L786.8,263.4 L787.8,263.4 L788.8,263.5 L789.8,263.5 L790.8,263.5 L791.8,263.5 L792.8,263.5 L793.8,263.5 L794.8,263.5 L795.8,263.5 L796.8,263.5 L797.8,263.5 L798.8,263.5 L799.8,263.5 L800.8,263.5 L801.8,263.5 L802.8,263.5 L803.8,263.5 L804.8,263.5 L805.8,263.5 L806.8,263.5 L807.8,263.5 L808.8,263.5 L809.8,263.5 L810.8,263.5 L811.8,263.5 L812.8,263.5 L813.8,263.5 L814.8,263.5 L815.8,263.5 L816.8,263.5 L817.8,263.5 L818.8,263.5 L819.8,263.5 L820.8,263.5 L821.8,263.5 L822.8,263.5 L823.8,263.5 L824.8,263.5 L825.8,263.5 L826.8,263.5 L827.8,263.5 L828.8,263.5 L829.8,263.5 L830.8,263.5 L831.8,263.5 L832.8,263.5 L833.8,263.5 L834.8,263.5 L835.8,263.5 L836.8,263.5 L837.8,263.5 L838.8,263.5 L839.8,263.5 L840.8,263.5 L841.8,263.5 L842.8,263.5 L843.8,263.5 L844.8,263.5 L845.8,263.5 L846.8,263.5 L847.8,263.5 L848.8,263.5 L849.8,263.5 L850.8,263.5 L851.8,263.5 L852.8,263.5 L853.8,263.5 L854.8,263.5 L855.8,263.5 L856.8,263.5 L857.8,263.5 L858.8,263.5 L859.8,263.5 L860.8,263.5 L861.8,263.5 L862.8,263.5 L863.8,263.5 L864.8,263.5 L865.8,263.5 L866.8,263.5 L867.8,263.5 L868.8,263.5 L869.8,263.5 L870.8,263.5 L871.8,263.5 L872.8,263.5 L873.8,263.5 L874.8,263.5 L875.8,263.5 L876.8,263.5 L877.8,263.5 L878.8,263.5 L879.8,263.5 L880.8,263.5 L881.8,263.5 L882.8,263.5 L883.8,263.5 L884.8,263.5 L885.8,263.5 L886.8,263.5 L887.8,263.5 L888.8,263.5 L889.8,263.5 L890.8,263.5 L891.8,263.5 L892.8,263.5 L893.8,263.5 L894.8,263.5 L895.8,263.5 L896.8,263.5 L897.8,263.5 L898.8,263.5 L899.8,263.5 L900.8,263.5 L901.8,263.5 L902.8,263.5 L903.8,263.5 L904.8,263.5 L905.8,263.5 L906.8,263.5 L907.8,263.5 L908.8,263.5 L909.8,263.5 L910.8,263.5 L911.8,263.5 L912.8,263.5 L913.8,263.5 L914.8,263.5 L915.8,263.5 L916.8,263.5 L917.8,263.5 L918.8,263.5 L919.8,263.5 L920.8,263.5 L921.8,263.5 L922.8,263.5 L923.8,263.5 L924.8,263.5 L925.8,263.5 L926.8,263.5 L927.8,263.5 L928.8,263.5 L929.8,263.5 L930.8,263.5 L931.8,263.5 L932.8,263.5 L933.8,263.5 L934.8,263.5 L935.8,263.5 L936.8,263.5 L937.8,263.5 L938.8,263.5 L939.8,263.5 L940.8,263.5 L941.8,263.5 L942.8,263.5 L943.8,263.5 L944.8,263.5 L945.8,263.5 L946.8,263.5 L947.8,263.5 L948.8,263.5 L949.8,263.5 L950.8,263.5 L951.8,263.5 L952.8,263.5 L953.8,263.5 L954.8,263.5 L955.8,263.5 L956.8,263.5 L957.8,263.5 L958.8,263.5 L959.8,263.5 L960.8,263.5 L961.8,263.5 L962.8,263.5 L963.8,263.5 L964.8,263.5 L965.8,263.5 L966.8,263.5 L967.8,263.5 L968.8,263.5 L969.8,263.5 L970.8,263.5 L971.8,263.5 L972.8,263.5 L973.8,263.5 L974.8,263.5 L975.8,263.5 L976.8,263.5 L977.8,263.5 L978.8,263.5 L979.8,263.5 L980.8,263.5 L981.8,263.5 L982.8,263.5 L983.8,263.5 L984.8,263.5 L985.8,263.5 L986.8,263.5 L987.8,263.5 L988.8,263.5 L989.8,263.5 L990.8,263.5 L991.8,263.5 L992.8,263.5 L993.8,263.5 L994.8,263.5 L995.8,263.5 L996.8,263.5 L997.8,263.5 L998.8,263.5 L999.8,263.5 L1000.8,263.5 L1001.8,263.5 L1002.8,263.5 L1003.8,263.5" fill="none" stroke="#1a1acc" stroke-width="1.5" stroke-linejoin="round" />
<path d="M717.8,255.0 L718.8,254.9 L719.8,254.8 L720.8,254.7 L721.8,254.6 L722.8,254.5 L723.8,254.4 L724.8,254.4 L725.8,254.3 L726.8,254.2 L727.8,254.1 L728.8,254.0 L729.8,253.9 L730.8,253.8 L731.8,253.8 L732.8,253.7 L733.8,253.6 L734.8,253.5 L735.8,253.4 L736.8,253.3 L737.8,253.3 L738.8,253.2 L739.8,253.1 L740.8,253.0 L741.8,252.9 L742.8,252.8 L743.8,252.7 L744.8,252.7 L745.8,252.6 L746.8,252.5 L747.8,252.4 L748.8,252.3 L749.8,252.2 L750.8,252.1 L751.8,252.0 L752.8,251.9 L753.8,251.8 L754.8,251.7 L755.8,251.6 L756.8,251.5 L757.8,251.4 L758.8,251.3 L759.8,251.3 L760.8,251.2 L761.8,251.1 L762.8,251.0 L763.8,251.0 L764.8,250.9 L765.8,250.8 L766.8,250.7 L767.8,250.7 L768.8,250.6 L769.8,250.5 L770.8,250.4 L771.8,250.3 L772.8,250.2 L773.8,250.1 L774.8,250.0 L775.8,249.9 L776.8,249.8 L777.8,249.7 L778.8,249.6 L779.8,249.4 L780.8,249.3 L781.8,249.1 L782.8,248.9 L783.8,248.8 L784.8,248.6 L785.8,248.4 L786.8,248.2 L787.8,247.9 L788.8,247.7 L789.8,247.4 L790.8,247.2 L791.8,246.9 L792.8,246.7 L793.8,246.4 L794.8,246.1 L795.8,245.8 L796.8,245.5 L797.8,245.2 L798.8,244.9 L799.8,244.5 L800.8,244.1 L801.8,243.7 L802.8,243.3 L803.8,242.8 L804.8,242.3 L805.8,241.7 L806.8,241.2 L807.8,240.5 L808.8,239.8 L809.8,239.1 L810.8,238.4 L811.8,237.7 L812.8,237.0 L813.8,236.2 L814.8,235.4 L815.8,234.6 L816.8,233.7 L817.8,232.7 L818.8,231.6 L819.8,230.5 L820.8,229.2 L821.8,227.8 L822.8,226.4 L823.8,224.7 L824.8,223.0 L825.8,221.3 L826.8,219.4 L827.8,217.5 L828.8,215.4 L829.8,213.2 L830.8,210.8 L831.8,208.2 L832.8,205.4 L833.8,202.4 L834.8,199.2 L835.8,195.6 L836.8,191.8 L837.8,187.7 L838.8,183.3 L839.8,178.6 L840.8,173.6 L841.8,168.4 L842.8,162.9 L843.8,156.9 L844.8,150.4 L845.8,143.6 L846.8,136.7 L847.8,129.9 L848.8,123.3 L849.8,117.0 L850.8,111.0 L851.8,105.1 L852.8,99.3 L853.8,93.9 L854.8,89.2 L855.8,85.4 L856.8,82.3 L857.8,79.8 L858.8,78.0 L859.8,76.7 L860.8,75.9 L861.8,75.6 L862.8,76.0 L863.8,76.8 L864.8,78.2 L865.8,80.1 L866.8,82.5 L867.8,85.5 L868.8,89.2 L869.8,93.4 L870.8,97.8 L871.8,102.3 L872.8,106.6 L873.8,111.0 L874.8,115.5 L875.8,120.1 L876.8,124.8 L877.8,129.3 L878.8,133.8 L879.8,138.2 L880.8,142.5 L881.8,146.7 L882.8,150.9 L883.8,155.1 L884.8,159.1 L885.8,162.9 L886.8,166.6 L887.8,170.0 L888.8,173.3 L889.8,176.4 L890.8,179.4 L891.8,182.2 L892.8,184.7 L893.8,187.1 L894.8,189.1 L895.8,190.8 L896.8,192.3 L897.8,193.4 L898.8,194.4 L899.8,195.2 L900.8,195.9 L901.8,196.5 L902.8,197.0 L903.8,197.5 L904.8,197.8 L905.8,198.0 L906.8,198.2 L907.8,198.2 L908.8,198.3 L909.8,198.3 L910.8,198.4 L911.8,198.4 L912.8,198.5 L913.8,198.7 L914.8,198.9 L915.8,199.1 L916.8,199.3 L917.8,199.5 L918.8,199.7 L919.8,199.9 L920.8,200.2 L921.8,200.5 L922.8,200.8 L923.8,201.2 L924.8,201.6 L925.8,202.1 L926.8,202.7 L927.8,203.3 L928.8,204.0 L929.8,204.8 L930.8,205.6 L931.8,206.4 L932.8,207.3 L933.8,208.3 L934.8,209.3 L935.8,210.4 L936.8,211.5 L937.8,212.7 L938.8,213.8 L939.8,215.0 L940.8,216.1 L941.8,217.3 L942.8,218.4 L943.8,219.5 L944.8,220.5 L945.8,221.6 L946.8,222.7 L947.8,223.7 L948.8,224.8 L949.8,225.9 L950.8,226.9 L951.8,227.9 L952.8,229.0 L953.8,230.0 L954.8,230.9 L955.8,231.9 L956.8,232.8 L957.8,233.6 L958.8,234.4 L959.8,235.2 L960.8,236.0 L961.8,236.7 L962.8,237.4 L963.8,238.1 L964.8,238.7 L965.8,239.4 L966.8,240.0 L967.8,240.6 L968.8,241.2 L969.8,241.7 L970.8,242.3 L971.8,242.8 L972.8,243.3 L973.8,243.8 L974.8,244.3 L975.8,244.8 L976.8,245.3 L977.8,245.7 L978.8,246.2 L979.8,246.6 L980.8,247.0 L981.8,247.4 L982.8,247.8 L983.8,248.2 L984.8,248.6 L985.8,248.9 L986.8,249.3 L987.8,249.6 L988.8,250.0 L989.8,250.3 L990.8,250.6 L991.8,250.9 L992.8,251.2 L993.8,251.5 L994.8,251.8 L995.8,252.1 L996.8,252.3 L997.8,252.6 L998.8,252.9 L999.8,253.1 L1000.8,253.4 L1001.8,253.7 L1002.8,253.9 L1003.8,254.2" fill="none" stroke="#e718e0" stroke-width="1.5" stroke-linejoin="round" />
</g>
<g clip-path="url(#clipF)">
<path d="M717.8,400.5 L718.6,396.7 L719.4,395.5 L720.2,398.7 L721.0,394.1 L721.8,396.2 L722.6,395.2 L723.4,392.8 L724.2,392.0 L725.0,389.1 L725.8,384.4 L726.6,386.7 L727.4,386.6 L728.2,382.8 L729.0,382.6 L729.8,383.5 L730.6,378.0 L731.4,380.7 L732.2,382.7 L733.0,375.2 L733.8,375.9 L734.6,373.9 L735.4,377.2 L736.2,372.9 L737.0,373.2 L737.8,367.9 L738.6,368.5 L739.4,367.4 L740.2,361.7 L741.0,368.9 L741.8,366.4 L742.6,358.4 L743.4,363.8 L744.2,360.5 L745.0,361.0 L745.8,359.7 L746.6,353.9 L747.4,356.2 L748.2,359.7 L749.0,353.4 L749.8,351.3 L750.6,349.6 L751.4,349.1 L752.2,352.4 L753.0,355.1 L753.8,351.1 L754.6,349.9 L755.4,354.4 L756.2,346.6 L757.0,345.5 L757.8,348.0 L758.6,347.5 L759.4,342.9 L760.2,341.9 L761.0,345.2 L761.8,344.6 L762.6,340.1 L763.4,342.5 L764.2,341.2 L765.0,343.3 L765.8,341.4 L766.6,341.1 L767.4,340.0 L768.2,343.3 L769.0,343.8 L769.8,338.9 L770.6,341.7 L771.4,337.2 L772.2,339.0 L773.0,340.5 L773.8,342.2 L774.6,337.0 L775.4,337.6 L776.2,338.0 L777.0,333.4 L777.8,337.2 L778.6,335.2 L779.4,337.7 L780.2,333.7 L781.0,331.3 L781.8,336.5 L782.6,336.9 L783.4,334.7 L784.2,338.3 L785.0,335.2 L785.8,334.3 L786.6,337.0 L787.4,331.6 L788.2,333.9 L789.0,335.5 L789.8,337.7 L790.6,335.0 L791.4,336.2 L792.2,333.7 L793.0,336.2 L793.8,339.8 L794.6,333.7 L795.4,341.7 L796.2,333.9 L797.0,335.7 L797.8,336.2 L798.6,338.5 L799.4,332.7 L800.2,330.5 L801.0,337.7 L801.8,338.2 L802.6,337.8 L803.4,343.1 L804.2,336.9 L805.0,337.0 L805.8,338.8 L806.6,337.3 L807.4,340.6 L808.2,333.0 L809.0,335.2 L809.8,327.2 L810.6,338.1 L811.4,335.0 L812.2,338.3 L813.0,341.4 L813.8,335.7 L814.6,334.9 L815.4,334.2 L816.2,333.1 L817.0,333.5 L817.8,336.6 L818.6,334.8 L819.4,334.7 L820.2,333.8 L821.0,336.3 L821.8,334.8 L822.6,332.7 L823.4,334.4 L824.2,331.7 L825.0,328.6 L825.8,334.7 L826.6,331.4 L827.4,326.9 L828.2,331.4 L829.0,328.6 L829.8,322.8 L830.6,330.1 L831.4,325.9 L832.2,326.5 L833.0,323.8 L833.8,322.0 L834.6,317.5 L835.4,323.3 L836.2,320.0 L837.0,318.3 L837.8,319.1 L838.6,317.6 L839.4,318.3 L840.2,314.7 L841.0,314.8 L841.8,308.5 L842.6,312.2 L843.4,314.4 L844.2,315.4 L845.0,310.4 L845.8,310.3 L846.6,314.2 L847.4,308.7 L848.2,311.2 L849.0,313.6 L849.8,309.5 L850.6,313.0 L851.4,308.4 L852.2,311.5 L853.0,311.6 L853.8,313.1 L854.6,316.9 L855.4,321.5 L856.2,315.2 L857.0,317.2 L857.8,322.1 L858.6,320.2 L859.4,326.6 L860.2,329.1 L861.0,329.4 L861.8,333.9 L862.6,330.9 L863.4,339.2 L864.2,335.6 L865.0,340.3 L865.8,343.3 L866.6,346.3 L867.4,352.2 L868.2,352.7 L869.0,354.0 L869.8,358.8 L870.6,363.8 L871.4,361.9 L872.2,364.8 L873.0,368.8 L873.8,367.9 L874.6,365.3 L875.4,376.4 L876.2,376.8 L877.0,367.0 L877.8,373.1 L878.6,375.2 L879.4,377.5 L880.2,377.6 L881.0,376.0 L881.8,374.7 L882.6,378.4 L883.4,381.4 L884.2,376.5 L885.0,377.2 L885.8,380.3 L886.6,375.8 L887.4,380.6 L888.2,380.6 L889.0,383.2 L889.8,380.6 L890.6,380.5 L891.4,382.2 L892.2,383.4 L893.0,382.1 L893.8,384.1 L894.6,386.2 L895.4,387.6 L896.2,389.1 L897.0,382.8 L897.8,383.9 L898.6,378.6 L899.4,390.2 L900.2,383.5 L901.0,385.4 L901.8,387.0 L902.6,382.2 L903.4,387.0 L904.2,385.8 L905.0,381.2 L905.8,386.7 L906.6,389.0 L907.4,381.0 L908.2,388.0 L909.0,386.5 L909.8,387.2 L910.6,387.2 L911.4,389.5 L912.2,385.7 L913.0,388.8 L913.8,385.8 L914.6,389.2 L915.4,385.6 L916.2,387.9 L917.0,393.2 L917.8,390.4 L918.6,389.5 L919.4,387.7 L920.2,389.4 L921.0,392.8 L921.8,395.7 L922.6,395.3 L923.4,396.7 L924.2,396.4 L925.0,401.3 L925.8,398.0 L926.6,398.9 L927.4,404.0 L928.2,403.1 L929.0,403.5 L929.8,404.0 L930.6,406.1 L931.4,409.6 L932.2,410.0 L933.0,407.0 L933.8,412.2 L934.6,412.6 L935.4,410.6 L936.2,416.2 L937.0,414.4 L937.8,415.2 L938.6,419.1 L939.4,421.4 L940.2,417.1 L941.0,420.9 L941.8,418.3 L942.6,427.5 L943.4,421.0 L944.2,426.2 L945.0,422.2 L945.8,426.8 L946.6,431.2 L947.4,419.6 L948.2,425.8 L949.0,428.9 L949.8,428.0 L950.6,427.2 L951.4,435.2 L952.2,430.4 L953.0,426.5 L953.8,433.6 L954.6,427.5 L955.4,435.5 L956.2,431.6 L957.0,434.0 L957.8,437.4 L958.6,435.0 L959.4,431.6 L960.2,431.3 L961.0,439.3 L961.8,438.6 L962.6,435.1 L963.4,439.9 L964.2,439.4 L965.0,440.3 L965.8,433.2 L966.6,438.8 L967.4,442.4 L968.2,442.4 L969.0,443.2 L969.8,435.0 L970.6,442.3 L971.4,443.5 L972.2,449.3 L973.0,440.6 L973.8,442.6 L974.6,444.0 L975.4,446.6 L976.2,443.5 L977.0,448.0 L977.8,443.4 L978.6,446.5 L979.4,444.8 L980.2,447.0 L981.0,445.1 L981.8,443.1 L982.6,450.5 L983.4,448.8 L984.2,446.9 L985.0,449.2 L985.8,451.7 L986.6,446.9 L987.4,449.5 L988.2,451.5 L989.0,451.8 L989.8,449.9 L990.6,445.7 L991.4,454.7 L992.2,452.7 L993.0,452.2 L993.8,451.7 L994.6,453.5 L995.4,452.0 L996.2,450.8 L997.0,451.8 L997.8,452.5 L998.6,452.8 L999.4,451.6 L1000.2,456.6 L1001.0,451.8 L1001.8,457.2 L1002.6,453.2 L1003.4,457.0 L1004.2,459.9 L1005.0,457.2" fill="none" stroke="#111" stroke-width="1.2" stroke-linejoin="round" />
<path d="M717.8,401.2 L718.8,399.9 L719.8,398.5 L720.8,397.0 L721.8,395.5 L722.8,394.0 L723.8,392.4 L724.8,390.8 L725.8,389.3 L726.8,387.7 L727.8,386.1 L728.8,384.6 L729.8,383.0 L730.8,381.5 L731.8,380.1 L732.8,378.7 L733.8,377.4 L734.8,376.1 L735.8,374.8 L736.8,373.5 L737.8,372.3 L738.8,371.0 L739.8,369.8 L740.8,368.6 L741.8,367.5 L742.8,366.3 L743.8,365.2 L744.8,364.1 L745.8,363.0 L746.8,362.0 L747.8,361.0 L748.8,360.1 L749.8,359.1 L750.8,358.2 L751.8,357.4 L752.8,356.6 L753.8,355.8 L754.8,355.1 L755.8,354.4 L756.8,353.8 L757.8,353.2 L758.8,352.6 L759.8,352.1 L760.8,351.5 L761.8,351.1 L762.8,350.6 L763.8,350.2 L764.8,349.7 L765.8,349.4 L766.8,349.0 L767.8,348.6 L768.8,348.3 L769.8,347.9 L770.8,347.6 L771.8,347.3 L772.8,347.0 L773.8,346.7 L774.8,346.5 L775.8,346.3 L776.8,346.1 L777.8,345.9 L778.8,345.8 L779.8,345.7 L780.8,345.6 L781.8,345.6 L782.8,345.6 L783.8,345.6 L784.8,345.6 L785.8,345.7 L786.8,345.8 L787.8,345.9 L788.8,346.0 L789.8,346.1 L790.8,346.3 L791.8,346.5 L792.8,346.7 L793.8,346.9 L794.8,347.2 L795.8,347.5 L796.8,347.8 L797.8,348.1 L798.8,348.4 L799.8,348.8 L800.8,349.2 L801.8,349.6 L802.8,350.0 L803.8,350.5 L804.8,350.9 L805.8,351.4 L806.8,351.9 L807.8,352.5 L808.8,353.0 L809.8,353.6 L810.8,354.2 L811.8,354.8 L812.8,355.4 L813.8,356.1 L814.8,356.8 L815.8,357.5 L816.8,358.2 L817.8,358.9 L818.8,359.7 L819.8,360.5 L820.8,361.3 L821.8,362.1 L822.8,363.0 L823.8,363.9 L824.8,364.9 L825.8,365.8 L826.8,366.8 L827.8,367.8 L828.8,368.8 L829.8,369.9 L830.8,370.9 L831.8,372.0 L832.8,373.0 L833.8,374.1 L834.8,375.2 L835.8,376.3 L836.8,377.3 L837.8,378.4 L838.8,379.4 L839.8,380.5 L840.8,381.6 L841.8,382.7 L842.8,383.8 L843.8,384.9 L844.8,386.0 L845.8,387.1 L846.8,388.3 L847.8,389.4 L848.8,390.5 L849.8,391.6 L850.8,392.8 L851.8,393.9 L852.8,395.0 L853.8,396.1 L854.8,397.2 L855.8,398.2 L856.8,399.3 L857.8,400.3 L858.8,401.3 L859.8,402.4 L860.8,403.4 L861.8,404.4 L862.8,405.4 L863.8,406.4 L864.8,407.4 L865.8,408.4 L866.8,409.4 L867.8,410.3 L868.8,411.3 L869.8,412.2 L870.8,413.2 L871.8,414.1 L872.8,415.0 L873.8,415.9 L874.8,416.8 L875.8,417.6 L876.8,418.5 L877.8,419.3 L878.8,420.1 L879.8,420.9 L880.8,421.7 L881.8,422.5 L882.8,423.3 L883.8,424.1 L884.8,424.8 L885.8,425.5 L886.8,426.3 L887.8,427.0 L888.8,427.7 L889.8,428.4 L890.8,429.1 L891.8,429.8 L892.8,430.4 L893.8,431.1 L894.8,431.7 L895.8,432.4 L896.8,433.0 L897.8,433.6 L898.8,434.2 L899.8,434.8 L900.8,435.4 L901.8,436.0 L902.8,436.5 L903.8,437.1 L904.8,437.6 L905.8,438.2 L906.8,438.7 L907.8,439.2 L908.8,439.7 L909.8,440.2 L910.8,440.6 L911.8,441.1 L912.8,441.5 L913.8,442.0 L914.8,442.4 L915.8,442.8 L916.8,443.2 L917.8,443.6 L918.8,444.0 L919.8,444.4 L920.8,444.7 L921.8,445.1 L922.8,445.4 L923.8,445.8 L924.8,446.1 L925.8,446.4 L926.8,446.7 L927.8,447.1 L928.8,447.4 L929.8,447.7 L930.8,448.0 L931.8,448.3 L932.8,448.5 L933.8,448.8 L934.8,449.1 L935.8,449.4 L936.8,449.7 L937.8,450.0 L938.8,450.2 L939.8,450.5 L940.8,450.8 L941.8,451.1 L942.8,451.3 L943.8,451.6 L944.8,451.9 L945.8,452.1 L946.8,452.4 L947.8,452.7 L948.8,452.9 L949.8,453.2 L950.8,453.4 L951.8,453.7 L952.8,453.9 L953.8,454.2 L954.8,454.4 L955.8,454.6 L956.8,454.9 L957.8,455.1 L958.8,455.3 L959.8,455.6 L960.8,455.8 L961.8,456.0 L962.8,456.2 L963.8,456.4 L964.8,456.6 L965.8,456.9 L966.8,457.1 L967.8,457.3 L968.8,457.5 L969.8,457.7 L970.8,457.9 L971.8,458.1 L972.8,458.3 L973.8,458.5 L974.8,458.7 L975.8,458.9 L976.8,459.1 L977.8,459.2 L978.8,459.4 L979.8,459.6 L980.8,459.8 L981.8,459.9 L982.8,460.1 L983.8,460.3 L984.8,460.4 L985.8,460.6 L986.8,460.7 L987.8,460.9 L988.8,461.0 L989.8,461.2 L990.8,461.3 L991.8,461.4 L992.8,461.6 L993.8,461.7 L994.8,461.8 L995.8,461.9 L996.8,462.1 L997.8,462.2 L998.8,462.3 L999.8,462.4 L1000.8,462.6 L1001.8,462.7 L1002.8,462.8 L1003.8,462.9" fill="none" stroke="#1a1acc" stroke-width="1.5" stroke-linejoin="round" />
<path d="M717.8,477.5 L718.8,477.5 L719.8,477.5 L720.8,477.5 L721.8,477.5 L722.8,477.5 L723.8,477.5 L724.8,477.5 L725.8,477.4 L726.8,477.4 L727.8,477.4 L728.8,477.4 L729.8,477.4 L730.8,477.4 L731.8,477.4 L732.8,477.4 L733.8,477.3 L734.8,477.3 L735.8,477.3 L736.8,477.3 L737.8,477.3 L738.8,477.3 L739.8,477.3 L740.8,477.3 L741.8,477.2 L742.8,477.2 L743.8,477.2 L744.8,477.2 L745.8,477.2 L746.8,477.2 L747.8,477.2 L748.8,477.1 L749.8,477.1 L750.8,477.1 L751.8,477.1 L752.8,477.1 L753.8,477.0 L754.8,477.0 L755.8,477.0 L756.8,477.0 L757.8,477.0 L758.8,476.9 L759.8,476.9 L760.8,476.9 L761.8,476.9 L762.8,476.8 L763.8,476.8 L764.8,476.8 L765.8,476.7 L766.8,476.7 L767.8,476.7 L768.8,476.7 L769.8,476.6 L770.8,476.6 L771.8,476.5 L772.8,476.5 L773.8,476.5 L774.8,476.4 L775.8,476.4 L776.8,476.3 L777.8,476.3 L778.8,476.3 L779.8,476.2 L780.8,476.2 L781.8,476.1 L782.8,476.1 L783.8,476.0 L784.8,476.0 L785.8,475.9 L786.8,475.8 L787.8,475.8 L788.8,475.7 L789.8,475.7 L790.8,475.6 L791.8,475.5 L792.8,475.5 L793.8,475.4 L794.8,475.3 L795.8,475.3 L796.8,475.2 L797.8,475.1 L798.8,475.0 L799.8,475.0 L800.8,474.9 L801.8,474.8 L802.8,474.7 L803.8,474.7 L804.8,474.6 L805.8,474.5 L806.8,474.4 L807.8,474.3 L808.8,474.2 L809.8,474.1 L810.8,474.0 L811.8,473.9 L812.8,473.8 L813.8,473.7 L814.8,473.6 L815.8,473.5 L816.8,473.4 L817.8,473.2 L818.8,473.1 L819.8,473.0 L820.8,472.9 L821.8,472.7 L822.8,472.6 L823.8,472.4 L824.8,472.3 L825.8,472.2 L826.8,472.0 L827.8,471.8 L828.8,471.7 L829.8,471.5 L830.8,471.4 L831.8,471.2 L832.8,471.1 L833.8,470.9 L834.8,470.8 L835.8,470.6 L836.8,470.5 L837.8,470.3 L838.8,470.1 L839.8,469.9 L840.8,469.8 L841.8,469.6 L842.8,469.4 L843.8,469.2 L844.8,469.0 L845.8,468.8 L846.8,468.6 L847.8,468.3 L848.8,468.1 L849.8,467.8 L850.8,467.6 L851.8,467.3 L852.8,467.0 L853.8,466.7 L854.8,466.4 L855.8,466.1 L856.8,465.8 L857.8,465.4 L858.8,465.0 L859.8,464.6 L860.8,464.2 L861.8,463.8 L862.8,463.4 L863.8,462.9 L864.8,462.5 L865.8,462.0 L866.8,461.5 L867.8,461.0 L868.8,460.4 L869.8,459.9 L870.8,459.3 L871.8,458.8 L872.8,458.2 L873.8,457.6 L874.8,457.0 L875.8,456.4 L876.8,455.8 L877.8,455.1 L878.8,454.4 L879.8,453.7 L880.8,452.9 L881.8,452.1 L882.8,451.3 L883.8,450.5 L884.8,449.8 L885.8,449.0 L886.8,448.2 L887.8,447.4 L888.8,446.6 L889.8,445.9 L890.8,445.2 L891.8,444.5 L892.8,443.8 L893.8,443.1 L894.8,442.4 L895.8,441.7 L896.8,441.0 L897.8,440.4 L898.8,439.7 L899.8,439.1 L900.8,438.4 L901.8,437.8 L902.8,437.3 L903.8,436.7 L904.8,436.2 L905.8,435.7 L906.8,435.3 L907.8,434.8 L908.8,434.4 L909.8,434.0 L910.8,433.7 L911.8,433.4 L912.8,433.2 L913.8,433.0 L914.8,432.9 L915.8,432.9 L916.8,433.0 L917.8,433.1 L918.8,433.3 L919.8,433.5 L920.8,433.8 L921.8,434.2 L922.8,434.6 L923.8,435.0 L924.8,435.5 L925.8,436.0 L926.8,436.6 L927.8,437.3 L928.8,438.0 L929.8,438.7 L930.8,439.5 L931.8,440.3 L932.8,441.1 L933.8,441.9 L934.8,442.8 L935.8,443.6 L936.8,444.4 L937.8,445.2 L938.8,446.0 L939.8,446.7 L940.8,447.5 L941.8,448.2 L942.8,448.9 L943.8,449.7 L944.8,450.4 L945.8,451.2 L946.8,451.9 L947.8,452.7 L948.8,453.4 L949.8,454.2 L950.8,454.9 L951.8,455.6 L952.8,456.3 L953.8,457.0 L954.8,457.6 L955.8,458.2 L956.8,458.9 L957.8,459.4 L958.8,460.0 L959.8,460.5 L960.8,461.1 L961.8,461.5 L962.8,462.0 L963.8,462.5 L964.8,462.9 L965.8,463.3 L966.8,463.8 L967.8,464.2 L968.8,464.5 L969.8,464.9 L970.8,465.3 L971.8,465.6 L972.8,465.9 L973.8,466.3 L974.8,466.6 L975.8,466.9 L976.8,467.2 L977.8,467.5 L978.8,467.8 L979.8,468.1 L980.8,468.4 L981.8,468.7 L982.8,468.9 L983.8,469.2 L984.8,469.4 L985.8,469.7 L986.8,469.9 L987.8,470.1 L988.8,470.4 L989.8,470.6 L990.8,470.8 L991.8,471.0 L992.8,471.2 L993.8,471.4 L994.8,471.5 L995.8,471.7 L996.8,471.9 L997.8,472.1 L998.8,472.2 L999.8,472.4 L1000.8,472.6 L1001.8,472.7 L1002.8,472.9 L1003.8,473.1" fill="none" stroke="#19e0e8" stroke-width="1.6" stroke-linejoin="round" />
<path d="M717.8,476.8 L718.8,476.8 L719.8,476.7 L720.8,476.7 L721.8,476.6 L722.8,476.6 L723.8,476.5 L724.8,476.5 L725.8,476.5 L726.8,476.4 L727.8,476.4 L728.8,476.3 L729.8,476.3 L730.8,476.3 L731.8,476.2 L732.8,476.2 L733.8,476.1 L734.8,476.1 L735.8,476.0 L736.8,476.0 L737.8,475.9 L738.8,475.9 L739.8,475.8 L740.8,475.8 L741.8,475.7 L742.8,475.7 L743.8,475.6 L744.8,475.5 L745.8,475.5 L746.8,475.4 L747.8,475.3 L748.8,475.2 L749.8,475.2 L750.8,475.1 L751.8,475.0 L752.8,474.9 L753.8,474.8 L754.8,474.7 L755.8,474.6 L756.8,474.5 L757.8,474.4 L758.8,474.3 L759.8,474.2 L760.8,474.1 L761.8,474.1 L762.8,474.0 L763.8,473.9 L764.8,473.8 L765.8,473.7 L766.8,473.6 L767.8,473.5 L768.8,473.4 L769.8,473.3 L770.8,473.2 L771.8,473.1 L772.8,472.9 L773.8,472.8 L774.8,472.7 L775.8,472.5 L776.8,472.4 L777.8,472.2 L778.8,472.0 L779.8,471.8 L780.8,471.6 L781.8,471.4 L782.8,471.2 L783.8,471.0 L784.8,470.8 L785.8,470.5 L786.8,470.2 L787.8,469.9 L788.8,469.6 L789.8,469.3 L790.8,469.0 L791.8,468.7 L792.8,468.4 L793.8,468.0 L794.8,467.7 L795.8,467.3 L796.8,466.9 L797.8,466.5 L798.8,466.1 L799.8,465.7 L800.8,465.2 L801.8,464.7 L802.8,464.1 L803.8,463.5 L804.8,462.9 L805.8,462.2 L806.8,461.5 L807.8,460.7 L808.8,459.8 L809.8,458.9 L810.8,458.0 L811.8,457.0 L812.8,455.9 L813.8,454.8 L814.8,453.6 L815.8,452.4 L816.8,451.2 L817.8,449.9 L818.8,448.5 L819.8,447.1 L820.8,445.7 L821.8,444.2 L822.8,442.6 L823.8,441.0 L824.8,439.3 L825.8,437.5 L826.8,435.5 L827.8,433.5 L828.8,431.4 L829.8,429.3 L830.8,427.2 L831.8,425.0 L832.8,422.9 L833.8,420.9 L834.8,418.9 L835.8,417.0 L836.8,415.0 L837.8,413.0 L838.8,411.0 L839.8,409.0 L840.8,407.2 L841.8,405.4 L842.8,403.8 L843.8,402.4 L844.8,401.3 L845.8,400.3 L846.8,399.4 L847.8,398.8 L848.8,398.3 L849.8,398.0 L850.8,397.9 L851.8,398.1 L852.8,398.4 L853.8,399.0 L854.8,399.8 L855.8,400.8 L856.8,402.0 L857.8,403.3 L858.8,404.8 L859.8,406.4 L860.8,408.2 L861.8,410.3 L862.8,412.5 L863.8,414.8 L864.8,417.2 L865.8,419.6 L866.8,422.0 L867.8,424.3 L868.8,426.4 L869.8,428.6 L870.8,430.7 L871.8,432.9 L872.8,435.1 L873.8,437.2 L874.8,439.3 L875.8,441.4 L876.8,443.3 L877.8,445.2 L878.8,446.9 L879.8,448.5 L880.8,450.0 L881.8,451.3 L882.8,452.6 L883.8,453.8 L884.8,455.0 L885.8,456.1 L886.8,457.1 L887.8,458.0 L888.8,458.9 L889.8,459.8 L890.8,460.6 L891.8,461.4 L892.8,462.1 L893.8,462.9 L894.8,463.6 L895.8,464.3 L896.8,464.9 L897.8,465.5 L898.8,466.0 L899.8,466.6 L900.8,467.0 L901.8,467.5 L902.8,467.9 L903.8,468.3 L904.8,468.6 L905.8,469.0 L906.8,469.3 L907.8,469.6 L908.8,469.9 L909.8,470.2 L910.8,470.4 L911.8,470.7 L912.8,470.9 L913.8,471.2 L914.8,471.4 L915.8,471.7 L916.8,471.9 L917.8,472.1 L918.8,472.3 L919.8,472.4 L920.8,472.6 L921.8,472.7 L922.8,472.8 L923.8,473.0 L924.8,473.1 L925.8,473.2 L926.8,473.3 L927.8,473.3 L928.8,473.4 L929.8,473.5 L930.8,473.6 L931.8,473.6 L932.8,473.7 L933.8,473.8 L934.8,473.8 L935.8,473.9 L936.8,473.9 L937.8,474.0 L938.8,474.1 L939.8,474.1 L940.8,474.2 L941.8,474.3 L942.8,474.4 L943.8,474.4 L944.8,474.5 L945.8,474.6 L946.8,474.6 L947.8,474.7 L948.8,474.7 L949.8,474.8 L950.8,474.9 L951.8,474.9 L952.8,475.0 L953.8,475.0 L954.8,475.1 L955.8,475.1 L956.8,475.2 L957.8,475.2 L958.8,475.3 L959.8,475.3 L960.8,475.3 L961.8,475.4 L962.8,475.4 L963.8,475.5 L964.8,475.5 L965.8,475.5 L966.8,475.6 L967.8,475.6 L968.8,475.6 L969.8,475.7 L970.8,475.7 L971.8,475.7 L972.8,475.8 L973.8,475.8 L974.8,475.8 L975.8,475.8 L976.8,475.9 L977.8,475.9 L978.8,475.9 L979.8,475.9 L980.8,476.0 L981.8,476.0 L982.8,476.0 L983.8,476.0 L984.8,476.1 L985.8,476.1 L986.8,476.1 L987.8,476.1 L988.8,476.1 L989.8,476.2 L990.8,476.2 L991.8,476.2 L992.8,476.2 L993.8,476.2 L994.8,476.2 L995.8,476.3 L996.8,476.3 L997.8,476.3 L998.8,476.3 L999.8,476.3 L1000.8,476.4 L1001.8,476.4 L1002.8,476.4 L1003.8,476.4" fill="none" stroke="#15801f" stroke-width="1.5" stroke-linejoin="round" />
<path d="M717.8,400.6 L718.8,399.1 L719.8,397.6 L720.8,396.1 L721.8,394.5 L722.8,392.9 L723.8,391.3 L724.8,389.7 L725.8,388.1 L726.8,386.4 L727.8,384.8 L728.8,383.2 L729.8,381.6 L730.8,380.0 L731.8,378.5 L732.8,377.0 L733.8,375.5 L734.8,374.1 L735.8,372.6 L736.8,371.2 L737.8,369.7 L738.8,368.3 L739.8,366.9 L740.8,365.5 L741.8,364.1 L742.8,362.7 L743.8,361.4 L744.8,360.1 L745.8,358.8 L746.8,357.5 L747.8,356.3 L748.8,355.1 L749.8,354.0 L750.8,352.9 L751.8,351.9 L752.8,350.9 L753.8,350.0 L754.8,349.1 L755.8,348.2 L756.8,347.4 L757.8,346.7 L758.8,345.9 L759.8,345.3 L760.8,344.6 L761.8,344.0 L762.8,343.4 L763.8,342.8 L764.8,342.2 L765.8,341.7 L766.8,341.2 L767.8,340.7 L768.8,340.3 L769.8,339.8 L770.8,339.4 L771.8,339.0 L772.8,338.6 L773.8,338.2 L774.8,337.9 L775.8,337.6 L776.8,337.4 L777.8,337.1 L778.8,336.9 L779.8,336.7 L780.8,336.5 L781.8,336.4 L782.8,336.2 L783.8,336.1 L784.8,336.0 L785.8,335.8 L786.8,335.7 L787.8,335.7 L788.8,335.6 L789.8,335.5 L790.8,335.4 L791.8,335.4 L792.8,335.4 L793.8,335.4 L794.8,335.5 L795.8,335.6 L796.8,335.6 L797.8,335.7 L798.8,335.8 L799.8,336.0 L800.8,336.1 L801.8,336.2 L802.8,336.2 L803.8,336.3 L804.8,336.3 L805.8,336.4 L806.8,336.3 L807.8,336.3 L808.8,336.2 L809.8,336.1 L810.8,336.0 L811.8,335.9 L812.8,335.8 L813.8,335.7 L814.8,335.6 L815.8,335.4 L816.8,335.2 L817.8,335.0 L818.8,334.7 L819.8,334.4 L820.8,334.0 L821.8,333.5 L822.8,333.0 L823.8,332.4 L824.8,331.7 L825.8,330.9 L826.8,330.0 L827.8,329.0 L828.8,327.9 L829.8,326.8 L830.8,325.7 L831.8,324.6 L832.8,323.5 L833.8,322.4 L834.8,321.4 L835.8,320.4 L836.8,319.3 L837.8,318.2 L838.8,317.2 L839.8,316.1 L840.8,315.1 L841.8,314.1 L842.8,313.1 L843.8,312.3 L844.8,311.5 L845.8,310.6 L846.8,309.9 L847.8,309.4 L848.8,309.2 L849.8,309.4 L850.8,309.9 L851.8,310.6 L852.8,311.6 L853.8,312.8 L854.8,314.3 L855.8,316.1 L856.8,318.3 L857.8,320.8 L858.8,323.5 L859.8,326.5 L860.8,329.5 L861.8,332.5 L862.8,335.5 L863.8,338.4 L864.8,341.5 L865.8,344.7 L866.8,348.0 L867.8,351.2 L868.8,354.4 L869.8,357.4 L870.8,360.3 L871.8,362.9 L872.8,365.2 L873.8,367.2 L874.8,368.9 L875.8,370.5 L876.8,371.9 L877.8,373.2 L878.8,374.3 L879.8,375.4 L880.8,376.5 L881.8,377.4 L882.8,378.3 L883.8,379.0 L884.8,379.7 L885.8,380.4 L886.8,381.0 L887.8,381.5 L888.8,382.0 L889.8,382.5 L890.8,382.9 L891.8,383.3 L892.8,383.7 L893.8,384.1 L894.8,384.3 L895.8,384.6 L896.8,384.8 L897.8,385.0 L898.8,385.1 L899.8,385.3 L900.8,385.4 L901.8,385.6 L902.8,385.8 L903.8,385.9 L904.8,385.9 L905.8,385.9 L906.8,385.9 L907.8,385.9 L908.8,385.9 L909.8,386.0 L910.8,386.1 L911.8,386.2 L912.8,386.5 L913.8,386.9 L914.8,387.4 L915.8,387.9 L916.8,388.6 L917.8,389.3 L918.8,390.1 L919.8,391.0 L920.8,392.1 L921.8,393.2 L922.8,394.5 L923.8,395.9 L924.8,397.4 L925.8,399.0 L926.8,400.7 L927.8,402.3 L928.8,403.9 L929.8,405.5 L930.8,407.1 L931.8,408.5 L932.8,409.8 L933.8,411.1 L934.8,412.4 L935.8,413.7 L936.8,414.9 L937.8,416.1 L938.8,417.2 L939.8,418.4 L940.8,419.5 L941.8,420.6 L942.8,421.7 L943.8,422.7 L944.8,423.7 L945.8,424.7 L946.8,425.6 L947.8,426.6 L948.8,427.4 L949.8,428.3 L950.8,429.1 L951.8,429.9 L952.8,430.7 L953.8,431.4 L954.8,432.1 L955.8,432.8 L956.8,433.5 L957.8,434.2 L958.8,434.8 L959.8,435.4 L960.8,436.1 L961.8,436.7 L962.8,437.3 L963.8,437.9 L964.8,438.5 L965.8,439.1 L966.8,439.7 L967.8,440.3 L968.8,440.8 L969.8,441.4 L970.8,441.9 L971.8,442.5 L972.8,443.0 L973.8,443.5 L974.8,444.0 L975.8,444.5 L976.8,445.0 L977.8,445.4 L978.8,445.9 L979.8,446.4 L980.8,446.8 L981.8,447.3 L982.8,447.7 L983.8,448.2 L984.8,448.6 L985.8,449.1 L986.8,449.5 L987.8,450.0 L988.8,450.4 L989.8,450.8 L990.8,451.2 L991.8,451.7 L992.8,452.1 L993.8,452.5 L994.8,452.9 L995.8,453.3 L996.8,453.7 L997.8,454.0 L998.8,454.4 L999.8,454.8 L1000.8,455.2 L1001.8,455.5 L1002.8,455.9 L1003.8,456.2" fill="none" stroke="#e718e0" stroke-width="1.5" stroke-linejoin="round" />
</g>
<line x1="464.8" y1="243.5" x2="464.8" y2="501.2" stroke="#000" stroke-width="1.3" stroke-dasharray="5.4 3.8"/>
<line x1="514.3" y1="150.0" x2="514.3" y2="501.2" stroke="#000" stroke-width="1.3" stroke-dasharray="5.4 3.8"/>
<line x1="604.3" y1="88.0" x2="604.3" y2="501.2" stroke="#000" stroke-width="1.3" stroke-dasharray="5.4 3.8"/>
<line x1="656.3" y1="238.0" x2="656.3" y2="501.2" stroke="#000" stroke-width="1.3" stroke-dasharray="5.4 3.8"/>
<line x1="875.2" y1="174.0" x2="875.2" y2="501.2" stroke="#000" stroke-width="1.3" stroke-dasharray="5.4 3.8"/>
<line x1="926.0" y1="190.0" x2="926.0" y2="501.2" stroke="#000" stroke-width="1.3" stroke-dasharray="5.4 3.8"/>
<rect x="391" y="63.2" width="286.29999999999995" height="438.0" fill="none" stroke="#1a1a1a" stroke-width="1.5"/>
<line x1="391.0" y1="282.3" x2="677.3" y2="282.3" stroke="#1a1a1a" stroke-width="1.3" />
<rect x="717.8" y="63.2" width="286.6" height="438.0" fill="none" stroke="#1a1a1a" stroke-width="1.5"/>
<line x1="717.8" y1="283.2" x2="1004.4" y2="283.2" stroke="#1a1a1a" stroke-width="1.3" />
<line x1="438.0" y1="282.3" x2="438.0" y2="276.8" stroke="#1a1a1a" stroke-width="1.3" />
<line x1="438.0" y1="501.2" x2="438.0" y2="495.7" stroke="#1a1a1a" stroke-width="1.3" />
<line x1="486.2" y1="282.3" x2="486.2" y2="276.8" stroke="#1a1a1a" stroke-width="1.3" />
<line x1="486.2" y1="501.2" x2="486.2" y2="495.7" stroke="#1a1a1a" stroke-width="1.3" />
<line x1="534.8" y1="282.3" x2="534.8" y2="276.8" stroke="#1a1a1a" stroke-width="1.3" />
<line x1="534.8" y1="501.2" x2="534.8" y2="495.7" stroke="#1a1a1a" stroke-width="1.3" />
<line x1="583.0" y1="282.3" x2="583.0" y2="276.8" stroke="#1a1a1a" stroke-width="1.3" />
<line x1="583.0" y1="501.2" x2="583.0" y2="495.7" stroke="#1a1a1a" stroke-width="1.3" />
<line x1="631.0" y1="282.3" x2="631.0" y2="276.8" stroke="#1a1a1a" stroke-width="1.3" />
<line x1="631.0" y1="501.2" x2="631.0" y2="495.7" stroke="#1a1a1a" stroke-width="1.3" />
<line x1="758.5" y1="283.2" x2="758.5" y2="277.7" stroke="#1a1a1a" stroke-width="1.3" />
<line x1="758.5" y1="501.2" x2="758.5" y2="495.7" stroke="#1a1a1a" stroke-width="1.3" />
<line x1="799.7" y1="283.2" x2="799.7" y2="277.7" stroke="#1a1a1a" stroke-width="1.3" />
<line x1="799.7" y1="501.2" x2="799.7" y2="495.7" stroke="#1a1a1a" stroke-width="1.3" />
<line x1="840.3" y1="283.2" x2="840.3" y2="277.7" stroke="#1a1a1a" stroke-width="1.3" />
<line x1="840.3" y1="501.2" x2="840.3" y2="495.7" stroke="#1a1a1a" stroke-width="1.3" />
<line x1="880.6" y1="283.2" x2="880.6" y2="277.7" stroke="#1a1a1a" stroke-width="1.3" />
<line x1="880.6" y1="501.2" x2="880.6" y2="495.7" stroke="#1a1a1a" stroke-width="1.3" />
<line x1="921.5" y1="283.2" x2="921.5" y2="277.7" stroke="#1a1a1a" stroke-width="1.3" />
<line x1="921.5" y1="501.2" x2="921.5" y2="495.7" stroke="#1a1a1a" stroke-width="1.3" />
<line x1="962.6" y1="283.2" x2="962.6" y2="277.7" stroke="#1a1a1a" stroke-width="1.3" />
<line x1="962.6" y1="501.2" x2="962.6" y2="495.7" stroke="#1a1a1a" stroke-width="1.3" />
<line x1="391.0" y1="103.0" x2="396.5" y2="103.0" stroke="#1a1a1a" stroke-width="1.3" />
<line x1="391.0" y1="180.7" x2="396.5" y2="180.7" stroke="#1a1a1a" stroke-width="1.3" />
<line x1="391.0" y1="274.4" x2="396.5" y2="274.4" stroke="#1a1a1a" stroke-width="1.3" />
<line x1="391.0" y1="337.0" x2="396.5" y2="337.0" stroke="#1a1a1a" stroke-width="1.3" />
<line x1="391.0" y1="413.8" x2="396.5" y2="413.8" stroke="#1a1a1a" stroke-width="1.3" />
<line x1="391.0" y1="490.5" x2="396.5" y2="490.5" stroke="#1a1a1a" stroke-width="1.3" />
<line x1="717.8" y1="89.3" x2="723.3" y2="89.3" stroke="#1a1a1a" stroke-width="1.3" />
<line x1="717.8" y1="175.2" x2="723.3" y2="175.2" stroke="#1a1a1a" stroke-width="1.3" />
<line x1="717.8" y1="260.8" x2="723.3" y2="260.8" stroke="#1a1a1a" stroke-width="1.3" />
<line x1="717.8" y1="328.8" x2="723.3" y2="328.8" stroke="#1a1a1a" stroke-width="1.3" />
<line x1="717.8" y1="407.5" x2="723.3" y2="407.5" stroke="#1a1a1a" stroke-width="1.3" />
<line x1="717.8" y1="486.1" x2="723.3" y2="486.1" stroke="#1a1a1a" stroke-width="1.3" />
<text x="385" y="111.3" font-size="20" fill="#000" text-anchor="end" >115</text>
<text x="385.5" y="283.5" font-size="20" fill="#000" text-anchor="end" >5</text>
<text x="385.5" y="348" font-size="20" fill="#000" text-anchor="end" >75</text>
<text x="385.5" y="499.5" font-size="20" fill="#000" text-anchor="end" >5</text>
<text x="714" y="99" font-size="20" fill="#000" text-anchor="end" >20</text>
<text x="714" y="270.5" font-size="20" fill="#000" text-anchor="end" >0</text>
<text x="714" y="338.5" font-size="20" fill="#000" text-anchor="end" >5</text>
<text x="714" y="494.5" font-size="20" fill="#000" text-anchor="end" >0</text>
<text x="440.5" y="529.4" font-size="20" fill="#000" text-anchor="middle" >370</text>
<text x="536.3" y="529.4" font-size="20" fill="#000" text-anchor="middle" >390</text>
<text x="632.5" y="529.4" font-size="20" fill="#000" text-anchor="middle" >410</text>
<text x="760.5" y="528.5" font-size="20" fill="#000" text-anchor="middle" >1.6</text>
<text x="845" y="528.5" font-size="20" fill="#000" text-anchor="middle" >1.8</text>
<text x="922.8" y="528.5" font-size="20" fill="#000" text-anchor="middle" >2.0</text>
<text x="445" y="559.8" font-size="22.2" fill="#000">Raman shift (cm<tspan font-size="15" dy="-8">-1</tspan><tspan dy="8" dx="1.2">)</tspan></text>
<text x="850.6" y="559.7" font-size="22.2" fill="#000" text-anchor="middle" >Energy (eV)</text>
<text transform="translate(350,261) rotate(-90)" font-size="22.2" fill="#000" text-anchor="middle">Intensity (cts/sec)</text>
<text x="394.6" y="87.9" font-size="20" fill="#000"><tspan font-size="21" dy="-0.6">(c)</tspan><tspan dx="3.5" dy="0.6">Pristine</tspan></text>
<text x="394.4" y="306.3" font-size="20" fill="#000"><tspan font-size="21" dy="-0.6">(d)</tspan><tspan dx="1.5" dy="0.6">Irradiated</tspan></text>
<text x="725" y="88" font-size="20" fill="#000"><tspan font-size="21" dy="-0.6">(e)</tspan><tspan dx="5" dy="0.6">Pristine</tspan></text>
<text x="724.2" y="307" font-size="20" fill="#000"><tspan font-size="21" dy="-0.6">(f)</tspan><tspan dx="0.8" dy="0.6">Irradiated</tspan></text>
<text x="503" y="138.7" font-size="20" fill="#000" text-anchor="start" >E'</text>
<circle cx="535" cy="172.4" r="0.8" fill="#e33"/>
<text x="454.2" y="238.3" font-size="20" fill="#000" text-anchor="start" >LO</text>
<text x="644.2" y="230.6" font-size="20" fill="#000" text-anchor="start" >ZO</text>
<text x="616.8" y="93" font-size="20" fill="#000">A<tspan font-size="13" dy="5">1</tspan><tspan dy="-5" dx="1.5">'</tspan></text>
<text x="853" y="116" font-size="20" fill="#000">X<tspan font-size="14" dy="-7">-</tspan></text>
<text x="848.5" y="199.4" font-size="20" fill="#000">X<tspan font-size="12" dy="-7" font-weight="bold">0</tspan></text>
<text x="932.8" y="243" font-size="20" fill="#000" text-anchor="start" >B</text>
<text x="774" y="368" font-size="20" fill="#000" text-anchor="start" >L</text>
<text x="841.8" y="433" font-size="20" fill="#000">X<tspan font-size="14" dy="-7">-</tspan></text>
<text x="911.8" y="460" font-size="20" fill="#000" text-anchor="start" >B</text>
</svg></body></html>
